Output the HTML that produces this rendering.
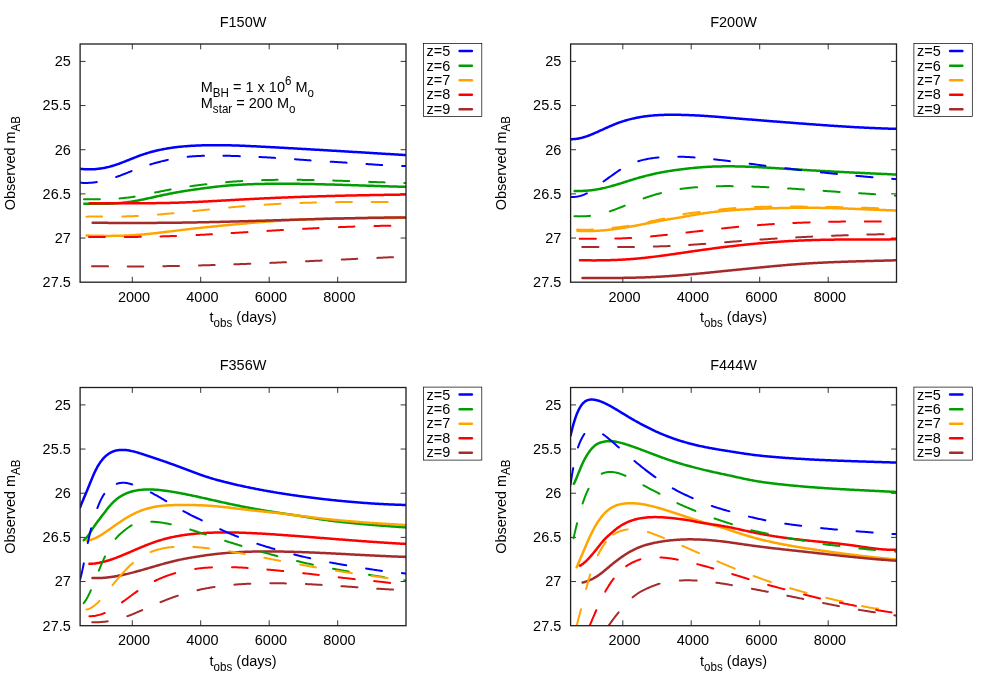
<!DOCTYPE html>
<html><head><meta charset="utf-8"><title>Observed m_AB light curves</title>
<style>
html,body{margin:0;padding:0;background:#fff;}
svg{display:block;will-change:transform;}
text{font-family:"Liberation Sans",sans-serif;font-size:14.5px;fill:#000;}
</style></head>
<body>
<svg width="981" height="687" viewBox="0 0 981 687">
<rect width="981" height="687" fill="#fff"/>
<g transform="translate(0.0,0.0)">
<clipPath id="cp0"><rect x="80.1" y="44.0" width="325.9" height="238.2"/></clipPath>
<text transform="translate(70.8,66.25) scale(1,1.045)" text-anchor="end">25</text>
<text transform="translate(70.8,110.41) scale(1,1.045)" text-anchor="end">25.5</text>
<text transform="translate(70.8,154.57) scale(1,1.045)" text-anchor="end">26</text>
<text transform="translate(70.8,198.73) scale(1,1.045)" text-anchor="end">26.5</text>
<text transform="translate(70.8,242.89) scale(1,1.045)" text-anchor="end">27</text>
<text transform="translate(70.8,287.05) scale(1,1.045)" text-anchor="end">27.5</text>
<text transform="translate(134.0,301.90) scale(1,1.045)" text-anchor="middle">2000</text>
<text transform="translate(202.39999999999998,301.90) scale(1,1.045)" text-anchor="middle">4000</text>
<text transform="translate(270.9,301.90) scale(1,1.045)" text-anchor="middle">6000</text>
<text transform="translate(339.4,301.90) scale(1,1.045)" text-anchor="middle">8000</text>
<path d="M80.1,61.40h5.4 M406.0,61.40h-5.4 M80.1,105.56h5.4 M406.0,105.56h-5.4 M80.1,149.72h5.4 M406.0,149.72h-5.4 M80.1,193.88h5.4 M406.0,193.88h-5.4 M80.1,238.04h5.4 M406.0,238.04h-5.4 M132.3,282.2v-5.4 M132.3,44.0v5.4 M200.7,282.2v-5.4 M200.7,44.0v5.4 M269.2,282.2v-5.4 M269.2,44.0v5.4 M337.7,282.2v-5.4 M337.7,44.0v5.4" stroke="#000" stroke-width="0.8" fill="none"/>
<text transform="translate(243.05,26.5) scale(1,1.045)" text-anchor="middle">F150W</text>
<text transform="translate(243.05,322.2) scale(1,1.045)" text-anchor="middle">t<tspan font-size="11.6" dy="4.6">obs</tspan><tspan dy="-4.6"> (days)</tspan></text>
<text transform="translate(15.1,163.10) rotate(-90) scale(1,1.045)" text-anchor="middle">Observed m<tspan font-size="11.6" dy="4.6">AB</tspan></text>
<g clip-path="url(#cp0)" fill="none" stroke-linecap="round" stroke-linejoin="round">
<path d="M80.00,168.80 L81.00,168.91 L82.00,169.00 L83.00,169.09 L84.00,169.16 L85.00,169.22 L86.00,169.26 L87.00,169.30 L88.00,169.32 L89.00,169.33 L90.00,169.33 L91.00,169.31 L92.00,169.29 L93.00,169.25 L94.00,169.19 L95.00,169.13 L96.00,169.05 L97.00,168.96 L98.00,168.85 L99.00,168.74 L100.00,168.61 L101.00,168.46 L102.00,168.31 L103.00,168.14 L104.00,167.96 L105.00,167.76 L106.00,167.56 L107.00,167.33 L108.00,167.10 L109.00,166.85 L110.00,166.59 L111.00,166.32 L112.00,166.03 L113.00,165.73 L114.00,165.42 L115.00,165.09 L116.00,164.76 L117.00,164.42 L118.00,164.07 L119.00,163.71 L120.00,163.34 L121.00,162.97 L122.00,162.59 L123.00,162.20 L124.00,161.81 L125.00,161.42 L126.00,161.02 L127.00,160.62 L128.00,160.22 L129.00,159.82 L130.00,159.42 L131.00,159.02 L132.00,158.62 L133.00,158.22 L134.00,157.82 L135.00,157.43 L136.00,157.04 L137.00,156.66 L138.00,156.28 L139.00,155.91 L140.00,155.54 L141.00,155.18 L142.00,154.83 L143.00,154.49 L144.00,154.16 L145.00,153.83 L146.00,153.51 L147.00,153.20 L148.00,152.90 L149.00,152.61 L150.00,152.32 L151.00,152.04 L152.00,151.77 L153.00,151.51 L154.00,151.25 L155.00,151.00 L156.00,150.76 L157.00,150.52 L158.00,150.29 L159.00,150.07 L160.00,149.86 L161.00,149.65 L162.00,149.44 L163.00,149.25 L164.00,149.05 L165.00,148.87 L166.00,148.69 L167.00,148.52 L168.00,148.35 L169.00,148.19 L170.00,148.03 L171.00,147.88 L172.00,147.74 L173.00,147.60 L174.00,147.46 L175.00,147.33 L176.00,147.21 L177.00,147.09 L178.00,146.97 L179.00,146.86 L180.00,146.76 L181.00,146.66 L182.00,146.56 L183.00,146.47 L184.00,146.38 L185.00,146.29 L186.00,146.21 L187.00,146.13 L188.00,146.06 L189.00,145.99 L190.00,145.92 L191.00,145.86 L192.00,145.80 L193.00,145.74 L194.00,145.69 L195.00,145.64 L196.00,145.59 L197.00,145.55 L198.00,145.51 L199.00,145.47 L200.00,145.43 L201.00,145.39 L202.00,145.36 L203.00,145.33 L204.00,145.31 L205.00,145.28 L206.00,145.26 L207.00,145.24 L208.00,145.22 L209.00,145.21 L210.00,145.19 L211.00,145.18 L212.00,145.18 L213.00,145.17 L214.00,145.16 L215.00,145.16 L216.00,145.16 L217.00,145.16 L218.00,145.17 L219.00,145.17 L220.00,145.18 L221.00,145.19 L222.00,145.20 L223.00,145.21 L224.00,145.23 L225.00,145.24 L226.00,145.26 L227.00,145.28 L228.00,145.30 L229.00,145.32 L230.00,145.35 L231.00,145.37 L232.00,145.40 L233.00,145.43 L234.00,145.46 L235.00,145.49 L236.00,145.52 L237.00,145.55 L238.00,145.59 L239.00,145.62 L240.00,145.66 L241.00,145.70 L242.00,145.74 L243.00,145.78 L244.00,145.82 L245.00,145.86 L246.00,145.90 L247.00,145.94 L248.00,145.99 L249.00,146.03 L250.00,146.08 L251.00,146.13 L252.00,146.17 L253.00,146.22 L254.00,146.27 L255.00,146.32 L256.00,146.37 L257.00,146.42 L258.00,146.47 L259.00,146.52 L260.00,146.57 L261.00,146.63 L262.00,146.68 L263.00,146.73 L264.00,146.78 L265.00,146.84 L266.00,146.89 L267.00,146.94 L268.00,147.00 L269.00,147.05 L270.00,147.10 L271.00,147.16 L272.00,147.21 L273.00,147.27 L274.00,147.32 L275.00,147.37 L276.00,147.43 L277.00,147.48 L278.00,147.54 L279.00,147.59 L280.00,147.65 L281.00,147.70 L282.00,147.76 L283.00,147.81 L284.00,147.87 L285.00,147.92 L286.00,147.98 L287.00,148.03 L288.00,148.09 L289.00,148.15 L290.00,148.20 L291.00,148.26 L292.00,148.31 L293.00,148.37 L294.00,148.43 L295.00,148.48 L296.00,148.54 L297.00,148.60 L298.00,148.65 L299.00,148.71 L300.00,148.77 L301.00,148.82 L302.00,148.88 L303.00,148.94 L304.00,149.00 L305.00,149.05 L306.00,149.11 L307.00,149.17 L308.00,149.23 L309.00,149.28 L310.00,149.34 L311.00,149.40 L312.00,149.46 L313.00,149.51 L314.00,149.57 L315.00,149.63 L316.00,149.69 L317.00,149.75 L318.00,149.81 L319.00,149.86 L320.00,149.92 L321.00,149.98 L322.00,150.04 L323.00,150.10 L324.00,150.16 L325.00,150.22 L326.00,150.27 L327.00,150.33 L328.00,150.39 L329.00,150.45 L330.00,150.51 L331.00,150.57 L332.00,150.63 L333.00,150.69 L334.00,150.75 L335.00,150.81 L336.00,150.87 L337.00,150.93 L338.00,150.99 L339.00,151.04 L340.00,151.10 L341.00,151.16 L342.00,151.22 L343.00,151.28 L344.00,151.34 L345.00,151.40 L346.00,151.46 L347.00,151.52 L348.00,151.58 L349.00,151.64 L350.00,151.70 L351.00,151.76 L352.00,151.82 L353.00,151.88 L354.00,151.94 L355.00,152.00 L356.00,152.06 L357.00,152.12 L358.00,152.18 L359.00,152.24 L360.00,152.30 L361.00,152.37 L362.00,152.43 L363.00,152.49 L364.00,152.55 L365.00,152.61 L366.00,152.67 L367.00,152.73 L368.00,152.79 L369.00,152.85 L370.00,152.91 L371.00,152.97 L372.00,153.03 L373.00,153.09 L374.00,153.15 L375.00,153.21 L376.00,153.27 L377.00,153.33 L378.00,153.39 L379.00,153.45 L380.00,153.51 L381.00,153.58 L382.00,153.64 L383.00,153.70 L384.00,153.76 L385.00,153.82 L386.00,153.88 L387.00,153.94 L388.00,154.00 L389.00,154.06 L390.00,154.12 L391.00,154.18 L392.00,154.24 L393.00,154.30 L394.00,154.36 L395.00,154.42 L396.00,154.48 L397.00,154.54 L398.00,154.60 L399.00,154.66 L400.00,154.72 L401.00,154.79 L402.00,154.85 L403.00,154.91 L404.00,154.97 L405.00,155.03 L406.00,155.09" stroke="#0000ff" stroke-width="2.5"/>
<path d="M84.25,203.69 L85.25,203.70 L86.25,203.72 L87.25,203.73 L88.25,203.74 L89.25,203.76 L90.25,203.77 L91.25,203.78 L92.25,203.79 L93.25,203.80 L94.25,203.80 L95.25,203.81 L96.25,203.81 L97.25,203.81 L98.25,203.81 L99.25,203.81 L100.25,203.81 L101.25,203.80 L102.25,203.79 L103.25,203.78 L104.25,203.76 L105.25,203.74 L106.25,203.72 L107.25,203.69 L108.25,203.67 L109.25,203.63 L110.25,203.60 L111.25,203.56 L112.25,203.51 L113.25,203.46 L114.25,203.41 L115.25,203.35 L116.25,203.29 L117.25,203.22 L118.25,203.15 L119.25,203.07 L120.25,202.99 L121.25,202.90 L122.25,202.80 L123.25,202.70 L124.25,202.60 L125.25,202.49 L126.25,202.37 L127.25,202.24 L128.25,202.11 L129.25,201.97 L130.25,201.83 L131.25,201.67 L132.25,201.52 L133.25,201.35 L134.25,201.18 L135.25,201.00 L136.25,200.82 L137.25,200.63 L138.25,200.44 L139.25,200.24 L140.25,200.04 L141.25,199.84 L142.25,199.63 L143.25,199.42 L144.25,199.20 L145.25,198.99 L146.25,198.77 L147.25,198.55 L148.25,198.33 L149.25,198.11 L150.25,197.88 L151.25,197.66 L152.25,197.44 L153.25,197.21 L154.25,196.99 L155.25,196.77 L156.25,196.55 L157.25,196.33 L158.25,196.11 L159.25,195.89 L160.25,195.67 L161.25,195.46 L162.25,195.24 L163.25,195.03 L164.25,194.82 L165.25,194.61 L166.25,194.41 L167.25,194.20 L168.25,194.00 L169.25,193.80 L170.25,193.60 L171.25,193.41 L172.25,193.22 L173.25,193.03 L174.25,192.84 L175.25,192.65 L176.25,192.47 L177.25,192.29 L178.25,192.11 L179.25,191.94 L180.25,191.76 L181.25,191.59 L182.25,191.43 L183.25,191.26 L184.25,191.10 L185.25,190.94 L186.25,190.79 L187.25,190.63 L188.25,190.48 L189.25,190.33 L190.25,190.18 L191.25,190.03 L192.25,189.88 L193.25,189.74 L194.25,189.59 L195.25,189.45 L196.25,189.31 L197.25,189.17 L198.25,189.02 L199.25,188.89 L200.25,188.75 L201.25,188.61 L202.25,188.47 L203.25,188.34 L204.25,188.21 L205.25,188.07 L206.25,187.94 L207.25,187.81 L208.25,187.68 L209.25,187.55 L210.25,187.43 L211.25,187.30 L212.25,187.18 L213.25,187.05 L214.25,186.93 L215.25,186.82 L216.25,186.70 L217.25,186.59 L218.25,186.48 L219.25,186.37 L220.25,186.27 L221.25,186.17 L222.25,186.07 L223.25,185.97 L224.25,185.88 L225.25,185.79 L226.25,185.70 L227.25,185.62 L228.25,185.53 L229.25,185.45 L230.25,185.37 L231.25,185.30 L232.25,185.22 L233.25,185.15 L234.25,185.08 L235.25,185.02 L236.25,184.95 L237.25,184.89 L238.25,184.83 L239.25,184.77 L240.25,184.71 L241.25,184.66 L242.25,184.61 L243.25,184.56 L244.25,184.51 L245.25,184.46 L246.25,184.42 L247.25,184.37 L248.25,184.33 L249.25,184.29 L250.25,184.25 L251.25,184.22 L252.25,184.18 L253.25,184.15 L254.25,184.12 L255.25,184.09 L256.25,184.06 L257.25,184.03 L258.25,184.01 L259.25,183.99 L260.25,183.96 L261.25,183.94 L262.25,183.92 L263.25,183.90 L264.25,183.89 L265.25,183.87 L266.25,183.86 L267.25,183.84 L268.25,183.83 L269.25,183.82 L270.25,183.81 L271.25,183.80 L272.25,183.79 L273.25,183.78 L274.25,183.78 L275.25,183.77 L276.25,183.77 L277.25,183.76 L278.25,183.76 L279.25,183.76 L280.25,183.76 L281.25,183.76 L282.25,183.76 L283.25,183.76 L284.25,183.76 L285.25,183.76 L286.25,183.76 L287.25,183.77 L288.25,183.77 L289.25,183.78 L290.25,183.79 L291.25,183.79 L292.25,183.80 L293.25,183.81 L294.25,183.82 L295.25,183.83 L296.25,183.84 L297.25,183.85 L298.25,183.86 L299.25,183.87 L300.25,183.88 L301.25,183.90 L302.25,183.91 L303.25,183.93 L304.25,183.94 L305.25,183.96 L306.25,183.97 L307.25,183.99 L308.25,184.01 L309.25,184.02 L310.25,184.04 L311.25,184.06 L312.25,184.08 L313.25,184.10 L314.25,184.12 L315.25,184.14 L316.25,184.16 L317.25,184.19 L318.25,184.21 L319.25,184.23 L320.25,184.25 L321.25,184.28 L322.25,184.30 L323.25,184.33 L324.25,184.35 L325.25,184.38 L326.25,184.40 L327.25,184.43 L328.25,184.45 L329.25,184.48 L330.25,184.51 L331.25,184.53 L332.25,184.56 L333.25,184.59 L334.25,184.62 L335.25,184.65 L336.25,184.68 L337.25,184.71 L338.25,184.73 L339.25,184.76 L340.25,184.79 L341.25,184.82 L342.25,184.85 L343.25,184.89 L344.25,184.92 L345.25,184.95 L346.25,184.98 L347.25,185.01 L348.25,185.04 L349.25,185.07 L350.25,185.11 L351.25,185.14 L352.25,185.17 L353.25,185.20 L354.25,185.23 L355.25,185.27 L356.25,185.30 L357.25,185.33 L358.25,185.37 L359.25,185.40 L360.25,185.43 L361.25,185.46 L362.25,185.50 L363.25,185.53 L364.25,185.56 L365.25,185.60 L366.25,185.63 L367.25,185.66 L368.25,185.70 L369.25,185.73 L370.25,185.76 L371.25,185.80 L372.25,185.83 L373.25,185.86 L374.25,185.90 L375.25,185.93 L376.25,185.96 L377.25,186.00 L378.25,186.03 L379.25,186.06 L380.25,186.09 L381.25,186.13 L382.25,186.16 L383.25,186.19 L384.25,186.22 L385.25,186.25 L386.25,186.29 L387.25,186.32 L388.25,186.35 L389.25,186.38 L390.25,186.41 L391.25,186.44 L392.25,186.47 L393.25,186.50 L394.25,186.53 L395.25,186.56 L396.25,186.59 L397.25,186.62 L398.25,186.65 L399.25,186.68 L400.25,186.71 L401.25,186.73 L402.25,186.76 L403.25,186.79 L404.25,186.82 L405.25,186.84 L406.00,186.86" stroke="#009e00" stroke-width="2.5"/>
<path d="M86.65,235.56 L87.65,235.58 L88.65,235.61 L89.65,235.63 L90.65,235.65 L91.65,235.68 L92.65,235.70 L93.65,235.72 L94.65,235.74 L95.65,235.76 L96.65,235.78 L97.65,235.79 L98.65,235.81 L99.65,235.82 L100.65,235.84 L101.65,235.85 L102.65,235.86 L103.65,235.87 L104.65,235.88 L105.65,235.88 L106.65,235.89 L107.65,235.89 L108.65,235.89 L109.65,235.89 L110.65,235.89 L111.65,235.88 L112.65,235.87 L113.65,235.86 L114.65,235.85 L115.65,235.84 L116.65,235.82 L117.65,235.81 L118.65,235.79 L119.65,235.76 L120.65,235.74 L121.65,235.71 L122.65,235.68 L123.65,235.65 L124.65,235.61 L125.65,235.57 L126.65,235.53 L127.65,235.48 L128.65,235.44 L129.65,235.39 L130.65,235.33 L131.65,235.28 L132.65,235.22 L133.65,235.15 L134.65,235.09 L135.65,235.02 L136.65,234.95 L137.65,234.87 L138.65,234.80 L139.65,234.72 L140.65,234.64 L141.65,234.55 L142.65,234.47 L143.65,234.38 L144.65,234.29 L145.65,234.19 L146.65,234.10 L147.65,234.00 L148.65,233.90 L149.65,233.80 L150.65,233.70 L151.65,233.59 L152.65,233.49 L153.65,233.38 L154.65,233.27 L155.65,233.16 L156.65,233.05 L157.65,232.93 L158.65,232.82 L159.65,232.70 L160.65,232.58 L161.65,232.47 L162.65,232.35 L163.65,232.23 L164.65,232.11 L165.65,231.98 L166.65,231.86 L167.65,231.74 L168.65,231.62 L169.65,231.49 L170.65,231.37 L171.65,231.24 L172.65,231.12 L173.65,230.99 L174.65,230.87 L175.65,230.74 L176.65,230.62 L177.65,230.49 L178.65,230.37 L179.65,230.24 L180.65,230.12 L181.65,229.99 L182.65,229.87 L183.65,229.75 L184.65,229.63 L185.65,229.51 L186.65,229.38 L187.65,229.26 L188.65,229.15 L189.65,229.03 L190.65,228.91 L191.65,228.80 L192.65,228.68 L193.65,228.57 L194.65,228.45 L195.65,228.34 L196.65,228.23 L197.65,228.12 L198.65,228.02 L199.65,227.91 L200.65,227.80 L201.65,227.70 L202.65,227.59 L203.65,227.49 L204.65,227.38 L205.65,227.28 L206.65,227.18 L207.65,227.07 L208.65,226.97 L209.65,226.87 L210.65,226.77 L211.65,226.67 L212.65,226.57 L213.65,226.47 L214.65,226.37 L215.65,226.27 L216.65,226.17 L217.65,226.07 L218.65,225.97 L219.65,225.87 L220.65,225.77 L221.65,225.68 L222.65,225.58 L223.65,225.48 L224.65,225.38 L225.65,225.28 L226.65,225.19 L227.65,225.09 L228.65,224.99 L229.65,224.89 L230.65,224.80 L231.65,224.70 L232.65,224.61 L233.65,224.51 L234.65,224.42 L235.65,224.32 L236.65,224.23 L237.65,224.13 L238.65,224.04 L239.65,223.95 L240.65,223.85 L241.65,223.76 L242.65,223.67 L243.65,223.58 L244.65,223.49 L245.65,223.40 L246.65,223.31 L247.65,223.22 L248.65,223.13 L249.65,223.04 L250.65,222.95 L251.65,222.87 L252.65,222.78 L253.65,222.70 L254.65,222.61 L255.65,222.53 L256.65,222.44 L257.65,222.36 L258.65,222.28 L259.65,222.20 L260.65,222.11 L261.65,222.03 L262.65,221.95 L263.65,221.88 L264.65,221.80 L265.65,221.72 L266.65,221.64 L267.65,221.57 L268.65,221.49 L269.65,221.42 L270.65,221.35 L271.65,221.27 L272.65,221.20 L273.65,221.13 L274.65,221.06 L275.65,220.99 L276.65,220.93 L277.65,220.86 L278.65,220.79 L279.65,220.73 L280.65,220.66 L281.65,220.60 L282.65,220.54 L283.65,220.48 L284.65,220.42 L285.65,220.36 L286.65,220.30 L287.65,220.24 L288.65,220.19 L289.65,220.13 L290.65,220.08 L291.65,220.02 L292.65,219.97 L293.65,219.92 L294.65,219.87 L295.65,219.82 L296.65,219.78 L297.65,219.73 L298.65,219.68 L299.65,219.64 L300.65,219.59 L301.65,219.55 L302.65,219.51 L303.65,219.47 L304.65,219.42 L305.65,219.38 L306.65,219.35 L307.65,219.31 L308.65,219.27 L309.65,219.23 L310.65,219.20 L311.65,219.16 L312.65,219.13 L313.65,219.09 L314.65,219.06 L315.65,219.03 L316.65,219.00 L317.65,218.97 L318.65,218.94 L319.65,218.91 L320.65,218.88 L321.65,218.85 L322.65,218.83 L323.65,218.80 L324.65,218.77 L325.65,218.75 L326.65,218.72 L327.65,218.70 L328.65,218.68 L329.65,218.65 L330.65,218.63 L331.65,218.61 L332.65,218.59 L333.65,218.57 L334.65,218.55 L335.65,218.53 L336.65,218.51 L337.65,218.49 L338.65,218.47 L339.65,218.46 L340.65,218.44 L341.65,218.42 L342.65,218.41 L343.65,218.39 L344.65,218.38 L345.65,218.36 L346.65,218.35 L347.65,218.33 L348.65,218.32 L349.65,218.30 L350.65,218.29 L351.65,218.28 L352.65,218.27 L353.65,218.25 L354.65,218.24 L355.65,218.23 L356.65,218.22 L357.65,218.21 L358.65,218.20 L359.65,218.19 L360.65,218.18 L361.65,218.17 L362.65,218.16 L363.65,218.15 L364.65,218.14 L365.65,218.13 L366.65,218.12 L367.65,218.11 L368.65,218.10 L369.65,218.10 L370.65,218.09 L371.65,218.08 L372.65,218.07 L373.65,218.06 L374.65,218.05 L375.65,218.05 L376.65,218.04 L377.65,218.03 L378.65,218.02 L379.65,218.01 L380.65,218.01 L381.65,218.00 L382.65,217.99 L383.65,217.98 L384.65,217.98 L385.65,217.97 L386.65,217.96 L387.65,217.95 L388.65,217.94 L389.65,217.94 L390.65,217.93 L391.65,217.92 L392.65,217.91 L393.65,217.90 L394.65,217.89 L395.65,217.88 L396.65,217.87 L397.65,217.86 L398.65,217.86 L399.65,217.85 L400.65,217.84 L401.65,217.83 L402.65,217.82 L403.65,217.80 L404.65,217.79 L405.65,217.78 L406.00,217.78" stroke="#ffa500" stroke-width="2.5"/>
<path d="M89.65,203.17 L90.65,203.17 L91.65,203.16 L92.65,203.16 L93.65,203.16 L94.65,203.16 L95.65,203.16 L96.65,203.16 L97.65,203.16 L98.65,203.16 L99.65,203.16 L100.65,203.17 L101.65,203.17 L102.65,203.17 L103.65,203.17 L104.65,203.17 L105.65,203.18 L106.65,203.18 L107.65,203.18 L108.65,203.19 L109.65,203.19 L110.65,203.19 L111.65,203.20 L112.65,203.20 L113.65,203.20 L114.65,203.21 L115.65,203.21 L116.65,203.21 L117.65,203.22 L118.65,203.22 L119.65,203.22 L120.65,203.23 L121.65,203.23 L122.65,203.23 L123.65,203.24 L124.65,203.24 L125.65,203.24 L126.65,203.24 L127.65,203.25 L128.65,203.25 L129.65,203.25 L130.65,203.25 L131.65,203.25 L132.65,203.25 L133.65,203.25 L134.65,203.25 L135.65,203.25 L136.65,203.25 L137.65,203.25 L138.65,203.25 L139.65,203.24 L140.65,203.24 L141.65,203.24 L142.65,203.24 L143.65,203.23 L144.65,203.23 L145.65,203.22 L146.65,203.21 L147.65,203.21 L148.65,203.20 L149.65,203.19 L150.65,203.18 L151.65,203.17 L152.65,203.16 L153.65,203.15 L154.65,203.14 L155.65,203.13 L156.65,203.12 L157.65,203.10 L158.65,203.09 L159.65,203.07 L160.65,203.06 L161.65,203.04 L162.65,203.02 L163.65,203.01 L164.65,202.99 L165.65,202.97 L166.65,202.95 L167.65,202.93 L168.65,202.90 L169.65,202.88 L170.65,202.86 L171.65,202.83 L172.65,202.81 L173.65,202.78 L174.65,202.75 L175.65,202.73 L176.65,202.70 L177.65,202.67 L178.65,202.64 L179.65,202.60 L180.65,202.57 L181.65,202.54 L182.65,202.50 L183.65,202.47 L184.65,202.43 L185.65,202.39 L186.65,202.35 L187.65,202.31 L188.65,202.27 L189.65,202.23 L190.65,202.19 L191.65,202.15 L192.65,202.11 L193.65,202.06 L194.65,202.02 L195.65,201.97 L196.65,201.93 L197.65,201.88 L198.65,201.83 L199.65,201.78 L200.65,201.74 L201.65,201.69 L202.65,201.64 L203.65,201.59 L204.65,201.54 L205.65,201.49 L206.65,201.43 L207.65,201.38 L208.65,201.33 L209.65,201.28 L210.65,201.22 L211.65,201.17 L212.65,201.12 L213.65,201.06 L214.65,201.01 L215.65,200.95 L216.65,200.90 L217.65,200.84 L218.65,200.79 L219.65,200.73 L220.65,200.68 L221.65,200.62 L222.65,200.56 L223.65,200.51 L224.65,200.45 L225.65,200.40 L226.65,200.34 L227.65,200.28 L228.65,200.23 L229.65,200.17 L230.65,200.11 L231.65,200.06 L232.65,200.00 L233.65,199.95 L234.65,199.89 L235.65,199.83 L236.65,199.78 L237.65,199.72 L238.65,199.67 L239.65,199.61 L240.65,199.56 L241.65,199.50 L242.65,199.45 L243.65,199.40 L244.65,199.34 L245.65,199.29 L246.65,199.24 L247.65,199.18 L248.65,199.13 L249.65,199.08 L250.65,199.03 L251.65,198.98 L252.65,198.93 L253.65,198.88 L254.65,198.83 L255.65,198.78 L256.65,198.73 L257.65,198.68 L258.65,198.63 L259.65,198.59 L260.65,198.54 L261.65,198.49 L262.65,198.44 L263.65,198.40 L264.65,198.35 L265.65,198.31 L266.65,198.26 L267.65,198.21 L268.65,198.17 L269.65,198.13 L270.65,198.08 L271.65,198.04 L272.65,197.99 L273.65,197.95 L274.65,197.91 L275.65,197.87 L276.65,197.82 L277.65,197.78 L278.65,197.74 L279.65,197.70 L280.65,197.66 L281.65,197.62 L282.65,197.58 L283.65,197.54 L284.65,197.50 L285.65,197.46 L286.65,197.42 L287.65,197.38 L288.65,197.34 L289.65,197.31 L290.65,197.27 L291.65,197.23 L292.65,197.19 L293.65,197.16 L294.65,197.12 L295.65,197.09 L296.65,197.05 L297.65,197.01 L298.65,196.98 L299.65,196.94 L300.65,196.91 L301.65,196.87 L302.65,196.84 L303.65,196.81 L304.65,196.77 L305.65,196.74 L306.65,196.71 L307.65,196.67 L308.65,196.64 L309.65,196.61 L310.65,196.58 L311.65,196.55 L312.65,196.52 L313.65,196.48 L314.65,196.45 L315.65,196.42 L316.65,196.39 L317.65,196.36 L318.65,196.33 L319.65,196.30 L320.65,196.27 L321.65,196.25 L322.65,196.22 L323.65,196.19 L324.65,196.16 L325.65,196.13 L326.65,196.10 L327.65,196.08 L328.65,196.05 L329.65,196.02 L330.65,196.00 L331.65,195.97 L332.65,195.94 L333.65,195.92 L334.65,195.89 L335.65,195.87 L336.65,195.84 L337.65,195.82 L338.65,195.79 L339.65,195.77 L340.65,195.74 L341.65,195.72 L342.65,195.69 L343.65,195.67 L344.65,195.65 L345.65,195.62 L346.65,195.60 L347.65,195.58 L348.65,195.55 L349.65,195.53 L350.65,195.51 L351.65,195.49 L352.65,195.47 L353.65,195.44 L354.65,195.42 L355.65,195.40 L356.65,195.38 L357.65,195.36 L358.65,195.34 L359.65,195.32 L360.65,195.30 L361.65,195.28 L362.65,195.26 L363.65,195.24 L364.65,195.22 L365.65,195.20 L366.65,195.18 L367.65,195.16 L368.65,195.14 L369.65,195.12 L370.65,195.10 L371.65,195.09 L372.65,195.07 L373.65,195.05 L374.65,195.03 L375.65,195.01 L376.65,195.00 L377.65,194.98 L378.65,194.96 L379.65,194.95 L380.65,194.93 L381.65,194.91 L382.65,194.90 L383.65,194.88 L384.65,194.86 L385.65,194.85 L386.65,194.83 L387.65,194.82 L388.65,194.80 L389.65,194.78 L390.65,194.77 L391.65,194.75 L392.65,194.74 L393.65,194.72 L394.65,194.71 L395.65,194.69 L396.65,194.68 L397.65,194.66 L398.65,194.65 L399.65,194.64 L400.65,194.62 L401.65,194.61 L402.65,194.59 L403.65,194.58 L404.65,194.57 L405.65,194.55 L406.00,194.55" stroke="#ff0000" stroke-width="2.5"/>
<path d="M92.65,222.74 L93.65,222.75 L94.65,222.76 L95.65,222.77 L96.65,222.78 L97.65,222.79 L98.65,222.80 L99.65,222.81 L100.65,222.82 L101.65,222.83 L102.65,222.84 L103.65,222.84 L104.65,222.85 L105.65,222.86 L106.65,222.87 L107.65,222.87 L108.65,222.88 L109.65,222.89 L110.65,222.89 L111.65,222.90 L112.65,222.91 L113.65,222.91 L114.65,222.92 L115.65,222.92 L116.65,222.93 L117.65,222.93 L118.65,222.93 L119.65,222.94 L120.65,222.94 L121.65,222.94 L122.65,222.95 L123.65,222.95 L124.65,222.95 L125.65,222.95 L126.65,222.96 L127.65,222.96 L128.65,222.96 L129.65,222.96 L130.65,222.96 L131.65,222.96 L132.65,222.96 L133.65,222.96 L134.65,222.96 L135.65,222.96 L136.65,222.96 L137.65,222.96 L138.65,222.96 L139.65,222.95 L140.65,222.95 L141.65,222.95 L142.65,222.95 L143.65,222.94 L144.65,222.94 L145.65,222.94 L146.65,222.93 L147.65,222.93 L148.65,222.93 L149.65,222.92 L150.65,222.92 L151.65,222.91 L152.65,222.91 L153.65,222.90 L154.65,222.89 L155.65,222.89 L156.65,222.88 L157.65,222.87 L158.65,222.87 L159.65,222.86 L160.65,222.85 L161.65,222.84 L162.65,222.84 L163.65,222.83 L164.65,222.82 L165.65,222.81 L166.65,222.80 L167.65,222.79 L168.65,222.78 L169.65,222.77 L170.65,222.76 L171.65,222.75 L172.65,222.74 L173.65,222.73 L174.65,222.71 L175.65,222.70 L176.65,222.69 L177.65,222.68 L178.65,222.67 L179.65,222.65 L180.65,222.64 L181.65,222.63 L182.65,222.61 L183.65,222.60 L184.65,222.58 L185.65,222.57 L186.65,222.55 L187.65,222.54 L188.65,222.52 L189.65,222.51 L190.65,222.49 L191.65,222.47 L192.65,222.46 L193.65,222.44 L194.65,222.42 L195.65,222.40 L196.65,222.39 L197.65,222.37 L198.65,222.35 L199.65,222.33 L200.65,222.31 L201.65,222.29 L202.65,222.27 L203.65,222.25 L204.65,222.23 L205.65,222.21 L206.65,222.19 L207.65,222.17 L208.65,222.15 L209.65,222.12 L210.65,222.10 L211.65,222.08 L212.65,222.06 L213.65,222.03 L214.65,222.01 L215.65,221.99 L216.65,221.96 L217.65,221.94 L218.65,221.92 L219.65,221.89 L220.65,221.87 L221.65,221.84 L222.65,221.82 L223.65,221.79 L224.65,221.77 L225.65,221.74 L226.65,221.72 L227.65,221.69 L228.65,221.66 L229.65,221.64 L230.65,221.61 L231.65,221.58 L232.65,221.56 L233.65,221.53 L234.65,221.50 L235.65,221.48 L236.65,221.45 L237.65,221.42 L238.65,221.39 L239.65,221.36 L240.65,221.34 L241.65,221.31 L242.65,221.28 L243.65,221.25 L244.65,221.22 L245.65,221.19 L246.65,221.16 L247.65,221.14 L248.65,221.11 L249.65,221.08 L250.65,221.05 L251.65,221.02 L252.65,220.99 L253.65,220.96 L254.65,220.93 L255.65,220.90 L256.65,220.87 L257.65,220.84 L258.65,220.81 L259.65,220.78 L260.65,220.75 L261.65,220.72 L262.65,220.69 L263.65,220.66 L264.65,220.63 L265.65,220.60 L266.65,220.57 L267.65,220.54 L268.65,220.51 L269.65,220.48 L270.65,220.45 L271.65,220.42 L272.65,220.38 L273.65,220.35 L274.65,220.32 L275.65,220.29 L276.65,220.26 L277.65,220.23 L278.65,220.20 L279.65,220.17 L280.65,220.14 L281.65,220.11 L282.65,220.08 L283.65,220.05 L284.65,220.02 L285.65,219.99 L286.65,219.96 L287.65,219.93 L288.65,219.90 L289.65,219.87 L290.65,219.84 L291.65,219.81 L292.65,219.78 L293.65,219.75 L294.65,219.72 L295.65,219.69 L296.65,219.66 L297.65,219.63 L298.65,219.60 L299.65,219.57 L300.65,219.54 L301.65,219.51 L302.65,219.48 L303.65,219.45 L304.65,219.42 L305.65,219.39 L306.65,219.36 L307.65,219.33 L308.65,219.30 L309.65,219.28 L310.65,219.25 L311.65,219.22 L312.65,219.19 L313.65,219.16 L314.65,219.13 L315.65,219.11 L316.65,219.08 L317.65,219.05 L318.65,219.02 L319.65,218.99 L320.65,218.97 L321.65,218.94 L322.65,218.91 L323.65,218.89 L324.65,218.86 L325.65,218.83 L326.65,218.81 L327.65,218.78 L328.65,218.75 L329.65,218.73 L330.65,218.70 L331.65,218.67 L332.65,218.65 L333.65,218.62 L334.65,218.60 L335.65,218.57 L336.65,218.55 L337.65,218.52 L338.65,218.50 L339.65,218.48 L340.65,218.45 L341.65,218.43 L342.65,218.40 L343.65,218.38 L344.65,218.36 L345.65,218.33 L346.65,218.31 L347.65,218.29 L348.65,218.27 L349.65,218.24 L350.65,218.22 L351.65,218.20 L352.65,218.18 L353.65,218.16 L354.65,218.14 L355.65,218.11 L356.65,218.09 L357.65,218.07 L358.65,218.05 L359.65,218.03 L360.65,218.01 L361.65,217.99 L362.65,217.98 L363.65,217.96 L364.65,217.94 L365.65,217.92 L366.65,217.90 L367.65,217.88 L368.65,217.86 L369.65,217.85 L370.65,217.83 L371.65,217.81 L372.65,217.80 L373.65,217.78 L374.65,217.76 L375.65,217.75 L376.65,217.73 L377.65,217.72 L378.65,217.70 L379.65,217.69 L380.65,217.67 L381.65,217.66 L382.65,217.64 L383.65,217.63 L384.65,217.61 L385.65,217.60 L386.65,217.59 L387.65,217.57 L388.65,217.56 L389.65,217.55 L390.65,217.54 L391.65,217.53 L392.65,217.51 L393.65,217.50 L394.65,217.49 L395.65,217.48 L396.65,217.47 L397.65,217.46 L398.65,217.45 L399.65,217.44 L400.65,217.43 L401.65,217.42 L402.65,217.41 L403.65,217.41 L404.65,217.40 L405.65,217.39 L406.00,217.39" stroke="#a52a2a" stroke-width="2.5"/>
<path d="M80.00,182.69 L81.00,182.78 L82.00,182.84 L83.00,182.89 L84.00,182.93 L85.00,182.95 L86.00,182.95 L87.00,182.94 L88.00,182.91 L89.00,182.87 L90.00,182.82 L91.00,182.75 L92.00,182.67 L93.00,182.57 L94.00,182.46 L95.00,182.34 L96.00,182.20 L96.81,182.09 M116.25,177.04 L117.25,176.68 L118.25,176.31 L119.25,175.94 L120.25,175.57 L121.25,175.19 L122.25,174.80 L123.25,174.41 L124.25,174.02 L125.25,173.63 L126.25,173.23 L127.25,172.83 L128.25,172.44 L129.25,172.04 L130.25,171.65 L131.25,171.25 L131.57,171.13 M150.25,164.52 L151.25,164.21 L152.25,163.90 L153.25,163.60 L154.25,163.31 L155.25,163.02 L156.25,162.74 L157.25,162.46 L158.25,162.19 L159.25,161.92 L160.25,161.66 L161.25,161.40 L162.25,161.15 L163.25,160.91 L164.25,160.67 L165.25,160.44 L166.25,160.21 L167.25,159.99 L167.82,159.87 M187.69,156.81 L188.69,156.71 L189.69,156.62 L190.69,156.53 L191.69,156.45 L192.69,156.37 L193.69,156.29 L194.69,156.22 L195.69,156.15 L196.69,156.09 L197.69,156.03 L198.69,155.98 L199.69,155.93 L200.69,155.88 L201.69,155.84 L202.69,155.80 L203.69,155.77 L204.00,155.76 M223.40,155.68 L224.40,155.70 L225.40,155.72 L226.40,155.74 L227.40,155.77 L228.40,155.79 L229.40,155.82 L230.40,155.85 L231.40,155.88 L232.40,155.91 L233.40,155.94 L234.40,155.98 L235.40,156.01 L236.40,156.05 L237.40,156.08 L238.40,156.12 L239.40,156.15 L239.90,156.17 M259.40,156.98 L260.40,157.03 L261.40,157.08 L262.40,157.13 L263.40,157.19 L264.40,157.24 L265.40,157.30 L266.40,157.36 L267.40,157.42 L268.40,157.48 L269.40,157.54 L270.40,157.60 L271.40,157.66 L272.40,157.73 L273.40,157.79 L274.40,157.86 L275.10,157.90 M295.00,159.30 L296.00,159.37 L297.00,159.44 L298.00,159.51 L299.00,159.58 L300.00,159.66 L301.00,159.73 L302.00,159.80 L303.00,159.87 L304.00,159.94 L305.00,160.01 L306.00,160.08 L307.00,160.15 L308.00,160.22 L309.00,160.28 L310.00,160.35 L310.60,160.39 M330.70,161.65 L331.70,161.71 L332.70,161.77 L333.70,161.83 L334.70,161.89 L335.70,161.95 L336.70,162.02 L337.70,162.08 L338.70,162.14 L339.70,162.20 L340.70,162.26 L341.70,162.33 L342.70,162.39 L343.70,162.45 L344.70,162.52 L345.70,162.58 L346.60,162.64 M366.50,164.02 L367.50,164.09 L368.50,164.16 L369.50,164.23 L370.50,164.30 L371.50,164.37 L372.50,164.44 L373.50,164.50 L374.50,164.57 L375.50,164.64 L376.50,164.70 L377.50,164.77 L378.50,164.83 L379.50,164.90 L380.50,164.96 L381.50,165.02 L382.10,165.06 M402.10,166.02 L403.10,166.05 L404.10,166.08 L405.10,166.11 L406.00,166.13" stroke="#0000ff" stroke-width="2.0"/>
<path d="M84.00,199.15 L85.00,199.17 L86.00,199.19 L87.00,199.21 L88.00,199.23 L89.00,199.25 L90.00,199.26 L91.00,199.27 L92.00,199.28 L93.00,199.28 L94.00,199.28 L95.00,199.28 L96.00,199.28 L97.00,199.28 L98.00,199.27 L99.00,199.26 L99.90,199.25 M119.50,198.40 L120.50,198.33 L121.50,198.24 L122.50,198.15 L123.50,198.06 L124.50,197.96 L125.50,197.86 L126.50,197.75 L127.50,197.63 L128.50,197.52 L129.50,197.39 L130.50,197.26 L131.50,197.12 L132.50,196.98 L133.50,196.83 L134.50,196.67 L134.71,196.64 M155.08,192.54 L156.08,192.33 L157.08,192.12 L158.08,191.91 L159.08,191.71 L160.08,191.51 L161.08,191.31 L162.08,191.11 L163.08,190.92 L164.08,190.72 L165.08,190.53 L166.08,190.34 L167.08,190.15 L168.08,189.96 L169.08,189.78 L170.08,189.60 L170.72,189.48 M190.39,186.27 L191.39,186.13 L192.39,185.98 L193.39,185.84 L194.39,185.70 L195.39,185.57 L196.39,185.43 L197.39,185.30 L198.39,185.16 L199.39,185.03 L200.39,184.90 L201.39,184.78 L202.39,184.65 L203.39,184.53 L204.39,184.41 L205.39,184.29 L206.39,184.17 L206.41,184.17 M226.10,182.18 L227.10,182.09 L228.10,182.01 L229.10,181.93 L230.10,181.85 L231.10,181.77 L232.10,181.70 L233.10,181.62 L234.10,181.55 L235.10,181.48 L236.10,181.41 L237.10,181.34 L238.10,181.28 L239.10,181.21 L240.10,181.15 L241.10,181.09 L242.10,181.03 L242.30,181.02 M262.10,180.15 L263.10,180.12 L264.10,180.09 L265.10,180.06 L266.10,180.04 L267.10,180.01 L268.10,179.99 L269.10,179.97 L270.10,179.95 L271.10,179.93 L272.10,179.91 L273.10,179.90 L274.10,179.88 L275.10,179.87 L276.10,179.85 L277.10,179.84 L277.60,179.84 M297.50,179.82 L298.50,179.83 L299.50,179.84 L300.50,179.85 L301.50,179.86 L302.50,179.88 L303.50,179.89 L304.50,179.90 L305.50,179.92 L306.50,179.93 L307.50,179.95 L308.50,179.97 L309.50,179.99 L310.50,180.00 L311.50,180.02 L312.50,180.04 L313.50,180.06 L313.60,180.06 M333.20,180.58 L334.20,180.61 L335.20,180.64 L336.20,180.67 L337.20,180.71 L338.20,180.74 L339.20,180.77 L340.20,180.81 L341.20,180.84 L342.20,180.87 L343.20,180.91 L344.20,180.94 L345.20,180.98 L346.20,181.01 L347.20,181.04 L348.20,181.08 L349.10,181.11 M369.20,181.84 L370.20,181.88 L371.20,181.91 L372.20,181.95 L373.20,181.98 L374.20,182.02 L375.20,182.06 L376.20,182.09 L377.20,182.13 L378.20,182.16 L379.20,182.20 L380.20,182.23 L381.20,182.26 L382.20,182.30 L383.20,182.33 L384.20,182.37 L384.60,182.38 M404.30,182.96 L405.30,182.99 L406.00,183.00" stroke="#009e00" stroke-width="2.0"/>
<path d="M86.40,216.65 L87.40,216.64 L88.40,216.62 L89.40,216.61 L90.40,216.60 L91.40,216.59 L92.40,216.58 L93.40,216.57 L94.40,216.56 L95.40,216.55 L96.40,216.55 L97.40,216.55 L98.40,216.54 L99.40,216.54 L100.40,216.54 L101.40,216.54 L102.10,216.53 M122.30,216.44 L123.30,216.42 L124.30,216.40 L125.30,216.38 L126.30,216.36 L127.30,216.34 L128.30,216.31 L129.30,216.29 L130.30,216.26 L131.30,216.23 L132.30,216.19 L133.30,216.16 L134.30,216.12 L135.30,216.08 L136.30,216.04 L137.30,216.00 L137.90,215.97 M158.00,214.60 L159.00,214.51 L160.00,214.42 L161.00,214.33 L162.00,214.24 L163.00,214.15 L164.00,214.06 L165.00,213.97 L166.00,213.87 L167.00,213.78 L168.00,213.68 L169.00,213.59 L170.00,213.49 L171.00,213.39 L172.00,213.29 L173.00,213.19 L173.50,213.14 M193.39,211.09 L194.39,210.99 L195.39,210.88 L196.39,210.78 L197.39,210.68 L198.39,210.57 L199.39,210.47 L200.39,210.36 L201.39,210.26 L202.39,210.15 L203.39,210.05 L204.39,209.95 L205.39,209.84 L206.39,209.74 L207.39,209.63 L208.39,209.53 L209.01,209.47 M229.10,207.48 L230.10,207.39 L231.10,207.30 L232.10,207.20 L233.10,207.11 L234.10,207.02 L235.10,206.93 L236.10,206.84 L237.10,206.76 L238.10,206.67 L239.10,206.58 L240.10,206.50 L241.10,206.41 L242.10,206.33 L243.10,206.24 L244.10,206.16 L244.50,206.13 M264.60,204.69 L265.60,204.63 L266.60,204.56 L267.60,204.50 L268.60,204.44 L269.60,204.39 L270.60,204.33 L271.60,204.27 L272.60,204.21 L273.60,204.16 L274.60,204.10 L275.60,204.05 L276.60,204.00 L277.60,203.95 L278.60,203.90 L279.60,203.84 L280.50,203.80 M300.40,202.97 L301.40,202.94 L302.40,202.90 L303.40,202.87 L304.40,202.84 L305.40,202.81 L306.40,202.78 L307.40,202.75 L308.40,202.72 L309.40,202.69 L310.40,202.66 L311.40,202.63 L312.40,202.60 L313.40,202.58 L314.40,202.55 L315.40,202.53 L316.10,202.51 M336.00,202.14 L337.00,202.13 L338.00,202.12 L339.00,202.10 L340.00,202.09 L341.00,202.08 L342.00,202.07 L343.00,202.06 L344.00,202.05 L345.00,202.04 L346.00,202.03 L347.00,202.03 L348.00,202.02 L349.00,202.01 L350.00,202.00 L351.00,202.00 L351.90,201.99 M371.70,201.95 L372.70,201.96 L373.70,201.96 L374.70,201.96 L375.70,201.96 L376.70,201.97 L377.70,201.97 L378.70,201.97 L379.70,201.98 L380.70,201.98 L381.70,201.99 L382.70,201.99 L383.70,202.00 L384.70,202.00 L385.70,202.01 L386.70,202.01 L387.60,202.02" stroke="#ffa500" stroke-width="2.0"/>
<path d="M89.00,237.10 L90.00,237.10 L91.00,237.10 L92.00,237.11 L93.00,237.11 L94.00,237.11 L95.00,237.11 L96.00,237.11 L97.00,237.11 L98.00,237.11 L99.00,237.11 L100.00,237.11 L101.00,237.11 L102.00,237.11 L103.00,237.11 L104.00,237.11 L104.90,237.11 M124.80,237.02 L125.80,237.01 L126.80,237.00 L127.80,236.99 L128.80,236.98 L129.80,236.97 L130.80,236.96 L131.80,236.95 L132.80,236.94 L133.80,236.93 L134.80,236.92 L135.80,236.90 L136.80,236.89 L137.80,236.88 L138.80,236.86 L139.80,236.85 L140.80,236.83 L140.90,236.83 M160.50,236.42 L161.50,236.39 L162.50,236.36 L163.50,236.34 L164.50,236.31 L165.50,236.28 L166.50,236.25 L167.50,236.22 L168.50,236.19 L169.50,236.15 L170.50,236.12 L171.50,236.09 L172.50,236.05 L173.50,236.02 L174.50,235.98 L175.50,235.95 L176.10,235.93 M196.50,235.04 L197.50,234.99 L198.50,234.94 L199.50,234.89 L200.50,234.84 L201.50,234.79 L202.50,234.73 L203.50,234.68 L204.50,234.63 L205.50,234.57 L206.50,234.52 L207.50,234.47 L208.50,234.41 L209.50,234.36 L210.50,234.30 L211.50,234.25 L212.00,234.22 M231.60,233.07 L232.60,233.01 L233.60,232.95 L234.60,232.89 L235.60,232.82 L236.60,232.76 L237.60,232.70 L238.60,232.64 L239.60,232.58 L240.60,232.52 L241.60,232.46 L242.60,232.39 L243.60,232.33 L244.60,232.27 L245.60,232.21 L246.60,232.15 L247.50,232.09 M267.40,230.88 L268.40,230.82 L269.40,230.76 L270.40,230.70 L271.40,230.64 L272.40,230.58 L273.40,230.53 L274.40,230.47 L275.40,230.41 L276.40,230.35 L277.40,230.29 L278.40,230.23 L279.40,230.17 L280.40,230.12 L281.40,230.06 L282.40,230.00 L283.00,229.97 M303.10,228.85 L304.10,228.80 L305.10,228.75 L306.10,228.69 L307.10,228.64 L308.10,228.59 L309.10,228.54 L310.10,228.49 L311.10,228.44 L312.10,228.39 L313.10,228.34 L314.10,228.29 L315.10,228.24 L316.10,228.19 L317.10,228.14 L318.10,228.09 L318.60,228.06 M338.90,227.16 L339.90,227.12 L340.90,227.08 L341.90,227.04 L342.90,227.00 L343.90,226.96 L344.90,226.92 L345.90,226.88 L346.90,226.84 L347.90,226.81 L348.90,226.77 L349.90,226.73 L350.90,226.70 L351.90,226.66 L352.90,226.63 L353.90,226.59 L354.40,226.58 M374.50,225.99 L375.50,225.97 L376.50,225.95 L377.50,225.93 L378.50,225.90 L379.50,225.88 L380.50,225.86 L381.50,225.84 L382.50,225.82 L383.50,225.80 L384.50,225.79 L385.50,225.77 L386.50,225.75 L387.50,225.74 L388.50,225.72 L389.50,225.71 L390.40,225.69" stroke="#ff0000" stroke-width="2.0"/>
<path d="M92.00,266.15 L93.00,266.17 L94.00,266.19 L95.00,266.20 L96.00,266.22 L97.00,266.23 L98.00,266.25 L99.00,266.26 L100.00,266.28 L101.00,266.29 L102.00,266.30 L103.00,266.31 L104.00,266.32 L105.00,266.34 L106.00,266.35 L107.00,266.36 L108.00,266.37 L108.00,266.37 M127.70,266.45 L128.70,266.45 L129.70,266.45 L130.70,266.45 L131.70,266.45 L132.70,266.45 L133.70,266.45 L134.70,266.44 L135.70,266.44 L136.70,266.44 L137.70,266.43 L138.70,266.43 L139.70,266.42 L140.70,266.42 L141.70,266.41 L142.70,266.41 L143.30,266.40 M163.30,266.19 L164.30,266.17 L165.30,266.16 L166.30,266.14 L167.30,266.12 L168.30,266.11 L169.30,266.09 L170.30,266.07 L171.30,266.06 L172.30,266.04 L173.30,266.02 L174.30,266.00 L175.30,265.98 L176.30,265.96 L177.30,265.94 L178.30,265.92 L179.00,265.91 M199.00,265.44 L200.00,265.41 L201.00,265.39 L202.00,265.36 L203.00,265.33 L204.00,265.30 L205.00,265.27 L206.00,265.24 L207.00,265.22 L208.00,265.19 L209.00,265.16 L210.00,265.13 L211.00,265.10 L212.00,265.07 L213.00,265.04 L214.00,265.01 L214.70,264.98 M234.30,264.32 L235.30,264.29 L236.30,264.25 L237.30,264.22 L238.30,264.18 L239.30,264.14 L240.30,264.10 L241.30,264.07 L242.30,264.03 L243.30,263.99 L244.30,263.95 L245.30,263.92 L246.30,263.88 L247.30,263.84 L248.30,263.80 L249.30,263.76 L250.30,263.72 L250.30,263.72 M270.30,262.90 L271.30,262.86 L272.30,262.81 L273.30,262.77 L274.30,262.73 L275.30,262.68 L276.30,262.64 L277.30,262.60 L278.30,262.55 L279.30,262.51 L280.30,262.46 L281.30,262.42 L282.30,262.37 L283.30,262.33 L284.30,262.29 L285.30,262.24 L286.00,262.21 M306.00,261.29 L307.00,261.24 L308.00,261.20 L309.00,261.15 L310.00,261.10 L311.00,261.05 L312.00,261.01 L313.00,260.96 L314.00,260.91 L315.00,260.87 L316.00,260.82 L317.00,260.77 L318.00,260.72 L319.00,260.68 L320.00,260.63 L321.00,260.58 L321.70,260.55 M341.70,259.58 L342.70,259.54 L343.70,259.49 L344.70,259.44 L345.70,259.39 L346.70,259.34 L347.70,259.29 L348.70,259.25 L349.70,259.20 L350.70,259.15 L351.70,259.10 L352.70,259.05 L353.70,259.01 L354.70,258.96 L355.70,258.91 L356.70,258.86 L357.30,258.83 M377.30,257.88 L378.30,257.83 L379.30,257.79 L380.30,257.74 L381.30,257.69 L382.30,257.65 L383.30,257.60 L384.30,257.55 L385.30,257.51 L386.30,257.46 L387.30,257.41 L388.30,257.37 L389.30,257.32 L390.30,257.28 L391.30,257.23 L392.30,257.18 L393.00,257.15" stroke="#a52a2a" stroke-width="2.0"/>
</g>
<rect x="80.1" y="44.0" width="325.90" height="238.20" fill="none" stroke="#1e1e1e" stroke-width="1.3"/>
<rect x="423.4" y="43.6" width="58.40" height="73.00" fill="#fff" stroke="#000" stroke-width="0.7"/>
<text transform="translate(426.5,56.10) scale(1,1.045)" font-size="14.1">z=5</text>
<path d="M459.65,51.10H471.85" stroke="#0000ff" stroke-width="2.5" stroke-linecap="round"/>
<text transform="translate(426.5,70.50) scale(1,1.045)" font-size="14.1">z=6</text>
<path d="M459.65,65.65H471.85" stroke="#009e00" stroke-width="2.5" stroke-linecap="round"/>
<text transform="translate(426.5,84.90) scale(1,1.045)" font-size="14.1">z=7</text>
<path d="M459.65,80.20H471.85" stroke="#ffa500" stroke-width="2.5" stroke-linecap="round"/>
<text transform="translate(426.5,99.30) scale(1,1.045)" font-size="14.1">z=8</text>
<path d="M459.65,94.75H471.85" stroke="#ff0000" stroke-width="2.5" stroke-linecap="round"/>
<text transform="translate(426.5,113.70) scale(1,1.045)" font-size="14.1">z=9</text>
<path d="M459.65,109.30H471.85" stroke="#a52a2a" stroke-width="2.5" stroke-linecap="round"/>
<text transform="translate(200.8,92.1) scale(1,1.045)">M<tspan font-size="11.6" dy="4.9">BH</tspan><tspan dy="-4.9"> = 1 x 10</tspan><tspan font-size="11.6" dy="-7.1">6</tspan><tspan dy="7.1"> M</tspan><tspan font-size="11.6" dy="4.9">o</tspan></text><text transform="translate(200.8,108.2) scale(1,1.045)">M<tspan font-size="11.6" dy="4.9">star</tspan><tspan dy="-4.9"> = 200 M</tspan><tspan font-size="11.6" dy="4.9">o</tspan></text>
</g>
<g transform="translate(490.5,0.0)">
<clipPath id="cp1"><rect x="80.1" y="44.0" width="325.9" height="238.2"/></clipPath>
<text transform="translate(70.8,66.25) scale(1,1.045)" text-anchor="end">25</text>
<text transform="translate(70.8,110.41) scale(1,1.045)" text-anchor="end">25.5</text>
<text transform="translate(70.8,154.57) scale(1,1.045)" text-anchor="end">26</text>
<text transform="translate(70.8,198.73) scale(1,1.045)" text-anchor="end">26.5</text>
<text transform="translate(70.8,242.89) scale(1,1.045)" text-anchor="end">27</text>
<text transform="translate(70.8,287.05) scale(1,1.045)" text-anchor="end">27.5</text>
<text transform="translate(134.0,301.90) scale(1,1.045)" text-anchor="middle">2000</text>
<text transform="translate(202.39999999999998,301.90) scale(1,1.045)" text-anchor="middle">4000</text>
<text transform="translate(270.9,301.90) scale(1,1.045)" text-anchor="middle">6000</text>
<text transform="translate(339.4,301.90) scale(1,1.045)" text-anchor="middle">8000</text>
<path d="M80.1,61.40h5.4 M406.0,61.40h-5.4 M80.1,105.56h5.4 M406.0,105.56h-5.4 M80.1,149.72h5.4 M406.0,149.72h-5.4 M80.1,193.88h5.4 M406.0,193.88h-5.4 M80.1,238.04h5.4 M406.0,238.04h-5.4 M132.3,282.2v-5.4 M132.3,44.0v5.4 M200.7,282.2v-5.4 M200.7,44.0v5.4 M269.2,282.2v-5.4 M269.2,44.0v5.4 M337.7,282.2v-5.4 M337.7,44.0v5.4" stroke="#000" stroke-width="0.8" fill="none"/>
<text transform="translate(243.05,26.5) scale(1,1.045)" text-anchor="middle">F200W</text>
<text transform="translate(243.05,322.2) scale(1,1.045)" text-anchor="middle">t<tspan font-size="11.6" dy="4.6">obs</tspan><tspan dy="-4.6"> (days)</tspan></text>
<text transform="translate(15.1,163.10) rotate(-90) scale(1,1.045)" text-anchor="middle">Observed m<tspan font-size="11.6" dy="4.6">AB</tspan></text>
<g clip-path="url(#cp1)" fill="none" stroke-linecap="round" stroke-linejoin="round">
<path d="M80.10,139.09 L81.10,139.13 L82.10,139.13 L83.10,139.10 L84.10,139.04 L85.10,138.95 L86.10,138.83 L87.10,138.69 L88.10,138.51 L89.10,138.31 L90.10,138.09 L91.10,137.84 L92.10,137.58 L93.10,137.29 L94.10,136.98 L95.10,136.66 L96.10,136.32 L97.10,135.96 L98.10,135.59 L99.10,135.21 L100.10,134.81 L101.10,134.41 L102.10,134.00 L103.10,133.57 L104.10,133.15 L105.10,132.71 L106.10,132.27 L107.10,131.83 L108.10,131.38 L109.10,130.93 L110.10,130.47 L111.10,130.02 L112.10,129.56 L113.10,129.11 L114.10,128.65 L115.10,128.20 L116.10,127.75 L117.10,127.30 L118.10,126.85 L119.10,126.41 L120.10,125.98 L121.10,125.55 L122.10,125.13 L123.10,124.72 L124.10,124.31 L125.10,123.92 L126.10,123.53 L127.10,123.16 L128.10,122.79 L129.10,122.43 L130.10,122.09 L131.10,121.75 L132.10,121.42 L133.10,121.10 L134.10,120.79 L135.10,120.49 L136.10,120.20 L137.10,119.92 L138.10,119.65 L139.10,119.39 L140.10,119.13 L141.10,118.89 L142.10,118.65 L143.10,118.42 L144.10,118.20 L145.10,117.99 L146.10,117.79 L147.10,117.59 L148.10,117.41 L149.10,117.23 L150.10,117.06 L151.10,116.89 L152.10,116.73 L153.10,116.58 L154.10,116.44 L155.10,116.30 L156.10,116.18 L157.10,116.05 L158.10,115.94 L159.10,115.83 L160.10,115.72 L161.10,115.63 L162.10,115.53 L163.10,115.45 L164.10,115.37 L165.10,115.29 L166.10,115.22 L167.10,115.16 L168.10,115.10 L169.10,115.05 L170.10,115.00 L171.10,114.96 L172.10,114.92 L173.10,114.88 L174.10,114.85 L175.10,114.83 L176.10,114.80 L177.10,114.79 L178.10,114.77 L179.10,114.76 L180.10,114.75 L181.10,114.75 L182.10,114.75 L183.10,114.75 L184.10,114.76 L185.10,114.77 L186.10,114.78 L187.10,114.79 L188.10,114.81 L189.10,114.83 L190.10,114.85 L191.10,114.88 L192.10,114.90 L193.10,114.93 L194.10,114.96 L195.10,114.99 L196.10,115.02 L197.10,115.06 L198.10,115.10 L199.10,115.14 L200.10,115.18 L201.10,115.22 L202.10,115.27 L203.10,115.31 L204.10,115.36 L205.10,115.41 L206.10,115.46 L207.10,115.51 L208.10,115.57 L209.10,115.62 L210.10,115.68 L211.10,115.74 L212.10,115.80 L213.10,115.86 L214.10,115.92 L215.10,115.99 L216.10,116.05 L217.10,116.12 L218.10,116.19 L219.10,116.25 L220.10,116.32 L221.10,116.39 L222.10,116.47 L223.10,116.54 L224.10,116.61 L225.10,116.69 L226.10,116.76 L227.10,116.84 L228.10,116.91 L229.10,116.99 L230.10,117.07 L231.10,117.15 L232.10,117.23 L233.10,117.31 L234.10,117.39 L235.10,117.47 L236.10,117.55 L237.10,117.63 L238.10,117.71 L239.10,117.80 L240.10,117.88 L241.10,117.96 L242.10,118.04 L243.10,118.13 L244.10,118.21 L245.10,118.30 L246.10,118.38 L247.10,118.46 L248.10,118.55 L249.10,118.63 L250.10,118.72 L251.10,118.80 L252.10,118.88 L253.10,118.97 L254.10,119.05 L255.10,119.13 L256.10,119.21 L257.10,119.30 L258.10,119.38 L259.10,119.46 L260.10,119.54 L261.10,119.62 L262.10,119.71 L263.10,119.79 L264.10,119.87 L265.10,119.95 L266.10,120.03 L267.10,120.11 L268.10,120.19 L269.10,120.27 L270.10,120.35 L271.10,120.43 L272.10,120.51 L273.10,120.59 L274.10,120.67 L275.10,120.75 L276.10,120.83 L277.10,120.91 L278.10,120.99 L279.10,121.07 L280.10,121.15 L281.10,121.22 L282.10,121.30 L283.10,121.38 L284.10,121.46 L285.10,121.54 L286.10,121.62 L287.10,121.69 L288.10,121.77 L289.10,121.85 L290.10,121.93 L291.10,122.01 L292.10,122.08 L293.10,122.16 L294.10,122.24 L295.10,122.32 L296.10,122.39 L297.10,122.47 L298.10,122.55 L299.10,122.62 L300.10,122.70 L301.10,122.78 L302.10,122.86 L303.10,122.93 L304.10,123.01 L305.10,123.09 L306.10,123.16 L307.10,123.24 L308.10,123.32 L309.10,123.39 L310.10,123.47 L311.10,123.54 L312.10,123.62 L313.10,123.69 L314.10,123.77 L315.10,123.84 L316.10,123.92 L317.10,123.99 L318.10,124.07 L319.10,124.14 L320.10,124.22 L321.10,124.29 L322.10,124.36 L323.10,124.44 L324.10,124.51 L325.10,124.58 L326.10,124.66 L327.10,124.73 L328.10,124.80 L329.10,124.87 L330.10,124.94 L331.10,125.01 L332.10,125.08 L333.10,125.15 L334.10,125.22 L335.10,125.29 L336.10,125.36 L337.10,125.43 L338.10,125.50 L339.10,125.57 L340.10,125.64 L341.10,125.70 L342.10,125.77 L343.10,125.84 L344.10,125.90 L345.10,125.97 L346.10,126.03 L347.10,126.10 L348.10,126.16 L349.10,126.23 L350.10,126.29 L351.10,126.35 L352.10,126.42 L353.10,126.48 L354.10,126.54 L355.10,126.60 L356.10,126.66 L357.10,126.72 L358.10,126.78 L359.10,126.84 L360.10,126.90 L361.10,126.96 L362.10,127.01 L363.10,127.07 L364.10,127.13 L365.10,127.18 L366.10,127.24 L367.10,127.29 L368.10,127.34 L369.10,127.40 L370.10,127.45 L371.10,127.50 L372.10,127.55 L373.10,127.60 L374.10,127.65 L375.10,127.70 L376.10,127.75 L377.10,127.80 L378.10,127.85 L379.10,127.89 L380.10,127.94 L381.10,127.98 L382.10,128.03 L383.10,128.07 L384.10,128.12 L385.10,128.16 L386.10,128.20 L387.10,128.24 L388.10,128.28 L389.10,128.32 L390.10,128.36 L391.10,128.40 L392.10,128.43 L393.10,128.47 L394.10,128.50 L395.10,128.54 L396.10,128.57 L397.10,128.61 L398.10,128.64 L399.10,128.67 L400.10,128.70 L401.10,128.73 L402.10,128.76 L403.10,128.78 L404.10,128.81 L405.10,128.84 L406.00,128.86" stroke="#0000ff" stroke-width="2.5"/>
<path d="M84.15,190.93 L85.15,190.95 L86.15,190.97 L87.15,190.98 L88.15,190.98 L89.15,190.97 L90.15,190.96 L91.15,190.93 L92.15,190.89 L93.15,190.85 L94.15,190.79 L95.15,190.73 L96.15,190.66 L97.15,190.58 L98.15,190.49 L99.15,190.39 L100.15,190.28 L101.15,190.17 L102.15,190.04 L103.15,189.91 L104.15,189.77 L105.15,189.61 L106.15,189.46 L107.15,189.29 L108.15,189.11 L109.15,188.92 L110.15,188.73 L111.15,188.53 L112.15,188.32 L113.15,188.10 L114.15,187.87 L115.15,187.63 L116.15,187.39 L117.15,187.14 L118.15,186.88 L119.15,186.61 L120.15,186.34 L121.15,186.07 L122.15,185.79 L123.15,185.50 L124.15,185.21 L125.15,184.91 L126.15,184.61 L127.15,184.31 L128.15,184.00 L129.15,183.69 L130.15,183.38 L131.15,183.07 L132.15,182.75 L133.15,182.44 L134.15,182.12 L135.15,181.80 L136.15,181.49 L137.15,181.17 L138.15,180.85 L139.15,180.54 L140.15,180.22 L141.15,179.91 L142.15,179.60 L143.15,179.29 L144.15,178.99 L145.15,178.69 L146.15,178.39 L147.15,178.10 L148.15,177.81 L149.15,177.52 L150.15,177.24 L151.15,176.97 L152.15,176.70 L153.15,176.43 L154.15,176.17 L155.15,175.91 L156.15,175.65 L157.15,175.40 L158.15,175.16 L159.15,174.92 L160.15,174.68 L161.15,174.45 L162.15,174.22 L163.15,173.99 L164.15,173.77 L165.15,173.56 L166.15,173.34 L167.15,173.14 L168.15,172.93 L169.15,172.73 L170.15,172.54 L171.15,172.34 L172.15,172.16 L173.15,171.97 L174.15,171.79 L175.15,171.62 L176.15,171.45 L177.15,171.28 L178.15,171.12 L179.15,170.96 L180.15,170.80 L181.15,170.65 L182.15,170.50 L183.15,170.36 L184.15,170.22 L185.15,170.08 L186.15,169.94 L187.15,169.81 L188.15,169.68 L189.15,169.55 L190.15,169.42 L191.15,169.29 L192.15,169.17 L193.15,169.04 L194.15,168.92 L195.15,168.80 L196.15,168.69 L197.15,168.57 L198.15,168.46 L199.15,168.35 L200.15,168.24 L201.15,168.13 L202.15,168.03 L203.15,167.93 L204.15,167.83 L205.15,167.74 L206.15,167.64 L207.15,167.56 L208.15,167.47 L209.15,167.39 L210.15,167.31 L211.15,167.24 L212.15,167.17 L213.15,167.10 L214.15,167.03 L215.15,166.97 L216.15,166.91 L217.15,166.86 L218.15,166.80 L219.15,166.75 L220.15,166.71 L221.15,166.66 L222.15,166.62 L223.15,166.58 L224.15,166.55 L225.15,166.52 L226.15,166.49 L227.15,166.46 L228.15,166.43 L229.15,166.41 L230.15,166.39 L231.15,166.38 L232.15,166.36 L233.15,166.35 L234.15,166.34 L235.15,166.33 L236.15,166.33 L237.15,166.33 L238.15,166.33 L239.15,166.33 L240.15,166.33 L241.15,166.34 L242.15,166.35 L243.15,166.36 L244.15,166.37 L245.15,166.38 L246.15,166.40 L247.15,166.42 L248.15,166.44 L249.15,166.46 L250.15,166.48 L251.15,166.51 L252.15,166.54 L253.15,166.56 L254.15,166.60 L255.15,166.63 L256.15,166.66 L257.15,166.70 L258.15,166.73 L259.15,166.77 L260.15,166.81 L261.15,166.85 L262.15,166.89 L263.15,166.94 L264.15,166.98 L265.15,167.03 L266.15,167.08 L267.15,167.12 L268.15,167.17 L269.15,167.22 L270.15,167.27 L271.15,167.33 L272.15,167.38 L273.15,167.43 L274.15,167.49 L275.15,167.55 L276.15,167.60 L277.15,167.66 L278.15,167.72 L279.15,167.78 L280.15,167.84 L281.15,167.90 L282.15,167.96 L283.15,168.02 L284.15,168.08 L285.15,168.14 L286.15,168.21 L287.15,168.27 L288.15,168.33 L289.15,168.40 L290.15,168.46 L291.15,168.52 L292.15,168.59 L293.15,168.65 L294.15,168.72 L295.15,168.78 L296.15,168.85 L297.15,168.91 L298.15,168.97 L299.15,169.04 L300.15,169.10 L301.15,169.17 L302.15,169.23 L303.15,169.30 L304.15,169.36 L305.15,169.42 L306.15,169.48 L307.15,169.55 L308.15,169.61 L309.15,169.67 L310.15,169.73 L311.15,169.79 L312.15,169.85 L313.15,169.91 L314.15,169.97 L315.15,170.03 L316.15,170.09 L317.15,170.15 L318.15,170.21 L319.15,170.27 L320.15,170.33 L321.15,170.38 L322.15,170.44 L323.15,170.50 L324.15,170.55 L325.15,170.61 L326.15,170.67 L327.15,170.72 L328.15,170.78 L329.15,170.83 L330.15,170.89 L331.15,170.94 L332.15,171.00 L333.15,171.05 L334.15,171.11 L335.15,171.16 L336.15,171.21 L337.15,171.27 L338.15,171.32 L339.15,171.37 L340.15,171.43 L341.15,171.48 L342.15,171.53 L343.15,171.58 L344.15,171.63 L345.15,171.69 L346.15,171.74 L347.15,171.79 L348.15,171.84 L349.15,171.89 L350.15,171.94 L351.15,171.99 L352.15,172.04 L353.15,172.09 L354.15,172.14 L355.15,172.19 L356.15,172.24 L357.15,172.29 L358.15,172.34 L359.15,172.39 L360.15,172.44 L361.15,172.48 L362.15,172.53 L363.15,172.58 L364.15,172.63 L365.15,172.68 L366.15,172.73 L367.15,172.77 L368.15,172.82 L369.15,172.87 L370.15,172.92 L371.15,172.96 L372.15,173.01 L373.15,173.06 L374.15,173.10 L375.15,173.15 L376.15,173.20 L377.15,173.25 L378.15,173.29 L379.15,173.34 L380.15,173.39 L381.15,173.43 L382.15,173.48 L383.15,173.53 L384.15,173.57 L385.15,173.62 L386.15,173.66 L387.15,173.71 L388.15,173.76 L389.15,173.80 L390.15,173.85 L391.15,173.89 L392.15,173.94 L393.15,173.99 L394.15,174.03 L395.15,174.08 L396.15,174.12 L397.15,174.17 L398.15,174.22 L399.15,174.26 L400.15,174.31 L401.15,174.35 L402.15,174.40 L403.15,174.45 L404.15,174.49 L405.15,174.54 L406.00,174.58" stroke="#009e00" stroke-width="2.5"/>
<path d="M86.95,230.83 L87.95,230.89 L88.95,230.94 L89.95,230.99 L90.95,231.03 L91.95,231.06 L92.95,231.09 L93.95,231.10 L94.95,231.12 L95.95,231.12 L96.95,231.12 L97.95,231.12 L98.95,231.11 L99.95,231.09 L100.95,231.07 L101.95,231.04 L102.95,231.00 L103.95,230.96 L104.95,230.91 L105.95,230.86 L106.95,230.81 L107.95,230.74 L108.95,230.68 L109.95,230.61 L110.95,230.53 L111.95,230.45 L112.95,230.36 L113.95,230.27 L114.95,230.17 L115.95,230.07 L116.95,229.97 L117.95,229.86 L118.95,229.75 L119.95,229.63 L120.95,229.51 L121.95,229.39 L122.95,229.26 L123.95,229.13 L124.95,228.99 L125.95,228.85 L126.95,228.71 L127.95,228.57 L128.95,228.42 L129.95,228.26 L130.95,228.11 L131.95,227.95 L132.95,227.79 L133.95,227.63 L134.95,227.46 L135.95,227.29 L136.95,227.12 L137.95,226.95 L138.95,226.77 L139.95,226.60 L140.95,226.42 L141.95,226.24 L142.95,226.05 L143.95,225.87 L144.95,225.68 L145.95,225.49 L146.95,225.30 L147.95,225.11 L148.95,224.92 L149.95,224.72 L150.95,224.53 L151.95,224.33 L152.95,224.14 L153.95,223.94 L154.95,223.74 L155.95,223.55 L156.95,223.35 L157.95,223.15 L158.95,222.95 L159.95,222.75 L160.95,222.55 L161.95,222.36 L162.95,222.16 L163.95,221.96 L164.95,221.77 L165.95,221.57 L166.95,221.38 L167.95,221.19 L168.95,221.00 L169.95,220.81 L170.95,220.62 L171.95,220.43 L172.95,220.25 L173.95,220.06 L174.95,219.88 L175.95,219.70 L176.95,219.53 L177.95,219.35 L178.95,219.18 L179.95,219.01 L180.95,218.85 L181.95,218.68 L182.95,218.52 L183.95,218.36 L184.95,218.20 L185.95,218.04 L186.95,217.87 L187.95,217.71 L188.95,217.54 L189.95,217.37 L190.95,217.20 L191.95,217.03 L192.95,216.85 L193.95,216.67 L194.95,216.49 L195.95,216.30 L196.95,216.12 L197.95,215.94 L198.95,215.75 L199.95,215.57 L200.95,215.38 L201.95,215.20 L202.95,215.02 L203.95,214.84 L204.95,214.66 L205.95,214.49 L206.95,214.31 L207.95,214.15 L208.95,213.98 L209.95,213.82 L210.95,213.66 L211.95,213.50 L212.95,213.35 L213.95,213.20 L214.95,213.06 L215.95,212.91 L216.95,212.77 L217.95,212.64 L218.95,212.50 L219.95,212.37 L220.95,212.25 L221.95,212.12 L222.95,212.00 L223.95,211.88 L224.95,211.76 L225.95,211.65 L226.95,211.54 L227.95,211.43 L228.95,211.32 L229.95,211.22 L230.95,211.12 L231.95,211.02 L232.95,210.92 L233.95,210.83 L234.95,210.74 L235.95,210.65 L236.95,210.56 L237.95,210.48 L238.95,210.39 L239.95,210.31 L240.95,210.24 L241.95,210.16 L242.95,210.08 L243.95,210.01 L244.95,209.94 L245.95,209.87 L246.95,209.81 L247.95,209.74 L248.95,209.68 L249.95,209.61 L250.95,209.55 L251.95,209.50 L252.95,209.44 L253.95,209.38 L254.95,209.33 L255.95,209.28 L256.95,209.23 L257.95,209.18 L258.95,209.13 L259.95,209.08 L260.95,209.03 L261.95,208.99 L262.95,208.94 L263.95,208.90 L264.95,208.86 L265.95,208.82 L266.95,208.78 L267.95,208.74 L268.95,208.70 L269.95,208.67 L270.95,208.63 L271.95,208.59 L272.95,208.56 L273.95,208.53 L274.95,208.49 L275.95,208.46 L276.95,208.43 L277.95,208.40 L278.95,208.36 L279.95,208.33 L280.95,208.30 L281.95,208.27 L282.95,208.25 L283.95,208.22 L284.95,208.19 L285.95,208.16 L286.95,208.14 L287.95,208.11 L288.95,208.09 L289.95,208.06 L290.95,208.04 L291.95,208.02 L292.95,208.00 L293.95,207.98 L294.95,207.96 L295.95,207.94 L296.95,207.92 L297.95,207.90 L298.95,207.88 L299.95,207.87 L300.95,207.85 L301.95,207.84 L302.95,207.83 L303.95,207.82 L304.95,207.81 L305.95,207.80 L306.95,207.79 L307.95,207.78 L308.95,207.77 L309.95,207.77 L310.95,207.76 L311.95,207.76 L312.95,207.75 L313.95,207.75 L314.95,207.75 L315.95,207.75 L316.95,207.76 L317.95,207.76 L318.95,207.76 L319.95,207.77 L320.95,207.77 L321.95,207.78 L322.95,207.79 L323.95,207.80 L324.95,207.81 L325.95,207.82 L326.95,207.84 L327.95,207.85 L328.95,207.86 L329.95,207.88 L330.95,207.90 L331.95,207.91 L332.95,207.93 L333.95,207.95 L334.95,207.97 L335.95,207.99 L336.95,208.02 L337.95,208.04 L338.95,208.06 L339.95,208.09 L340.95,208.11 L341.95,208.14 L342.95,208.16 L343.95,208.19 L344.95,208.22 L345.95,208.25 L346.95,208.28 L347.95,208.31 L348.95,208.34 L349.95,208.37 L350.95,208.40 L351.95,208.43 L352.95,208.47 L353.95,208.50 L354.95,208.53 L355.95,208.57 L356.95,208.60 L357.95,208.64 L358.95,208.67 L359.95,208.71 L360.95,208.75 L361.95,208.78 L362.95,208.82 L363.95,208.86 L364.95,208.90 L365.95,208.93 L366.95,208.97 L367.95,209.01 L368.95,209.05 L369.95,209.09 L370.95,209.13 L371.95,209.17 L372.95,209.21 L373.95,209.25 L374.95,209.29 L375.95,209.33 L376.95,209.37 L377.95,209.41 L378.95,209.45 L379.95,209.49 L380.95,209.53 L381.95,209.57 L382.95,209.61 L383.95,209.65 L384.95,209.69 L385.95,209.73 L386.95,209.77 L387.95,209.81 L388.95,209.85 L389.95,209.89 L390.95,209.93 L391.95,209.97 L392.95,210.01 L393.95,210.05 L394.95,210.09 L395.95,210.13 L396.95,210.17 L397.95,210.21 L398.95,210.24 L399.95,210.28 L400.95,210.32 L401.95,210.36 L402.95,210.39 L403.95,210.43 L404.95,210.46 L405.95,210.50 L406.00,210.50" stroke="#ffa500" stroke-width="2.5"/>
<path d="M89.45,260.22 L90.45,260.24 L91.45,260.26 L92.45,260.28 L93.45,260.30 L94.45,260.31 L95.45,260.33 L96.45,260.34 L97.45,260.35 L98.45,260.36 L99.45,260.37 L100.45,260.37 L101.45,260.38 L102.45,260.38 L103.45,260.38 L104.45,260.38 L105.45,260.38 L106.45,260.37 L107.45,260.36 L108.45,260.36 L109.45,260.35 L110.45,260.34 L111.45,260.32 L112.45,260.31 L113.45,260.29 L114.45,260.27 L115.45,260.25 L116.45,260.23 L117.45,260.20 L118.45,260.18 L119.45,260.15 L120.45,260.12 L121.45,260.08 L122.45,260.05 L123.45,260.01 L124.45,259.98 L125.45,259.93 L126.45,259.89 L127.45,259.85 L128.45,259.80 L129.45,259.75 L130.45,259.70 L131.45,259.65 L132.45,259.59 L133.45,259.53 L134.45,259.47 L135.45,259.41 L136.45,259.35 L137.45,259.28 L138.45,259.21 L139.45,259.14 L140.45,259.07 L141.45,258.99 L142.45,258.91 L143.45,258.83 L144.45,258.75 L145.45,258.66 L146.45,258.58 L147.45,258.49 L148.45,258.39 L149.45,258.30 L150.45,258.20 L151.45,258.10 L152.45,258.00 L153.45,257.90 L154.45,257.79 L155.45,257.68 L156.45,257.57 L157.45,257.46 L158.45,257.35 L159.45,257.23 L160.45,257.11 L161.45,256.99 L162.45,256.87 L163.45,256.75 L164.45,256.63 L165.45,256.50 L166.45,256.37 L167.45,256.25 L168.45,256.12 L169.45,255.99 L170.45,255.85 L171.45,255.72 L172.45,255.59 L173.45,255.45 L174.45,255.31 L175.45,255.17 L176.45,255.04 L177.45,254.90 L178.45,254.76 L179.45,254.61 L180.45,254.47 L181.45,254.33 L182.45,254.19 L183.45,254.04 L184.45,253.90 L185.45,253.75 L186.45,253.61 L187.45,253.46 L188.45,253.32 L189.45,253.17 L190.45,253.02 L191.45,252.88 L192.45,252.73 L193.45,252.58 L194.45,252.43 L195.45,252.29 L196.45,252.14 L197.45,251.99 L198.45,251.85 L199.45,251.70 L200.45,251.55 L201.45,251.41 L202.45,251.26 L203.45,251.12 L204.45,250.97 L205.45,250.83 L206.45,250.69 L207.45,250.54 L208.45,250.40 L209.45,250.26 L210.45,250.12 L211.45,249.98 L212.45,249.84 L213.45,249.70 L214.45,249.56 L215.45,249.43 L216.45,249.29 L217.45,249.15 L218.45,249.02 L219.45,248.89 L220.45,248.75 L221.45,248.62 L222.45,248.49 L223.45,248.36 L224.45,248.23 L225.45,248.10 L226.45,247.97 L227.45,247.84 L228.45,247.71 L229.45,247.59 L230.45,247.46 L231.45,247.34 L232.45,247.21 L233.45,247.09 L234.45,246.97 L235.45,246.85 L236.45,246.73 L237.45,246.61 L238.45,246.49 L239.45,246.37 L240.45,246.25 L241.45,246.14 L242.45,246.02 L243.45,245.91 L244.45,245.79 L245.45,245.68 L246.45,245.57 L247.45,245.46 L248.45,245.35 L249.45,245.24 L250.45,245.13 L251.45,245.02 L252.45,244.92 L253.45,244.81 L254.45,244.71 L255.45,244.60 L256.45,244.50 L257.45,244.40 L258.45,244.30 L259.45,244.20 L260.45,244.10 L261.45,244.00 L262.45,243.91 L263.45,243.81 L264.45,243.72 L265.45,243.62 L266.45,243.53 L267.45,243.44 L268.45,243.35 L269.45,243.26 L270.45,243.17 L271.45,243.08 L272.45,242.99 L273.45,242.91 L274.45,242.82 L275.45,242.74 L276.45,242.66 L277.45,242.58 L278.45,242.49 L279.45,242.42 L280.45,242.34 L281.45,242.26 L282.45,242.18 L283.45,242.11 L284.45,242.03 L285.45,241.96 L286.45,241.89 L287.45,241.82 L288.45,241.75 L289.45,241.68 L290.45,241.61 L291.45,241.55 L292.45,241.48 L293.45,241.42 L294.45,241.36 L295.45,241.29 L296.45,241.23 L297.45,241.17 L298.45,241.12 L299.45,241.06 L300.45,241.00 L301.45,240.95 L302.45,240.90 L303.45,240.84 L304.45,240.79 L305.45,240.74 L306.45,240.69 L307.45,240.65 L308.45,240.60 L309.45,240.55 L310.45,240.51 L311.45,240.47 L312.45,240.43 L313.45,240.39 L314.45,240.35 L315.45,240.31 L316.45,240.27 L317.45,240.24 L318.45,240.20 L319.45,240.17 L320.45,240.14 L321.45,240.10 L322.45,240.07 L323.45,240.04 L324.45,240.01 L325.45,239.99 L326.45,239.96 L327.45,239.93 L328.45,239.91 L329.45,239.88 L330.45,239.86 L331.45,239.84 L332.45,239.82 L333.45,239.80 L334.45,239.78 L335.45,239.76 L336.45,239.74 L337.45,239.72 L338.45,239.70 L339.45,239.69 L340.45,239.67 L341.45,239.66 L342.45,239.64 L343.45,239.63 L344.45,239.62 L345.45,239.60 L346.45,239.59 L347.45,239.58 L348.45,239.57 L349.45,239.56 L350.45,239.55 L351.45,239.54 L352.45,239.53 L353.45,239.53 L354.45,239.52 L355.45,239.51 L356.45,239.50 L357.45,239.50 L358.45,239.49 L359.45,239.49 L360.45,239.48 L361.45,239.48 L362.45,239.47 L363.45,239.47 L364.45,239.46 L365.45,239.46 L366.45,239.46 L367.45,239.45 L368.45,239.45 L369.45,239.45 L370.45,239.44 L371.45,239.44 L372.45,239.44 L373.45,239.44 L374.45,239.44 L375.45,239.43 L376.45,239.43 L377.45,239.43 L378.45,239.43 L379.45,239.43 L380.45,239.43 L381.45,239.42 L382.45,239.42 L383.45,239.42 L384.45,239.42 L385.45,239.42 L386.45,239.42 L387.45,239.41 L388.45,239.41 L389.45,239.41 L390.45,239.41 L391.45,239.40 L392.45,239.40 L393.45,239.40 L394.45,239.39 L395.45,239.39 L396.45,239.39 L397.45,239.38 L398.45,239.38 L399.45,239.38 L400.45,239.37 L401.45,239.36 L402.45,239.36 L403.45,239.35 L404.45,239.35 L405.45,239.34 L406.00,239.34" stroke="#ff0000" stroke-width="2.5"/>
<path d="M91.95,278.00 L92.95,278.00 L93.95,278.00 L94.95,278.01 L95.95,278.01 L96.95,278.01 L97.95,278.01 L98.95,278.01 L99.95,278.02 L100.95,278.02 L101.95,278.02 L102.95,278.02 L103.95,278.02 L104.95,278.02 L105.95,278.02 L106.95,278.02 L107.95,278.02 L108.95,278.02 L109.95,278.02 L110.95,278.02 L111.95,278.02 L112.95,278.02 L113.95,278.02 L114.95,278.02 L115.95,278.01 L116.95,278.01 L117.95,278.01 L118.95,278.00 L119.95,278.00 L120.95,277.99 L121.95,277.99 L122.95,277.98 L123.95,277.97 L124.95,277.96 L125.95,277.96 L126.95,277.95 L127.95,277.94 L128.95,277.93 L129.95,277.92 L130.95,277.90 L131.95,277.89 L132.95,277.88 L133.95,277.86 L134.95,277.85 L135.95,277.83 L136.95,277.82 L137.95,277.80 L138.95,277.78 L139.95,277.76 L140.95,277.74 L141.95,277.72 L142.95,277.70 L143.95,277.67 L144.95,277.65 L145.95,277.62 L146.95,277.60 L147.95,277.57 L148.95,277.54 L149.95,277.51 L150.95,277.48 L151.95,277.45 L152.95,277.42 L153.95,277.38 L154.95,277.35 L155.95,277.31 L156.95,277.27 L157.95,277.23 L158.95,277.19 L159.95,277.15 L160.95,277.10 L161.95,277.06 L162.95,277.01 L163.95,276.97 L164.95,276.92 L165.95,276.87 L166.95,276.82 L167.95,276.76 L168.95,276.71 L169.95,276.65 L170.95,276.59 L171.95,276.53 L172.95,276.47 L173.95,276.41 L174.95,276.35 L175.95,276.28 L176.95,276.22 L177.95,276.15 L178.95,276.08 L179.95,276.01 L180.95,275.94 L181.95,275.87 L182.95,275.79 L183.95,275.72 L184.95,275.64 L185.95,275.57 L186.95,275.49 L187.95,275.41 L188.95,275.33 L189.95,275.25 L190.95,275.16 L191.95,275.08 L192.95,274.99 L193.95,274.91 L194.95,274.82 L195.95,274.74 L196.95,274.65 L197.95,274.56 L198.95,274.47 L199.95,274.38 L200.95,274.29 L201.95,274.20 L202.95,274.10 L203.95,274.01 L204.95,273.92 L205.95,273.82 L206.95,273.73 L207.95,273.63 L208.95,273.53 L209.95,273.44 L210.95,273.34 L211.95,273.24 L212.95,273.14 L213.95,273.04 L214.95,272.94 L215.95,272.84 L216.95,272.74 L217.95,272.64 L218.95,272.54 L219.95,272.44 L220.95,272.34 L221.95,272.24 L222.95,272.14 L223.95,272.03 L224.95,271.93 L225.95,271.83 L226.95,271.73 L227.95,271.62 L228.95,271.52 L229.95,271.42 L230.95,271.32 L231.95,271.21 L232.95,271.11 L233.95,271.01 L234.95,270.91 L235.95,270.80 L236.95,270.70 L237.95,270.60 L238.95,270.50 L239.95,270.39 L240.95,270.29 L241.95,270.19 L242.95,270.09 L243.95,269.99 L244.95,269.89 L245.95,269.79 L246.95,269.69 L247.95,269.59 L248.95,269.49 L249.95,269.39 L250.95,269.29 L251.95,269.19 L252.95,269.09 L253.95,268.99 L254.95,268.89 L255.95,268.79 L256.95,268.69 L257.95,268.59 L258.95,268.49 L259.95,268.40 L260.95,268.30 L261.95,268.20 L262.95,268.10 L263.95,268.01 L264.95,267.91 L265.95,267.81 L266.95,267.71 L267.95,267.62 L268.95,267.52 L269.95,267.42 L270.95,267.33 L271.95,267.23 L272.95,267.14 L273.95,267.04 L274.95,266.95 L275.95,266.85 L276.95,266.76 L277.95,266.66 L278.95,266.57 L279.95,266.47 L280.95,266.38 L281.95,266.29 L282.95,266.19 L283.95,266.10 L284.95,266.01 L285.95,265.92 L286.95,265.83 L287.95,265.74 L288.95,265.65 L289.95,265.56 L290.95,265.47 L291.95,265.38 L292.95,265.29 L293.95,265.21 L294.95,265.12 L295.95,265.04 L296.95,264.95 L297.95,264.87 L298.95,264.79 L299.95,264.70 L300.95,264.62 L301.95,264.54 L302.95,264.46 L303.95,264.39 L304.95,264.31 L305.95,264.23 L306.95,264.16 L307.95,264.09 L308.95,264.01 L309.95,263.94 L310.95,263.87 L311.95,263.80 L312.95,263.74 L313.95,263.67 L314.95,263.60 L315.95,263.54 L316.95,263.48 L317.95,263.41 L318.95,263.35 L319.95,263.29 L320.95,263.23 L321.95,263.17 L322.95,263.12 L323.95,263.06 L324.95,263.01 L325.95,262.95 L326.95,262.90 L327.95,262.84 L328.95,262.79 L329.95,262.74 L330.95,262.69 L331.95,262.64 L332.95,262.59 L333.95,262.55 L334.95,262.50 L335.95,262.45 L336.95,262.41 L337.95,262.36 L338.95,262.32 L339.95,262.28 L340.95,262.24 L341.95,262.19 L342.95,262.15 L343.95,262.11 L344.95,262.07 L345.95,262.03 L346.95,262.00 L347.95,261.96 L348.95,261.92 L349.95,261.88 L350.95,261.85 L351.95,261.81 L352.95,261.78 L353.95,261.74 L354.95,261.71 L355.95,261.68 L356.95,261.64 L357.95,261.61 L358.95,261.58 L359.95,261.55 L360.95,261.51 L361.95,261.48 L362.95,261.45 L363.95,261.42 L364.95,261.39 L365.95,261.36 L366.95,261.33 L367.95,261.30 L368.95,261.28 L369.95,261.25 L370.95,261.22 L371.95,261.19 L372.95,261.16 L373.95,261.14 L374.95,261.11 L375.95,261.08 L376.95,261.05 L377.95,261.03 L378.95,261.00 L379.95,260.97 L380.95,260.95 L381.95,260.92 L382.95,260.90 L383.95,260.87 L384.95,260.84 L385.95,260.82 L386.95,260.79 L387.95,260.77 L388.95,260.74 L389.95,260.71 L390.95,260.69 L391.95,260.66 L392.95,260.63 L393.95,260.61 L394.95,260.58 L395.95,260.55 L396.95,260.53 L397.95,260.50 L398.95,260.47 L399.95,260.45 L400.95,260.42 L401.95,260.39 L402.95,260.36 L403.95,260.33 L404.95,260.31 L405.95,260.28 L406.00,260.28" stroke="#a52a2a" stroke-width="2.5"/>
<path d="M80.10,196.87 L81.10,196.93 L82.10,196.95 L83.10,196.94 L84.10,196.89 L85.10,196.80 L86.10,196.68 L87.10,196.52 L88.10,196.33 L89.10,196.10 L90.10,195.83 L91.10,195.52 L92.10,195.18 L93.10,194.80 L94.10,194.38 L95.10,193.92 L96.10,193.43 L96.33,193.31 M113.00,181.51 L114.00,180.77 L115.00,180.05 L116.00,179.33 L117.00,178.61 L118.00,177.90 L119.00,177.19 L120.00,176.48 L121.00,175.77 L122.00,175.06 L123.00,174.34 L124.00,173.63 L125.00,172.92 L126.00,172.21 L127.00,171.52 L128.00,170.83 L129.00,170.16 L129.65,169.74 M147.75,161.24 L148.75,160.94 L149.75,160.65 L150.75,160.37 L151.75,160.11 L152.75,159.86 L153.75,159.62 L154.75,159.40 L155.75,159.19 L156.75,158.99 L157.75,158.80 L158.75,158.62 L159.75,158.45 L160.75,158.30 L161.75,158.15 L162.75,158.01 L163.75,157.88 L164.75,157.76 L165.75,157.65 L166.75,157.54 L167.75,157.44 L168.00,157.42 M187.80,156.70 L188.80,156.72 L189.80,156.74 L190.80,156.76 L191.80,156.79 L192.80,156.82 L193.80,156.86 L194.80,156.90 L195.80,156.95 L196.80,157.00 L197.80,157.05 L198.80,157.10 L199.80,157.16 L200.80,157.22 L201.80,157.29 L202.80,157.36 L203.80,157.43 L204.10,157.45 M223.69,159.32 L224.69,159.43 L225.69,159.55 L226.69,159.66 L227.69,159.78 L228.69,159.89 L229.69,160.01 L230.69,160.13 L231.69,160.24 L232.69,160.36 L233.69,160.48 L234.69,160.60 L235.69,160.72 L236.69,160.85 L237.69,160.97 L238.69,161.09 L239.41,161.18 M259.09,163.71 L260.09,163.84 L261.09,163.97 L262.09,164.10 L263.09,164.23 L264.09,164.36 L265.09,164.49 L266.09,164.62 L267.09,164.75 L268.09,164.88 L269.09,165.01 L270.09,165.14 L271.09,165.27 L272.09,165.40 L273.09,165.53 L274.09,165.66 L274.86,165.76 M294.79,168.25 L295.79,168.37 L296.79,168.49 L297.79,168.61 L298.79,168.73 L299.79,168.85 L300.79,168.97 L301.79,169.09 L302.79,169.20 L303.79,169.32 L304.79,169.44 L305.79,169.56 L306.79,169.67 L307.79,169.79 L308.79,169.90 L309.79,170.02 L310.66,170.12 M330.39,172.30 L331.39,172.41 L332.39,172.52 L333.39,172.62 L334.39,172.73 L335.39,172.83 L336.39,172.94 L337.39,173.04 L338.39,173.14 L339.39,173.25 L340.39,173.35 L341.39,173.45 L342.39,173.55 L343.39,173.65 L344.39,173.76 L345.39,173.86 L346.39,173.96 L346.50,173.97 M365.90,175.83 L366.90,175.92 L367.90,176.01 L368.90,176.10 L369.90,176.19 L370.90,176.28 L371.90,176.37 L372.90,176.46 L373.90,176.55 L374.90,176.64 L375.90,176.73 L376.90,176.81 L377.90,176.90 L378.90,176.99 L379.90,177.07 L380.90,177.16 L381.90,177.25 L382.10,177.26 M401.70,178.85 L402.70,178.93 L403.70,179.01 L404.70,179.08 L405.70,179.16 L406.00,179.18" stroke="#0000ff" stroke-width="2.0"/>
<path d="M83.90,216.27 L84.90,216.31 L85.90,216.34 L86.90,216.36 L87.90,216.37 L88.90,216.38 L89.90,216.37 L90.90,216.36 L91.90,216.34 L92.90,216.30 L93.90,216.26 L94.90,216.21 L95.90,216.15 L96.90,216.07 L97.90,215.99 L98.90,215.90 L99.51,215.83 M119.35,211.34 L120.35,211.00 L121.35,210.65 L122.35,210.30 L123.35,209.94 L124.35,209.57 L125.35,209.19 L126.35,208.81 L127.35,208.43 L128.35,208.04 L129.35,207.65 L130.35,207.26 L131.35,206.86 L132.35,206.46 L133.35,206.06 L134.27,205.69 M153.14,198.42 L154.14,198.06 L155.14,197.72 L156.14,197.38 L157.14,197.04 L158.14,196.71 L159.14,196.38 L160.14,196.06 L161.14,195.75 L162.14,195.44 L163.14,195.13 L164.14,194.83 L165.14,194.54 L166.14,194.25 L167.14,193.96 L168.14,193.68 L169.14,193.41 L170.14,193.14 L170.53,193.04 M189.99,188.98 L190.99,188.84 L191.99,188.69 L192.99,188.55 L193.99,188.42 L194.99,188.29 L195.99,188.17 L196.99,188.05 L197.99,187.94 L198.99,187.83 L199.99,187.73 L200.99,187.63 L201.99,187.54 L202.99,187.45 L203.99,187.36 L204.99,187.28 L205.99,187.20 L206.60,187.15 M226.30,186.22 L227.30,186.20 L228.30,186.18 L229.30,186.16 L230.30,186.15 L231.30,186.14 L232.30,186.13 L233.30,186.12 L234.30,186.12 L235.30,186.11 L236.30,186.11 L237.30,186.11 L238.30,186.11 L239.30,186.11 L240.30,186.12 L241.30,186.13 L242.30,186.13 L242.30,186.13 M261.80,186.57 L262.80,186.61 L263.80,186.64 L264.80,186.68 L265.80,186.72 L266.80,186.76 L267.80,186.80 L268.80,186.84 L269.80,186.89 L270.80,186.93 L271.80,186.97 L272.80,187.02 L273.80,187.07 L274.80,187.11 L275.80,187.16 L276.80,187.21 L277.80,187.26 L277.90,187.27 M297.60,188.41 L298.60,188.47 L299.60,188.54 L300.60,188.60 L301.60,188.67 L302.60,188.74 L303.60,188.80 L304.60,188.87 L305.60,188.94 L306.60,189.00 L307.60,189.07 L308.60,189.14 L309.60,189.21 L310.60,189.28 L311.60,189.34 L312.60,189.41 L313.50,189.48 M333.10,190.85 L334.10,190.92 L335.10,190.99 L336.10,191.06 L337.10,191.13 L338.10,191.20 L339.10,191.26 L340.10,191.33 L341.10,191.40 L342.10,191.47 L343.10,191.54 L344.10,191.61 L345.10,191.67 L346.10,191.74 L347.10,191.81 L348.10,191.88 L349.10,191.94 L349.20,191.95 M368.60,193.22 L369.60,193.28 L370.60,193.35 L371.60,193.41 L372.60,193.47 L373.60,193.54 L374.60,193.60 L375.60,193.66 L376.60,193.72 L377.60,193.78 L378.60,193.85 L379.60,193.91 L380.60,193.97 L381.60,194.03 L382.60,194.09 L383.60,194.15 L384.60,194.21 L384.70,194.22 M404.40,195.61 L405.40,195.71 L406.00,195.77" stroke="#009e00" stroke-width="2.0"/>
<path d="M86.70,229.57 L87.70,229.62 L88.70,229.66 L89.70,229.70 L90.70,229.73 L91.70,229.75 L92.70,229.76 L93.70,229.77 L94.70,229.77 L95.70,229.76 L96.70,229.74 L97.70,229.72 L98.70,229.69 L99.70,229.66 L100.70,229.62 L101.70,229.57 L102.40,229.53 M121.99,227.85 L122.99,227.74 L123.99,227.63 L124.99,227.53 L125.99,227.42 L126.99,227.30 L127.99,227.19 L128.99,227.07 L129.99,226.95 L130.99,226.83 L131.99,226.70 L132.99,226.57 L133.99,226.43 L134.99,226.29 L135.99,226.15 L136.99,225.99 L137.71,225.88 M157.88,221.89 L158.88,221.68 L159.88,221.47 L160.88,221.26 L161.88,221.05 L162.88,220.85 L163.88,220.63 L164.88,220.42 L165.88,220.21 L166.88,220.00 L167.88,219.78 L168.88,219.57 L169.88,219.35 L170.88,219.13 L171.88,218.90 L172.88,218.67 L173.63,218.50 M192.88,214.15 L193.88,213.98 L194.88,213.81 L195.88,213.66 L196.88,213.51 L197.88,213.37 L198.88,213.23 L199.88,213.10 L200.88,212.97 L201.88,212.85 L202.88,212.73 L203.88,212.61 L204.88,212.49 L205.88,212.38 L206.88,212.26 L207.88,212.15 L208.88,212.04 L209.21,212.00 M228.69,209.63 L229.69,209.52 L230.69,209.41 L231.69,209.30 L232.69,209.20 L233.69,209.10 L234.69,209.00 L235.69,208.90 L236.69,208.80 L237.69,208.71 L238.69,208.62 L239.69,208.53 L240.69,208.44 L241.69,208.36 L242.69,208.28 L243.69,208.20 L244.69,208.12 L244.90,208.10 M264.50,207.01 L265.50,206.98 L266.50,206.94 L267.50,206.91 L268.50,206.88 L269.50,206.85 L270.50,206.82 L271.50,206.79 L272.50,206.76 L273.50,206.74 L274.50,206.72 L275.50,206.70 L276.50,206.68 L277.50,206.66 L278.50,206.64 L279.50,206.62 L280.50,206.61 L280.80,206.61 M300.40,206.53 L301.40,206.54 L302.40,206.54 L303.40,206.55 L304.40,206.55 L305.40,206.56 L306.40,206.57 L307.40,206.58 L308.40,206.59 L309.40,206.59 L310.40,206.60 L311.40,206.61 L312.40,206.62 L313.40,206.63 L314.40,206.64 L315.40,206.65 L316.40,206.66 L316.40,206.66 M335.70,206.91 L336.70,206.92 L337.70,206.94 L338.70,206.95 L339.70,206.97 L340.70,206.99 L341.70,207.00 L342.70,207.02 L343.70,207.04 L344.70,207.06 L345.70,207.07 L346.70,207.09 L347.70,207.11 L348.70,207.13 L349.70,207.15 L350.70,207.17 L351.70,207.19 L352.00,207.19 M371.40,207.68 L372.40,207.71 L373.40,207.74 L374.40,207.77 L375.40,207.80 L376.40,207.83 L377.40,207.87 L378.40,207.90 L379.40,207.94 L380.40,207.97 L381.40,208.01 L382.40,208.04 L383.40,208.08 L384.40,208.12 L385.40,208.15 L386.40,208.19 L387.40,208.23 L387.60,208.24" stroke="#ffa500" stroke-width="2.0"/>
<path d="M89.20,238.66 L90.20,238.67 L91.20,238.69 L92.20,238.70 L93.20,238.71 L94.20,238.72 L95.20,238.73 L96.20,238.74 L97.20,238.75 L98.20,238.76 L99.20,238.77 L100.20,238.78 L101.20,238.78 L102.20,238.79 L103.20,238.79 L104.20,238.80 L105.20,238.80 L105.40,238.80 M124.80,238.58 L125.80,238.55 L126.80,238.52 L127.80,238.49 L128.80,238.46 L129.80,238.42 L130.80,238.39 L131.80,238.35 L132.80,238.30 L133.80,238.26 L134.80,238.22 L135.80,238.17 L136.80,238.12 L137.80,238.07 L138.80,238.01 L139.80,237.96 L140.70,237.91 M160.50,236.39 L161.50,236.29 L162.50,236.20 L163.50,236.10 L164.50,236.01 L165.50,235.91 L166.50,235.81 L167.50,235.71 L168.50,235.61 L169.50,235.51 L170.50,235.40 L171.50,235.30 L172.50,235.19 L173.50,235.09 L174.50,234.98 L175.50,234.88 L176.41,234.78 M195.99,232.56 L196.99,232.44 L197.99,232.33 L198.99,232.21 L199.99,232.09 L200.99,231.98 L201.99,231.86 L202.99,231.74 L203.99,231.62 L204.99,231.51 L205.99,231.39 L206.99,231.27 L207.99,231.15 L208.99,231.04 L209.99,230.92 L210.99,230.80 L211.99,230.69 L212.01,230.69 M231.49,228.48 L232.49,228.37 L233.49,228.26 L234.49,228.15 L235.49,228.05 L236.49,227.94 L237.49,227.84 L238.49,227.73 L239.49,227.63 L240.49,227.53 L241.49,227.43 L242.49,227.33 L243.49,227.23 L244.49,227.13 L245.49,227.03 L246.49,226.93 L247.49,226.84 L247.70,226.82 M267.40,225.14 L268.40,225.06 L269.40,224.99 L270.40,224.92 L271.40,224.84 L272.40,224.77 L273.40,224.70 L274.40,224.63 L275.40,224.56 L276.40,224.50 L277.40,224.43 L278.40,224.36 L279.40,224.30 L280.40,224.23 L281.40,224.17 L282.40,224.11 L283.40,224.05 L283.40,224.05 M302.80,223.01 L303.80,222.97 L304.80,222.93 L305.80,222.88 L306.80,222.84 L307.80,222.80 L308.80,222.76 L309.80,222.71 L310.80,222.67 L311.80,222.64 L312.80,222.60 L313.80,222.56 L314.80,222.52 L315.80,222.49 L316.80,222.45 L317.80,222.42 L318.80,222.38 L319.10,222.37 M338.60,221.84 L339.60,221.82 L340.60,221.80 L341.60,221.77 L342.60,221.76 L343.60,221.74 L344.60,221.72 L345.60,221.70 L346.60,221.68 L347.60,221.67 L348.60,221.65 L349.60,221.63 L350.60,221.62 L351.60,221.60 L352.60,221.59 L353.60,221.58 L354.60,221.56 L354.60,221.56 M374.30,221.40 L375.30,221.40 L376.30,221.39 L377.30,221.39 L378.30,221.39 L379.30,221.38 L380.30,221.38 L381.30,221.38 L382.30,221.38 L383.30,221.38 L384.30,221.38 L385.30,221.38 L386.30,221.38 L387.30,221.38 L388.30,221.38 L389.30,221.38 L390.30,221.38 L390.40,221.38" stroke="#ff0000" stroke-width="2.0"/>
<path d="M91.70,247.00 L92.70,247.00 L93.70,246.99 L94.70,246.99 L95.70,246.99 L96.70,246.98 L97.70,246.98 L98.70,246.98 L99.70,246.98 L100.70,246.98 L101.70,246.98 L102.70,246.98 L103.70,246.98 L104.70,246.98 L105.70,246.98 L106.70,246.97 L107.70,246.97 L108.00,246.97 M127.60,246.96 L128.60,246.96 L129.60,246.96 L130.60,246.95 L131.60,246.95 L132.60,246.95 L133.60,246.94 L134.60,246.94 L135.60,246.93 L136.60,246.93 L137.60,246.92 L138.60,246.92 L139.60,246.91 L140.60,246.90 L141.60,246.89 L142.60,246.88 L143.50,246.88 M163.30,246.54 L164.30,246.52 L165.30,246.49 L166.30,246.46 L167.30,246.44 L168.30,246.41 L169.30,246.37 L170.30,246.34 L171.30,246.31 L172.30,246.27 L173.30,246.24 L174.30,246.20 L175.30,246.16 L176.30,246.13 L177.30,246.09 L178.30,246.04 L179.20,246.01 M198.60,244.95 L199.60,244.88 L200.60,244.81 L201.60,244.75 L202.60,244.68 L203.60,244.61 L204.60,244.54 L205.60,244.47 L206.60,244.40 L207.60,244.33 L208.60,244.26 L209.60,244.19 L210.60,244.12 L211.60,244.04 L212.60,243.97 L213.60,243.89 L214.60,243.82 L214.70,243.81 M234.60,242.25 L235.60,242.17 L236.60,242.09 L237.60,242.01 L238.60,241.93 L239.60,241.86 L240.60,241.78 L241.60,241.70 L242.60,241.62 L243.60,241.54 L244.60,241.46 L245.60,241.38 L246.60,241.30 L247.60,241.23 L248.60,241.15 L249.60,241.07 L250.50,241.00 M269.90,239.60 L270.90,239.53 L271.90,239.46 L272.90,239.39 L273.90,239.33 L274.90,239.26 L275.90,239.20 L276.90,239.13 L277.90,239.06 L278.90,239.00 L279.90,238.94 L280.90,238.87 L281.90,238.81 L282.90,238.74 L283.90,238.68 L284.90,238.62 L285.90,238.56 L286.20,238.54 M305.60,237.42 L306.60,237.37 L307.60,237.31 L308.60,237.26 L309.60,237.21 L310.60,237.16 L311.60,237.11 L312.60,237.06 L313.60,237.00 L314.60,236.95 L315.60,236.90 L316.60,236.85 L317.60,236.81 L318.60,236.76 L319.60,236.71 L320.60,236.66 L321.60,236.61 L321.70,236.61 M341.50,235.75 L342.50,235.71 L343.50,235.67 L344.50,235.64 L345.50,235.60 L346.50,235.56 L347.50,235.52 L348.50,235.49 L349.50,235.45 L350.50,235.41 L351.50,235.38 L352.50,235.34 L353.50,235.31 L354.50,235.27 L355.50,235.24 L356.50,235.20 L357.30,235.18 M376.80,234.60 L377.80,234.58 L378.80,234.55 L379.80,234.53 L380.80,234.50 L381.80,234.48 L382.80,234.45 L383.80,234.43 L384.80,234.41 L385.80,234.39 L386.80,234.36 L387.80,234.34 L388.80,234.32 L389.80,234.30 L390.80,234.28 L391.80,234.26 L392.80,234.24 L393.10,234.23" stroke="#a52a2a" stroke-width="2.0"/>
</g>
<rect x="80.1" y="44.0" width="325.90" height="238.20" fill="none" stroke="#1e1e1e" stroke-width="1.3"/>
<rect x="423.4" y="43.6" width="58.40" height="73.00" fill="#fff" stroke="#000" stroke-width="0.7"/>
<text transform="translate(426.5,56.10) scale(1,1.045)" font-size="14.1">z=5</text>
<path d="M459.65,51.10H471.85" stroke="#0000ff" stroke-width="2.5" stroke-linecap="round"/>
<text transform="translate(426.5,70.50) scale(1,1.045)" font-size="14.1">z=6</text>
<path d="M459.65,65.65H471.85" stroke="#009e00" stroke-width="2.5" stroke-linecap="round"/>
<text transform="translate(426.5,84.90) scale(1,1.045)" font-size="14.1">z=7</text>
<path d="M459.65,80.20H471.85" stroke="#ffa500" stroke-width="2.5" stroke-linecap="round"/>
<text transform="translate(426.5,99.30) scale(1,1.045)" font-size="14.1">z=8</text>
<path d="M459.65,94.75H471.85" stroke="#ff0000" stroke-width="2.5" stroke-linecap="round"/>
<text transform="translate(426.5,113.70) scale(1,1.045)" font-size="14.1">z=9</text>
<path d="M459.65,109.30H471.85" stroke="#a52a2a" stroke-width="2.5" stroke-linecap="round"/>

</g>
<g transform="translate(0.0,343.5)">
<clipPath id="cp2"><rect x="80.1" y="44.0" width="325.9" height="238.2"/></clipPath>
<text transform="translate(70.8,66.25) scale(1,1.045)" text-anchor="end">25</text>
<text transform="translate(70.8,110.41) scale(1,1.045)" text-anchor="end">25.5</text>
<text transform="translate(70.8,154.57) scale(1,1.045)" text-anchor="end">26</text>
<text transform="translate(70.8,198.73) scale(1,1.045)" text-anchor="end">26.5</text>
<text transform="translate(70.8,242.89) scale(1,1.045)" text-anchor="end">27</text>
<text transform="translate(70.8,287.05) scale(1,1.045)" text-anchor="end">27.5</text>
<text transform="translate(134.0,301.90) scale(1,1.045)" text-anchor="middle">2000</text>
<text transform="translate(202.39999999999998,301.90) scale(1,1.045)" text-anchor="middle">4000</text>
<text transform="translate(270.9,301.90) scale(1,1.045)" text-anchor="middle">6000</text>
<text transform="translate(339.4,301.90) scale(1,1.045)" text-anchor="middle">8000</text>
<path d="M80.1,61.40h5.4 M406.0,61.40h-5.4 M80.1,105.56h5.4 M406.0,105.56h-5.4 M80.1,149.72h5.4 M406.0,149.72h-5.4 M80.1,193.88h5.4 M406.0,193.88h-5.4 M80.1,238.04h5.4 M406.0,238.04h-5.4 M132.3,282.2v-5.4 M132.3,44.0v5.4 M200.7,282.2v-5.4 M200.7,44.0v5.4 M269.2,282.2v-5.4 M269.2,44.0v5.4 M337.7,282.2v-5.4 M337.7,44.0v5.4" stroke="#000" stroke-width="0.8" fill="none"/>
<text transform="translate(243.05,26.5) scale(1,1.045)" text-anchor="middle">F356W</text>
<text transform="translate(243.05,322.2) scale(1,1.045)" text-anchor="middle">t<tspan font-size="11.6" dy="4.6">obs</tspan><tspan dy="-4.6"> (days)</tspan></text>
<text transform="translate(15.1,163.10) rotate(-90) scale(1,1.045)" text-anchor="middle">Observed m<tspan font-size="11.6" dy="4.6">AB</tspan></text>
<g clip-path="url(#cp2)" fill="none" stroke-linecap="round" stroke-linejoin="round">
<path d="M80.10,163.93 L81.10,161.39 L82.10,158.90 L83.10,156.46 L84.10,154.06 L85.10,151.69 L86.10,149.32 L87.10,146.94 L88.10,144.53 L89.10,142.07 L90.10,139.59 L91.10,137.11 L92.10,134.66 L93.10,132.28 L94.10,130.01 L95.10,127.86 L96.10,125.86 L97.10,123.98 L98.10,122.23 L99.10,120.60 L100.10,119.09 L101.10,117.69 L102.10,116.40 L103.10,115.21 L104.10,114.12 L105.10,113.12 L106.10,112.21 L107.10,111.38 L108.10,110.63 L109.10,109.96 L110.10,109.36 L111.10,108.83 L112.10,108.36 L113.10,107.95 L114.10,107.60 L115.10,107.30 L116.10,107.06 L117.10,106.85 L118.10,106.69 L119.10,106.57 L120.10,106.48 L121.10,106.43 L122.10,106.41 L123.10,106.41 L124.10,106.45 L125.10,106.52 L126.10,106.61 L127.10,106.72 L128.10,106.86 L129.10,107.02 L130.10,107.20 L131.10,107.40 L132.10,107.61 L133.10,107.85 L134.10,108.09 L135.10,108.35 L136.10,108.63 L137.10,108.91 L138.10,109.20 L139.10,109.51 L140.10,109.82 L141.10,110.14 L142.10,110.46 L143.10,110.79 L144.10,111.12 L145.10,111.45 L146.10,111.79 L147.10,112.12 L148.10,112.46 L149.10,112.79 L150.10,113.12 L151.10,113.46 L152.10,113.79 L153.10,114.12 L154.10,114.46 L155.10,114.79 L156.10,115.13 L157.10,115.46 L158.10,115.80 L159.10,116.14 L160.10,116.47 L161.10,116.81 L162.10,117.16 L163.10,117.50 L164.10,117.84 L165.10,118.19 L166.10,118.54 L167.10,118.89 L168.10,119.24 L169.10,119.60 L170.10,119.95 L171.10,120.31 L172.10,120.68 L173.10,121.04 L174.10,121.41 L175.10,121.77 L176.10,122.14 L177.10,122.52 L178.10,122.89 L179.10,123.26 L180.10,123.64 L181.10,124.01 L182.10,124.39 L183.10,124.77 L184.10,125.15 L185.10,125.52 L186.10,125.90 L187.10,126.28 L188.10,126.66 L189.10,127.03 L190.10,127.41 L191.10,127.79 L192.10,128.16 L193.10,128.53 L194.10,128.91 L195.10,129.28 L196.10,129.65 L197.10,130.01 L198.10,130.37 L199.10,130.74 L200.10,131.09 L201.10,131.45 L202.10,131.80 L203.10,132.14 L204.10,132.48 L205.10,132.82 L206.10,133.15 L207.10,133.48 L208.10,133.80 L209.10,134.12 L210.10,134.43 L211.10,134.74 L212.10,135.04 L213.10,135.34 L214.10,135.63 L215.10,135.92 L216.10,136.20 L217.10,136.48 L218.10,136.76 L219.10,137.03 L220.10,137.30 L221.10,137.56 L222.10,137.82 L223.10,138.08 L224.10,138.33 L225.10,138.59 L226.10,138.83 L227.10,139.08 L228.10,139.32 L229.10,139.57 L230.10,139.81 L231.10,140.04 L232.10,140.28 L233.10,140.51 L234.10,140.75 L235.10,140.98 L236.10,141.21 L237.10,141.43 L238.10,141.66 L239.10,141.88 L240.10,142.10 L241.10,142.32 L242.10,142.54 L243.10,142.76 L244.10,142.98 L245.10,143.19 L246.10,143.40 L247.10,143.61 L248.10,143.82 L249.10,144.03 L250.10,144.23 L251.10,144.43 L252.10,144.64 L253.10,144.84 L254.10,145.04 L255.10,145.23 L256.10,145.43 L257.10,145.62 L258.10,145.81 L259.10,146.01 L260.10,146.20 L261.10,146.38 L262.10,146.57 L263.10,146.75 L264.10,146.94 L265.10,147.12 L266.10,147.30 L267.10,147.48 L268.10,147.66 L269.10,147.83 L270.10,148.01 L271.10,148.18 L272.10,148.35 L273.10,148.53 L274.10,148.69 L275.10,148.86 L276.10,149.03 L277.10,149.19 L278.10,149.36 L279.10,149.52 L280.10,149.68 L281.10,149.84 L282.10,150.00 L283.10,150.16 L284.10,150.31 L285.10,150.47 L286.10,150.62 L287.10,150.78 L288.10,150.93 L289.10,151.08 L290.10,151.23 L291.10,151.37 L292.10,151.52 L293.10,151.66 L294.10,151.81 L295.10,151.95 L296.10,152.09 L297.10,152.23 L298.10,152.37 L299.10,152.51 L300.10,152.65 L301.10,152.78 L302.10,152.92 L303.10,153.05 L304.10,153.19 L305.10,153.32 L306.10,153.45 L307.10,153.58 L308.10,153.71 L309.10,153.84 L310.10,153.96 L311.10,154.09 L312.10,154.21 L313.10,154.34 L314.10,154.46 L315.10,154.58 L316.10,154.70 L317.10,154.82 L318.10,154.94 L319.10,155.06 L320.10,155.18 L321.10,155.30 L322.10,155.41 L323.10,155.53 L324.10,155.64 L325.10,155.75 L326.10,155.87 L327.10,155.98 L328.10,156.09 L329.10,156.20 L330.10,156.30 L331.10,156.41 L332.10,156.52 L333.10,156.62 L334.10,156.73 L335.10,156.83 L336.10,156.93 L337.10,157.03 L338.10,157.14 L339.10,157.24 L340.10,157.33 L341.10,157.43 L342.10,157.53 L343.10,157.62 L344.10,157.72 L345.10,157.81 L346.10,157.90 L347.10,158.00 L348.10,158.09 L349.10,158.18 L350.10,158.27 L351.10,158.35 L352.10,158.44 L353.10,158.53 L354.10,158.61 L355.10,158.69 L356.10,158.78 L357.10,158.86 L358.10,158.94 L359.10,159.02 L360.10,159.09 L361.10,159.17 L362.10,159.25 L363.10,159.32 L364.10,159.40 L365.10,159.47 L366.10,159.54 L367.10,159.61 L368.10,159.68 L369.10,159.75 L370.10,159.82 L371.10,159.88 L372.10,159.95 L373.10,160.01 L374.10,160.08 L375.10,160.14 L376.10,160.20 L377.10,160.26 L378.10,160.32 L379.10,160.38 L380.10,160.43 L381.10,160.49 L382.10,160.54 L383.10,160.59 L384.10,160.65 L385.10,160.70 L386.10,160.75 L387.10,160.79 L388.10,160.84 L389.10,160.89 L390.10,160.93 L391.10,160.98 L392.10,161.02 L393.10,161.06 L394.10,161.10 L395.10,161.14 L396.10,161.18 L397.10,161.21 L398.10,161.25 L399.10,161.28 L400.10,161.31 L401.10,161.35 L402.10,161.38 L403.10,161.41 L404.10,161.43 L405.10,161.46 L406.00,161.48" stroke="#0000ff" stroke-width="2.5"/>
<path d="M83.81,196.61 L84.81,195.83 L85.81,194.88 L86.81,193.78 L87.81,192.51 L88.81,191.10 L89.81,189.57 L90.81,187.99 L91.81,186.42 L92.81,184.89 L93.81,183.39 L94.81,181.94 L95.81,180.52 L96.81,179.14 L97.81,177.79 L98.81,176.46 L99.81,175.17 L100.81,173.88 L101.81,172.60 L102.81,171.31 L103.81,170.02 L104.81,168.71 L105.81,167.40 L106.81,166.10 L107.81,164.83 L108.81,163.59 L109.81,162.40 L110.81,161.26 L111.81,160.18 L112.81,159.16 L113.81,158.19 L114.81,157.27 L115.81,156.40 L116.81,155.58 L117.81,154.81 L118.81,154.08 L119.81,153.39 L120.81,152.75 L121.81,152.15 L122.81,151.59 L123.81,151.06 L124.81,150.57 L125.81,150.12 L126.81,149.69 L127.81,149.30 L128.81,148.94 L129.81,148.61 L130.81,148.30 L131.81,148.02 L132.81,147.76 L133.81,147.52 L134.81,147.30 L135.81,147.11 L136.81,146.93 L137.81,146.76 L138.81,146.61 L139.81,146.48 L140.81,146.37 L141.81,146.26 L142.81,146.18 L143.81,146.11 L144.81,146.05 L145.81,146.00 L146.81,145.97 L147.81,145.95 L148.81,145.94 L149.81,145.95 L150.81,145.96 L151.81,145.99 L152.81,146.03 L153.81,146.08 L154.81,146.13 L155.81,146.20 L156.81,146.28 L157.81,146.36 L158.81,146.45 L159.81,146.55 L160.81,146.66 L161.81,146.77 L162.81,146.89 L163.81,147.02 L164.81,147.15 L165.81,147.29 L166.81,147.43 L167.81,147.58 L168.81,147.73 L169.81,147.88 L170.81,148.04 L171.81,148.20 L172.81,148.36 L173.81,148.53 L174.81,148.70 L175.81,148.87 L176.81,149.05 L177.81,149.23 L178.81,149.41 L179.81,149.59 L180.81,149.78 L181.81,149.97 L182.81,150.16 L183.81,150.35 L184.81,150.55 L185.81,150.75 L186.81,150.95 L187.81,151.15 L188.81,151.36 L189.81,151.56 L190.81,151.77 L191.81,151.98 L192.81,152.19 L193.81,152.40 L194.81,152.62 L195.81,152.83 L196.81,153.05 L197.81,153.27 L198.81,153.49 L199.81,153.71 L200.81,153.93 L201.81,154.15 L202.81,154.37 L203.81,154.60 L204.81,154.82 L205.81,155.05 L206.81,155.27 L207.81,155.50 L208.81,155.73 L209.81,155.95 L210.81,156.18 L211.81,156.41 L212.81,156.63 L213.81,156.86 L214.81,157.09 L215.81,157.31 L216.81,157.54 L217.81,157.77 L218.81,157.99 L219.81,158.22 L220.81,158.44 L221.81,158.67 L222.81,158.89 L223.81,159.11 L224.81,159.33 L225.81,159.55 L226.81,159.77 L227.81,159.99 L228.81,160.21 L229.81,160.43 L230.81,160.64 L231.81,160.85 L232.81,161.07 L233.81,161.28 L234.81,161.49 L235.81,161.69 L236.81,161.90 L237.81,162.10 L238.81,162.31 L239.81,162.51 L240.81,162.71 L241.81,162.91 L242.81,163.11 L243.81,163.30 L244.81,163.50 L245.81,163.69 L246.81,163.88 L247.81,164.08 L248.81,164.26 L249.81,164.45 L250.81,164.64 L251.81,164.83 L252.81,165.01 L253.81,165.19 L254.81,165.37 L255.81,165.55 L256.81,165.73 L257.81,165.91 L258.81,166.09 L259.81,166.26 L260.81,166.43 L261.81,166.61 L262.81,166.78 L263.81,166.95 L264.81,167.11 L265.81,167.28 L266.81,167.45 L267.81,167.61 L268.81,167.77 L269.81,167.94 L270.81,168.10 L271.81,168.26 L272.81,168.41 L273.81,168.57 L274.81,168.72 L275.81,168.88 L276.81,169.03 L277.81,169.18 L278.81,169.33 L279.81,169.48 L280.81,169.63 L281.81,169.78 L282.81,169.93 L283.81,170.07 L284.81,170.22 L285.81,170.37 L286.81,170.51 L287.81,170.66 L288.81,170.81 L289.81,170.96 L290.81,171.10 L291.81,171.25 L292.81,171.40 L293.81,171.55 L294.81,171.70 L295.81,171.86 L296.81,172.01 L297.81,172.17 L298.81,172.32 L299.81,172.48 L300.81,172.64 L301.81,172.80 L302.81,172.96 L303.81,173.12 L304.81,173.28 L305.81,173.44 L306.81,173.60 L307.81,173.76 L308.81,173.93 L309.81,174.09 L310.81,174.25 L311.81,174.41 L312.81,174.57 L313.81,174.72 L314.81,174.88 L315.81,175.03 L316.81,175.19 L317.81,175.34 L318.81,175.49 L319.81,175.64 L320.81,175.78 L321.81,175.93 L322.81,176.07 L323.81,176.21 L324.81,176.35 L325.81,176.49 L326.81,176.63 L327.81,176.76 L328.81,176.89 L329.81,177.02 L330.81,177.15 L331.81,177.28 L332.81,177.41 L333.81,177.53 L334.81,177.65 L335.81,177.77 L336.81,177.89 L337.81,178.01 L338.81,178.13 L339.81,178.25 L340.81,178.36 L341.81,178.47 L342.81,178.58 L343.81,178.69 L344.81,178.80 L345.81,178.91 L346.81,179.02 L347.81,179.12 L348.81,179.23 L349.81,179.33 L350.81,179.43 L351.81,179.53 L352.81,179.63 L353.81,179.73 L354.81,179.83 L355.81,179.92 L356.81,180.02 L357.81,180.11 L358.81,180.20 L359.81,180.30 L360.81,180.39 L361.81,180.48 L362.81,180.57 L363.81,180.66 L364.81,180.74 L365.81,180.83 L366.81,180.92 L367.81,181.00 L368.81,181.09 L369.81,181.17 L370.81,181.26 L371.81,181.34 L372.81,181.42 L373.81,181.50 L374.81,181.58 L375.81,181.66 L376.81,181.74 L377.81,181.82 L378.81,181.90 L379.81,181.98 L380.81,182.06 L381.81,182.13 L382.81,182.21 L383.81,182.29 L384.81,182.36 L385.81,182.44 L386.81,182.51 L387.81,182.59 L388.81,182.66 L389.81,182.74 L390.81,182.81 L391.81,182.89 L392.81,182.96 L393.81,183.04 L394.81,183.11 L395.81,183.18 L396.81,183.26 L397.81,183.33 L398.81,183.40 L399.81,183.48 L400.81,183.55 L401.81,183.62 L402.81,183.70 L403.81,183.77 L404.81,183.85 L405.81,183.92 L406.00,183.93" stroke="#009e00" stroke-width="2.5"/>
<path d="M86.75,197.07 L87.75,196.95 L88.75,196.79 L89.75,196.57 L90.75,196.31 L91.75,196.00 L92.75,195.65 L93.75,195.27 L94.75,194.85 L95.75,194.39 L96.75,193.90 L97.75,193.39 L98.75,192.84 L99.75,192.28 L100.75,191.68 L101.75,191.07 L102.75,190.44 L103.75,189.79 L104.75,189.13 L105.75,188.45 L106.75,187.77 L107.75,187.07 L108.75,186.37 L109.75,185.66 L110.75,184.95 L111.75,184.24 L112.75,183.53 L113.75,182.82 L114.75,182.11 L115.75,181.41 L116.75,180.71 L117.75,180.02 L118.75,179.34 L119.75,178.66 L120.75,178.00 L121.75,177.34 L122.75,176.69 L123.75,176.05 L124.75,175.43 L125.75,174.81 L126.75,174.20 L127.75,173.61 L128.75,173.03 L129.75,172.47 L130.75,171.91 L131.75,171.38 L132.75,170.85 L133.75,170.35 L134.75,169.86 L135.75,169.38 L136.75,168.92 L137.75,168.48 L138.75,168.06 L139.75,167.65 L140.75,167.26 L141.75,166.88 L142.75,166.52 L143.75,166.18 L144.75,165.85 L145.75,165.53 L146.75,165.23 L147.75,164.95 L148.75,164.68 L149.75,164.42 L150.75,164.17 L151.75,163.94 L152.75,163.73 L153.75,163.52 L154.75,163.33 L155.75,163.15 L156.75,162.98 L157.75,162.83 L158.75,162.68 L159.75,162.55 L160.75,162.43 L161.75,162.32 L162.75,162.22 L163.75,162.12 L164.75,162.04 L165.75,161.96 L166.75,161.90 L167.75,161.84 L168.75,161.78 L169.75,161.74 L170.75,161.70 L171.75,161.66 L172.75,161.63 L173.75,161.61 L174.75,161.58 L175.75,161.56 L176.75,161.55 L177.75,161.54 L178.75,161.53 L179.75,161.52 L180.75,161.51 L181.75,161.50 L182.75,161.49 L183.75,161.49 L184.75,161.48 L185.75,161.48 L186.75,161.48 L187.75,161.48 L188.75,161.49 L189.75,161.49 L190.75,161.50 L191.75,161.52 L192.75,161.53 L193.75,161.55 L194.75,161.57 L195.75,161.60 L196.75,161.63 L197.75,161.66 L198.75,161.69 L199.75,161.73 L200.75,161.77 L201.75,161.82 L202.75,161.86 L203.75,161.92 L204.75,161.97 L205.75,162.03 L206.75,162.09 L207.75,162.15 L208.75,162.22 L209.75,162.29 L210.75,162.36 L211.75,162.44 L212.75,162.52 L213.75,162.60 L214.75,162.68 L215.75,162.77 L216.75,162.86 L217.75,162.95 L218.75,163.05 L219.75,163.15 L220.75,163.24 L221.75,163.35 L222.75,163.45 L223.75,163.55 L224.75,163.66 L225.75,163.77 L226.75,163.88 L227.75,163.99 L228.75,164.10 L229.75,164.21 L230.75,164.33 L231.75,164.44 L232.75,164.56 L233.75,164.67 L234.75,164.79 L235.75,164.91 L236.75,165.03 L237.75,165.15 L238.75,165.26 L239.75,165.38 L240.75,165.50 L241.75,165.62 L242.75,165.74 L243.75,165.86 L244.75,165.98 L245.75,166.10 L246.75,166.21 L247.75,166.33 L248.75,166.45 L249.75,166.56 L250.75,166.68 L251.75,166.79 L252.75,166.90 L253.75,167.01 L254.75,167.12 L255.75,167.23 L256.75,167.34 L257.75,167.44 L258.75,167.55 L259.75,167.65 L260.75,167.76 L261.75,167.86 L262.75,167.96 L263.75,168.07 L264.75,168.17 L265.75,168.27 L266.75,168.38 L267.75,168.48 L268.75,168.58 L269.75,168.69 L270.75,168.79 L271.75,168.90 L272.75,169.01 L273.75,169.12 L274.75,169.22 L275.75,169.34 L276.75,169.45 L277.75,169.56 L278.75,169.67 L279.75,169.79 L280.75,169.91 L281.75,170.03 L282.75,170.15 L283.75,170.27 L284.75,170.39 L285.75,170.51 L286.75,170.63 L287.75,170.76 L288.75,170.88 L289.75,171.01 L290.75,171.13 L291.75,171.26 L292.75,171.39 L293.75,171.52 L294.75,171.64 L295.75,171.77 L296.75,171.90 L297.75,172.03 L298.75,172.16 L299.75,172.29 L300.75,172.42 L301.75,172.54 L302.75,172.67 L303.75,172.80 L304.75,172.93 L305.75,173.06 L306.75,173.19 L307.75,173.31 L308.75,173.44 L309.75,173.57 L310.75,173.69 L311.75,173.82 L312.75,173.94 L313.75,174.06 L314.75,174.18 L315.75,174.31 L316.75,174.43 L317.75,174.54 L318.75,174.66 L319.75,174.78 L320.75,174.90 L321.75,175.01 L322.75,175.12 L323.75,175.24 L324.75,175.35 L325.75,175.46 L326.75,175.57 L327.75,175.67 L328.75,175.78 L329.75,175.88 L330.75,175.99 L331.75,176.09 L332.75,176.19 L333.75,176.30 L334.75,176.40 L335.75,176.49 L336.75,176.59 L337.75,176.69 L338.75,176.79 L339.75,176.88 L340.75,176.97 L341.75,177.07 L342.75,177.16 L343.75,177.25 L344.75,177.34 L345.75,177.43 L346.75,177.52 L347.75,177.60 L348.75,177.69 L349.75,177.77 L350.75,177.86 L351.75,177.94 L352.75,178.02 L353.75,178.11 L354.75,178.19 L355.75,178.27 L356.75,178.35 L357.75,178.42 L358.75,178.50 L359.75,178.58 L360.75,178.66 L361.75,178.73 L362.75,178.81 L363.75,178.88 L364.75,178.95 L365.75,179.03 L366.75,179.10 L367.75,179.17 L368.75,179.24 L369.75,179.31 L370.75,179.38 L371.75,179.45 L372.75,179.52 L373.75,179.59 L374.75,179.65 L375.75,179.72 L376.75,179.79 L377.75,179.85 L378.75,179.92 L379.75,179.98 L380.75,180.05 L381.75,180.11 L382.75,180.18 L383.75,180.24 L384.75,180.31 L385.75,180.37 L386.75,180.43 L387.75,180.49 L388.75,180.56 L389.75,180.62 L390.75,180.68 L391.75,180.74 L392.75,180.80 L393.75,180.86 L394.75,180.92 L395.75,180.98 L396.75,181.04 L397.75,181.10 L398.75,181.16 L399.75,181.22 L400.75,181.28 L401.75,181.34 L402.75,181.40 L403.75,181.46 L404.75,181.52 L405.75,181.58 L406.00,181.59" stroke="#ffa500" stroke-width="2.5"/>
<path d="M89.45,220.37 L90.45,220.34 L91.45,220.29 L92.45,220.22 L93.45,220.13 L94.45,220.03 L95.45,219.90 L96.45,219.76 L97.45,219.61 L98.45,219.44 L99.45,219.25 L100.45,219.05 L101.45,218.83 L102.45,218.60 L103.45,218.36 L104.45,218.10 L105.45,217.83 L106.45,217.55 L107.45,217.26 L108.45,216.95 L109.45,216.64 L110.45,216.31 L111.45,215.98 L112.45,215.63 L113.45,215.28 L114.45,214.92 L115.45,214.55 L116.45,214.17 L117.45,213.79 L118.45,213.40 L119.45,213.00 L120.45,212.60 L121.45,212.19 L122.45,211.78 L123.45,211.36 L124.45,210.94 L125.45,210.51 L126.45,210.09 L127.45,209.66 L128.45,209.23 L129.45,208.79 L130.45,208.36 L131.45,207.93 L132.45,207.49 L133.45,207.06 L134.45,206.62 L135.45,206.19 L136.45,205.76 L137.45,205.33 L138.45,204.91 L139.45,204.48 L140.45,204.06 L141.45,203.64 L142.45,203.23 L143.45,202.82 L144.45,202.41 L145.45,202.01 L146.45,201.61 L147.45,201.22 L148.45,200.83 L149.45,200.45 L150.45,200.07 L151.45,199.70 L152.45,199.33 L153.45,198.98 L154.45,198.62 L155.45,198.28 L156.45,197.94 L157.45,197.62 L158.45,197.29 L159.45,196.98 L160.45,196.68 L161.45,196.38 L162.45,196.09 L163.45,195.81 L164.45,195.54 L165.45,195.27 L166.45,195.01 L167.45,194.76 L168.45,194.52 L169.45,194.28 L170.45,194.05 L171.45,193.82 L172.45,193.61 L173.45,193.40 L174.45,193.19 L175.45,192.99 L176.45,192.80 L177.45,192.62 L178.45,192.44 L179.45,192.27 L180.45,192.10 L181.45,191.94 L182.45,191.78 L183.45,191.63 L184.45,191.49 L185.45,191.35 L186.45,191.21 L187.45,191.08 L188.45,190.96 L189.45,190.84 L190.45,190.72 L191.45,190.61 L192.45,190.50 L193.45,190.40 L194.45,190.30 L195.45,190.21 L196.45,190.12 L197.45,190.03 L198.45,189.95 L199.45,189.87 L200.45,189.79 L201.45,189.72 L202.45,189.65 L203.45,189.58 L204.45,189.52 L205.45,189.46 L206.45,189.40 L207.45,189.35 L208.45,189.30 L209.45,189.25 L210.45,189.21 L211.45,189.17 L212.45,189.13 L213.45,189.10 L214.45,189.07 L215.45,189.04 L216.45,189.02 L217.45,188.99 L218.45,188.98 L219.45,188.96 L220.45,188.94 L221.45,188.93 L222.45,188.93 L223.45,188.92 L224.45,188.92 L225.45,188.91 L226.45,188.92 L227.45,188.92 L228.45,188.93 L229.45,188.93 L230.45,188.95 L231.45,188.96 L232.45,188.97 L233.45,188.99 L234.45,189.01 L235.45,189.03 L236.45,189.05 L237.45,189.08 L238.45,189.11 L239.45,189.13 L240.45,189.16 L241.45,189.20 L242.45,189.23 L243.45,189.27 L244.45,189.30 L245.45,189.34 L246.45,189.38 L247.45,189.42 L248.45,189.46 L249.45,189.51 L250.45,189.55 L251.45,189.60 L252.45,189.65 L253.45,189.70 L254.45,189.75 L255.45,189.80 L256.45,189.85 L257.45,189.90 L258.45,189.96 L259.45,190.01 L260.45,190.07 L261.45,190.12 L262.45,190.18 L263.45,190.24 L264.45,190.30 L265.45,190.36 L266.45,190.42 L267.45,190.48 L268.45,190.55 L269.45,190.61 L270.45,190.67 L271.45,190.74 L272.45,190.80 L273.45,190.87 L274.45,190.94 L275.45,191.01 L276.45,191.07 L277.45,191.14 L278.45,191.21 L279.45,191.28 L280.45,191.35 L281.45,191.42 L282.45,191.49 L283.45,191.56 L284.45,191.64 L285.45,191.71 L286.45,191.78 L287.45,191.85 L288.45,191.93 L289.45,192.00 L290.45,192.07 L291.45,192.15 L292.45,192.22 L293.45,192.30 L294.45,192.37 L295.45,192.45 L296.45,192.52 L297.45,192.60 L298.45,192.67 L299.45,192.75 L300.45,192.83 L301.45,192.90 L302.45,192.98 L303.45,193.06 L304.45,193.13 L305.45,193.21 L306.45,193.29 L307.45,193.36 L308.45,193.44 L309.45,193.52 L310.45,193.60 L311.45,193.68 L312.45,193.75 L313.45,193.83 L314.45,193.91 L315.45,193.99 L316.45,194.07 L317.45,194.15 L318.45,194.22 L319.45,194.30 L320.45,194.38 L321.45,194.46 L322.45,194.54 L323.45,194.62 L324.45,194.70 L325.45,194.78 L326.45,194.85 L327.45,194.93 L328.45,195.01 L329.45,195.09 L330.45,195.17 L331.45,195.25 L332.45,195.33 L333.45,195.41 L334.45,195.48 L335.45,195.56 L336.45,195.64 L337.45,195.72 L338.45,195.80 L339.45,195.88 L340.45,195.95 L341.45,196.03 L342.45,196.11 L343.45,196.19 L344.45,196.27 L345.45,196.34 L346.45,196.42 L347.45,196.50 L348.45,196.57 L349.45,196.65 L350.45,196.73 L351.45,196.80 L352.45,196.88 L353.45,196.96 L354.45,197.03 L355.45,197.11 L356.45,197.18 L357.45,197.26 L358.45,197.33 L359.45,197.41 L360.45,197.48 L361.45,197.55 L362.45,197.63 L363.45,197.70 L364.45,197.77 L365.45,197.85 L366.45,197.92 L367.45,197.99 L368.45,198.06 L369.45,198.13 L370.45,198.21 L371.45,198.28 L372.45,198.35 L373.45,198.42 L374.45,198.49 L375.45,198.56 L376.45,198.62 L377.45,198.69 L378.45,198.76 L379.45,198.83 L380.45,198.90 L381.45,198.96 L382.45,199.03 L383.45,199.09 L384.45,199.16 L385.45,199.22 L386.45,199.29 L387.45,199.35 L388.45,199.42 L389.45,199.48 L390.45,199.54 L391.45,199.60 L392.45,199.67 L393.45,199.73 L394.45,199.79 L395.45,199.85 L396.45,199.91 L397.45,199.96 L398.45,200.02 L399.45,200.08 L400.45,200.14 L401.45,200.19 L402.45,200.25 L403.45,200.31 L404.45,200.36 L405.45,200.41 L406.00,200.44" stroke="#ff0000" stroke-width="2.5"/>
<path d="M92.45,234.52 L93.45,234.55 L94.45,234.57 L95.45,234.59 L96.45,234.59 L97.45,234.58 L98.45,234.56 L99.45,234.53 L100.45,234.49 L101.45,234.44 L102.45,234.38 L103.45,234.31 L104.45,234.24 L105.45,234.15 L106.45,234.06 L107.45,233.95 L108.45,233.84 L109.45,233.72 L110.45,233.59 L111.45,233.45 L112.45,233.31 L113.45,233.16 L114.45,233.00 L115.45,232.83 L116.45,232.66 L117.45,232.48 L118.45,232.29 L119.45,232.10 L120.45,231.90 L121.45,231.70 L122.45,231.49 L123.45,231.27 L124.45,231.05 L125.45,230.83 L126.45,230.60 L127.45,230.36 L128.45,230.12 L129.45,229.88 L130.45,229.63 L131.45,229.37 L132.45,229.12 L133.45,228.86 L134.45,228.59 L135.45,228.33 L136.45,228.06 L137.45,227.79 L138.45,227.51 L139.45,227.23 L140.45,226.95 L141.45,226.67 L142.45,226.39 L143.45,226.10 L144.45,225.81 L145.45,225.53 L146.45,225.24 L147.45,224.95 L148.45,224.65 L149.45,224.36 L150.45,224.07 L151.45,223.78 L152.45,223.49 L153.45,223.20 L154.45,222.90 L155.45,222.61 L156.45,222.32 L157.45,222.03 L158.45,221.75 L159.45,221.46 L160.45,221.17 L161.45,220.89 L162.45,220.61 L163.45,220.33 L164.45,220.05 L165.45,219.78 L166.45,219.51 L167.45,219.24 L168.45,218.97 L169.45,218.71 L170.45,218.45 L171.45,218.20 L172.45,217.95 L173.45,217.70 L174.45,217.46 L175.45,217.22 L176.45,216.98 L177.45,216.76 L178.45,216.53 L179.45,216.31 L180.45,216.10 L181.45,215.89 L182.45,215.69 L183.45,215.49 L184.45,215.30 L185.45,215.11 L186.45,214.92 L187.45,214.74 L188.45,214.57 L189.45,214.39 L190.45,214.22 L191.45,214.05 L192.45,213.89 L193.45,213.72 L194.45,213.56 L195.45,213.40 L196.45,213.24 L197.45,213.08 L198.45,212.92 L199.45,212.76 L200.45,212.61 L201.45,212.45 L202.45,212.30 L203.45,212.15 L204.45,212.00 L205.45,211.85 L206.45,211.71 L207.45,211.57 L208.45,211.43 L209.45,211.30 L210.45,211.17 L211.45,211.04 L212.45,210.91 L213.45,210.79 L214.45,210.67 L215.45,210.55 L216.45,210.44 L217.45,210.33 L218.45,210.22 L219.45,210.12 L220.45,210.02 L221.45,209.92 L222.45,209.82 L223.45,209.73 L224.45,209.64 L225.45,209.55 L226.45,209.47 L227.45,209.38 L228.45,209.30 L229.45,209.23 L230.45,209.15 L231.45,209.08 L232.45,209.01 L233.45,208.94 L234.45,208.88 L235.45,208.82 L236.45,208.76 L237.45,208.70 L238.45,208.64 L239.45,208.59 L240.45,208.54 L241.45,208.49 L242.45,208.45 L243.45,208.40 L244.45,208.36 L245.45,208.32 L246.45,208.28 L247.45,208.25 L248.45,208.22 L249.45,208.18 L250.45,208.15 L251.45,208.13 L252.45,208.10 L253.45,208.08 L254.45,208.06 L255.45,208.04 L256.45,208.02 L257.45,208.00 L258.45,207.99 L259.45,207.97 L260.45,207.96 L261.45,207.95 L262.45,207.95 L263.45,207.94 L264.45,207.93 L265.45,207.93 L266.45,207.93 L267.45,207.93 L268.45,207.93 L269.45,207.93 L270.45,207.94 L271.45,207.94 L272.45,207.95 L273.45,207.96 L274.45,207.97 L275.45,207.98 L276.45,207.99 L277.45,208.00 L278.45,208.02 L279.45,208.03 L280.45,208.05 L281.45,208.07 L282.45,208.09 L283.45,208.11 L284.45,208.13 L285.45,208.15 L286.45,208.17 L287.45,208.20 L288.45,208.22 L289.45,208.25 L290.45,208.27 L291.45,208.30 L292.45,208.33 L293.45,208.35 L294.45,208.38 L295.45,208.41 L296.45,208.45 L297.45,208.48 L298.45,208.51 L299.45,208.54 L300.45,208.58 L301.45,208.61 L302.45,208.65 L303.45,208.68 L304.45,208.72 L305.45,208.76 L306.45,208.79 L307.45,208.83 L308.45,208.87 L309.45,208.91 L310.45,208.95 L311.45,208.99 L312.45,209.03 L313.45,209.07 L314.45,209.12 L315.45,209.16 L316.45,209.20 L317.45,209.25 L318.45,209.29 L319.45,209.34 L320.45,209.38 L321.45,209.43 L322.45,209.47 L323.45,209.52 L324.45,209.57 L325.45,209.61 L326.45,209.66 L327.45,209.71 L328.45,209.76 L329.45,209.81 L330.45,209.86 L331.45,209.90 L332.45,209.95 L333.45,210.00 L334.45,210.05 L335.45,210.10 L336.45,210.15 L337.45,210.21 L338.45,210.26 L339.45,210.31 L340.45,210.36 L341.45,210.41 L342.45,210.46 L343.45,210.51 L344.45,210.56 L345.45,210.62 L346.45,210.67 L347.45,210.72 L348.45,210.77 L349.45,210.82 L350.45,210.88 L351.45,210.93 L352.45,210.98 L353.45,211.03 L354.45,211.09 L355.45,211.14 L356.45,211.19 L357.45,211.24 L358.45,211.29 L359.45,211.35 L360.45,211.40 L361.45,211.45 L362.45,211.50 L363.45,211.55 L364.45,211.60 L365.45,211.66 L366.45,211.71 L367.45,211.76 L368.45,211.81 L369.45,211.86 L370.45,211.91 L371.45,211.96 L372.45,212.01 L373.45,212.06 L374.45,212.11 L375.45,212.15 L376.45,212.20 L377.45,212.25 L378.45,212.30 L379.45,212.35 L380.45,212.39 L381.45,212.44 L382.45,212.49 L383.45,212.53 L384.45,212.58 L385.45,212.62 L386.45,212.67 L387.45,212.71 L388.45,212.75 L389.45,212.80 L390.45,212.84 L391.45,212.88 L392.45,212.92 L393.45,212.96 L394.45,213.00 L395.45,213.04 L396.45,213.08 L397.45,213.12 L398.45,213.16 L399.45,213.20 L400.45,213.23 L401.45,213.27 L402.45,213.31 L403.45,213.34 L404.45,213.37 L405.45,213.41 L406.00,213.43" stroke="#a52a2a" stroke-width="2.5"/>
<path d="M80.10,236.04 L81.10,232.31 L82.10,228.03 L83.10,223.35 L83.81,219.87 M87.80,199.55 L88.80,194.87 L89.80,190.44 L90.80,186.27 L91.15,184.86 M97.35,164.56 L98.35,162.01 L99.35,159.63 L100.35,157.43 L101.35,155.40 L102.35,153.53 L103.35,151.81 L104.23,150.42 M116.74,140.34 L117.74,140.04 L118.74,139.80 L119.74,139.60 L120.74,139.45 L121.74,139.34 L122.74,139.29 L123.74,139.29 L124.74,139.34 L125.74,139.44 L126.74,139.58 L127.74,139.77 L128.74,139.98 L129.74,140.23 L130.74,140.51 L131.74,140.81 L132.15,140.94 M150.79,148.94 L151.79,149.46 L152.79,149.99 L153.79,150.53 L154.79,151.07 L155.79,151.62 L156.79,152.18 L157.79,152.74 L158.79,153.30 L159.79,153.87 L160.79,154.44 L161.79,155.02 L162.79,155.60 L163.79,156.19 L164.79,156.77 L165.79,157.36 L166.24,157.63 M183.38,167.61 L184.38,168.15 L185.38,168.68 L186.38,169.21 L187.38,169.73 L188.38,170.25 L189.38,170.76 L190.38,171.27 L191.38,171.78 L192.38,172.28 L193.38,172.77 L194.38,173.27 L195.38,173.76 L196.38,174.25 L197.38,174.74 L198.38,175.22 L199.38,175.71 L200.38,176.20 L201.38,176.68 L201.80,176.89 M220.21,185.76 L221.21,186.21 L222.21,186.67 L223.21,187.11 L224.21,187.56 L225.21,188.00 L226.21,188.44 L227.21,188.87 L228.21,189.30 L229.21,189.73 L230.21,190.15 L231.21,190.57 L232.21,190.98 L233.21,191.40 L234.21,191.80 L235.21,192.21 L236.21,192.61 L237.21,193.01 L237.97,193.30 M257.35,200.30 L258.35,200.63 L259.35,200.96 L260.35,201.28 L261.35,201.60 L262.35,201.92 L263.35,202.24 L264.35,202.55 L265.35,202.86 L266.35,203.17 L267.35,203.48 L268.35,203.78 L269.35,204.08 L270.35,204.38 L271.35,204.68 L272.35,204.97 L273.35,205.26 L274.35,205.55 L274.44,205.58 M294.17,210.92 L295.17,211.18 L296.17,211.43 L297.17,211.68 L298.17,211.93 L299.17,212.18 L300.17,212.43 L301.17,212.67 L302.17,212.92 L303.17,213.16 L304.17,213.40 L305.17,213.64 L306.17,213.88 L307.17,214.11 L308.17,214.34 L309.17,214.57 L310.17,214.80 L310.22,214.81 M330.08,218.92 L331.08,219.11 L332.08,219.30 L333.08,219.48 L334.08,219.67 L335.08,219.85 L336.08,220.03 L337.08,220.21 L338.08,220.39 L339.08,220.57 L340.08,220.74 L341.08,220.92 L342.08,221.09 L343.08,221.27 L344.08,221.44 L345.08,221.61 L346.08,221.78 L346.21,221.80 M366.09,225.04 L367.09,225.20 L368.09,225.35 L369.09,225.51 L370.09,225.67 L371.09,225.82 L372.09,225.98 L373.09,226.13 L374.09,226.28 L375.09,226.44 L376.09,226.59 L377.09,226.73 L378.09,226.88 L379.09,227.03 L380.09,227.17 L381.09,227.31 L381.91,227.43 M402.00,229.60 L403.00,229.70 L404.00,229.83 L405.00,230.02 L406.00,230.28 L406.00,230.28" stroke="#0000ff" stroke-width="2.0"/>
<path d="M83.69,259.71 L84.69,258.41 L85.69,256.91 L86.69,255.24 L87.69,253.42 L88.69,251.46 L89.69,249.37 L90.69,247.17 L90.90,246.68 M98.87,227.09 L99.87,224.64 L100.87,222.24 L101.87,219.89 L102.87,217.59 L103.87,215.36 L104.87,213.21 L104.97,213.01 M115.62,195.33 L116.62,194.16 L117.62,193.06 L118.62,192.03 L119.62,191.06 L120.62,190.13 L121.62,189.25 L122.62,188.39 L123.62,187.56 L124.62,186.75 L125.62,185.96 L126.62,185.19 L127.62,184.45 L128.62,183.74 L129.62,183.07 L130.62,182.44 L131.61,181.86 M151.30,178.14 L152.30,178.18 L153.30,178.24 L154.30,178.32 L155.30,178.40 L156.30,178.49 L157.30,178.59 L158.30,178.70 L159.30,178.82 L160.30,178.94 L161.30,179.08 L162.30,179.23 L163.30,179.38 L164.30,179.55 L165.30,179.72 L166.30,179.90 L167.30,180.08 L168.30,180.28 L169.30,180.48 L170.30,180.69 L170.82,180.80 M190.26,186.04 L191.26,186.35 L192.26,186.66 L193.26,186.98 L194.26,187.30 L195.26,187.62 L196.26,187.94 L197.26,188.26 L198.26,188.59 L199.26,188.92 L200.26,189.24 L201.26,189.57 L202.26,189.90 L203.26,190.23 L204.26,190.56 L205.26,190.89 L205.75,191.05 M225.15,197.32 L226.15,197.63 L227.15,197.95 L228.15,198.26 L229.15,198.58 L230.15,198.89 L231.15,199.20 L232.15,199.51 L233.15,199.82 L234.15,200.13 L235.15,200.44 L236.15,200.75 L237.15,201.06 L238.15,201.37 L239.15,201.67 L240.15,201.98 L241.15,202.28 L241.44,202.37 M261.06,208.14 L262.06,208.42 L263.06,208.70 L264.06,208.98 L265.06,209.26 L266.06,209.54 L267.06,209.82 L268.06,210.10 L269.06,210.37 L270.06,210.65 L271.06,210.92 L272.06,211.19 L273.06,211.46 L274.06,211.73 L275.06,212.00 L276.06,212.27 L277.06,212.54 L277.43,212.63 M297.07,217.59 L298.07,217.83 L299.07,218.07 L300.07,218.30 L301.07,218.54 L302.07,218.77 L303.07,219.00 L304.07,219.23 L305.07,219.46 L306.07,219.68 L307.07,219.91 L308.07,220.13 L309.07,220.35 L310.07,220.58 L311.07,220.79 L312.07,221.01 L312.92,221.19 M332.98,225.22 L333.98,225.41 L334.98,225.59 L335.98,225.77 L336.98,225.96 L337.98,226.14 L338.98,226.32 L339.98,226.50 L340.98,226.68 L341.98,226.86 L342.98,227.03 L343.98,227.21 L344.98,227.39 L345.98,227.56 L346.98,227.73 L347.98,227.90 L348.71,228.03 M368.99,231.35 L369.99,231.50 L370.99,231.66 L371.99,231.82 L372.99,231.97 L373.99,232.13 L374.99,232.28 L375.99,232.44 L376.99,232.59 L377.99,232.75 L378.99,232.90 L379.99,233.06 L380.99,233.21 L381.99,233.36 L382.99,233.52 L383.99,233.67 L384.21,233.71 M404.29,236.78 L405.29,236.93 L406.00,237.04" stroke="#009e00" stroke-width="2.0"/>
<path d="M86.50,266.05 L87.50,265.82 L88.50,265.51 L89.50,265.11 L90.50,264.64 L91.50,264.09 L92.50,263.47 L93.50,262.79 L94.50,262.04 L95.50,261.23 L96.50,260.36 L97.50,259.43 L98.50,258.46 L99.50,257.43 L99.52,257.41 M112.52,241.65 L113.52,240.41 L114.52,239.19 L115.52,237.97 L116.52,236.77 L117.52,235.59 L118.52,234.41 L119.52,233.26 L120.52,232.11 L121.52,230.98 L122.52,229.86 L123.52,228.76 L124.52,227.67 L125.52,226.60 L126.52,225.55 L127.52,224.52 L128.52,223.52 L129.52,222.54 L130.52,221.58 L131.52,220.65 L132.52,219.76 L132.94,219.40 M150.62,208.56 L151.62,208.17 L152.62,207.79 L153.62,207.43 L154.62,207.10 L155.62,206.77 L156.62,206.47 L157.62,206.18 L158.62,205.91 L159.62,205.65 L160.62,205.41 L161.62,205.18 L162.62,204.97 L163.62,204.77 L164.62,204.59 L165.62,204.42 L166.62,204.26 L167.62,204.11 L168.62,203.98 L169.62,203.86 L170.62,203.75 L171.62,203.65 L172.62,203.56 L173.50,203.49 M193.40,203.50 L194.40,203.56 L195.40,203.62 L196.40,203.69 L197.40,203.76 L198.40,203.84 L199.40,203.92 L200.40,204.01 L201.40,204.10 L202.40,204.20 L203.40,204.29 L204.40,204.39 L205.40,204.50 L206.40,204.61 L207.40,204.72 L208.40,204.83 L209.11,204.92 M229.19,207.80 L230.19,207.96 L231.19,208.13 L232.19,208.30 L233.19,208.47 L234.19,208.64 L235.19,208.82 L236.19,208.99 L237.19,209.17 L238.19,209.35 L239.19,209.53 L240.19,209.71 L241.19,209.89 L242.19,210.07 L243.19,210.26 L244.19,210.44 L244.72,210.54 M264.38,214.31 L265.38,214.51 L266.38,214.70 L267.38,214.90 L268.38,215.09 L269.38,215.28 L270.38,215.48 L271.38,215.67 L272.38,215.86 L273.38,216.06 L274.38,216.25 L275.38,216.44 L276.38,216.63 L277.38,216.83 L278.38,217.02 L279.38,217.21 L280.22,217.37 M300.28,221.12 L301.28,221.30 L302.28,221.48 L303.28,221.66 L304.28,221.84 L305.28,222.02 L306.28,222.19 L307.28,222.37 L308.28,222.55 L309.28,222.72 L310.28,222.90 L311.28,223.07 L312.28,223.25 L313.28,223.42 L314.28,223.59 L315.28,223.77 L315.91,223.88 M335.89,227.18 L336.89,227.34 L337.89,227.49 L338.89,227.65 L339.89,227.81 L340.89,227.96 L341.89,228.12 L342.89,228.27 L343.89,228.43 L344.89,228.58 L345.89,228.73 L346.89,228.89 L347.89,229.04 L348.89,229.19 L349.89,229.34 L350.89,229.49 L351.89,229.64 L351.91,229.64 M371.69,232.45 L372.69,232.58 L373.69,232.72 L374.69,232.85 L375.69,232.98 L376.69,233.11 L377.69,233.25 L378.69,233.38 L379.69,233.51 L380.69,233.64 L381.69,233.77 L382.69,233.89 L383.69,234.02 L384.69,234.15 L385.69,234.27 L386.69,234.40 L387.51,234.50" stroke="#ffa500" stroke-width="2.0"/>
<path d="M89.40,272.76 L90.40,272.74 L91.40,272.70 L92.40,272.62 L93.40,272.52 L94.40,272.40 L95.40,272.24 L96.40,272.06 L97.40,271.85 L98.40,271.62 L99.40,271.35 L100.40,271.06 L101.40,270.74 L102.40,270.40 L103.40,270.02 L104.40,269.62 L104.79,269.46 M122.01,258.89 L123.01,258.16 L124.01,257.42 L125.01,256.68 L126.01,255.93 L127.01,255.19 L128.01,254.44 L129.01,253.70 L130.01,252.96 L131.01,252.22 L132.01,251.48 L133.01,250.75 L134.01,250.03 L135.01,249.32 L136.01,248.61 L137.01,247.91 L137.47,247.59 M154.80,237.48 L155.80,237.00 L156.80,236.53 L157.80,236.07 L158.80,235.62 L159.80,235.19 L160.80,234.76 L161.80,234.34 L162.80,233.93 L163.80,233.53 L164.80,233.14 L165.80,232.76 L166.80,232.39 L167.80,232.03 L168.80,231.68 L169.80,231.34 L170.80,231.00 L171.80,230.68 L172.80,230.36 L173.80,230.06 L174.80,229.76 L175.24,229.63 M195.19,225.40 L196.19,225.26 L197.19,225.13 L198.19,225.00 L199.19,224.88 L200.19,224.77 L201.19,224.66 L202.19,224.56 L203.19,224.46 L204.19,224.37 L205.19,224.29 L206.19,224.21 L207.19,224.13 L208.19,224.06 L209.19,224.00 L210.19,223.94 L211.19,223.88 L211.90,223.85 M232.00,223.68 L233.00,223.71 L234.00,223.74 L235.00,223.78 L236.00,223.82 L237.00,223.86 L238.00,223.90 L239.00,223.95 L240.00,224.00 L241.00,224.05 L242.00,224.10 L243.00,224.16 L244.00,224.22 L245.00,224.28 L246.00,224.34 L247.00,224.41 L247.70,224.45 M267.40,226.07 L268.40,226.16 L269.40,226.25 L270.40,226.34 L271.40,226.44 L272.40,226.53 L273.40,226.62 L274.40,226.72 L275.40,226.81 L276.40,226.91 L277.40,227.01 L278.40,227.10 L279.40,227.20 L280.40,227.30 L281.40,227.40 L282.40,227.50 L283.16,227.57 M303.19,229.68 L304.19,229.79 L305.19,229.90 L306.19,230.01 L307.19,230.13 L308.19,230.24 L309.19,230.35 L310.19,230.46 L311.19,230.58 L312.19,230.69 L313.19,230.81 L314.19,230.92 L315.19,231.04 L316.19,231.15 L317.19,231.27 L318.19,231.38 L318.81,231.46 M338.69,233.80 L339.69,233.92 L340.69,234.03 L341.69,234.15 L342.69,234.27 L343.69,234.39 L344.69,234.50 L345.69,234.62 L346.69,234.73 L347.69,234.85 L348.69,234.96 L349.69,235.08 L350.69,235.19 L351.69,235.30 L352.69,235.41 L353.69,235.52 L354.69,235.63 L354.81,235.64 M374.19,237.59 L375.19,237.70 L376.19,237.80 L377.19,237.91 L378.19,238.02 L379.19,238.13 L380.19,238.24 L381.19,238.35 L382.19,238.47 L383.19,238.58 L384.19,238.70 L385.19,238.82 L386.19,238.95 L387.19,239.08 L388.19,239.21 L389.19,239.34 L390.11,239.46" stroke="#ff0000" stroke-width="2.0"/>
<path d="M92.20,278.64 L93.20,278.67 L94.20,278.70 L95.20,278.71 L96.20,278.71 L97.20,278.70 L98.20,278.67 L99.20,278.63 L100.20,278.58 L101.20,278.52 L102.20,278.44 L103.20,278.36 L104.20,278.26 L105.20,278.15 L106.20,278.02 L107.20,277.89 L107.71,277.81 M127.34,272.74 L128.34,272.37 L129.34,271.99 L130.34,271.61 L131.34,271.21 L132.34,270.81 L133.34,270.40 L134.34,269.98 L135.34,269.56 L136.34,269.13 L137.34,268.70 L138.34,268.27 L139.34,267.83 L140.34,267.40 L141.34,266.96 L142.18,266.58 M160.52,258.69 L161.52,258.28 L162.52,257.88 L163.52,257.47 L164.52,257.07 L165.52,256.68 L166.52,256.29 L167.52,255.90 L168.52,255.51 L169.52,255.14 L170.52,254.76 L171.52,254.39 L172.52,254.02 L173.52,253.66 L174.52,253.31 L175.52,252.96 L176.52,252.61 L177.52,252.27 L177.85,252.16 M197.47,246.67 L198.47,246.45 L199.47,246.23 L200.47,246.01 L201.47,245.80 L202.47,245.59 L203.47,245.39 L204.47,245.19 L205.47,245.00 L206.47,244.81 L207.47,244.63 L208.47,244.45 L209.47,244.27 L210.47,244.10 L211.47,243.94 L212.47,243.77 L213.47,243.62 L214.47,243.46 L214.61,243.44 M234.40,241.16 L235.40,241.08 L236.40,241.00 L237.40,240.93 L238.40,240.86 L239.40,240.79 L240.40,240.72 L241.40,240.66 L242.40,240.59 L243.40,240.54 L244.40,240.48 L245.40,240.43 L246.40,240.37 L247.40,240.32 L248.40,240.28 L249.40,240.23 L250.30,240.20 M270.30,239.76 L271.30,239.76 L272.30,239.76 L273.30,239.76 L274.30,239.76 L275.30,239.76 L276.30,239.77 L277.30,239.78 L278.30,239.79 L279.30,239.80 L280.30,239.81 L281.30,239.82 L282.30,239.84 L283.30,239.85 L284.30,239.87 L285.30,239.89 L285.90,239.90 M305.90,240.58 L306.90,240.62 L307.90,240.67 L308.90,240.72 L309.90,240.77 L310.90,240.82 L311.90,240.87 L312.90,240.92 L313.90,240.97 L314.90,241.02 L315.90,241.08 L316.90,241.13 L317.90,241.18 L318.90,241.24 L319.90,241.30 L320.90,241.36 L321.70,241.40 M341.40,242.66 L342.40,242.73 L343.40,242.80 L344.40,242.87 L345.40,242.94 L346.40,243.00 L347.40,243.07 L348.40,243.14 L349.40,243.21 L350.40,243.28 L351.40,243.35 L352.40,243.42 L353.40,243.49 L354.40,243.56 L355.40,243.63 L356.40,243.71 L357.40,243.78 L357.50,243.78 M377.20,245.14 L378.20,245.20 L379.20,245.27 L380.20,245.33 L381.20,245.40 L382.20,245.46 L383.20,245.53 L384.20,245.59 L385.20,245.65 L386.20,245.71 L387.20,245.77 L388.20,245.84 L389.20,245.89 L390.20,245.95 L391.20,246.01 L392.20,246.07 L393.00,246.12" stroke="#a52a2a" stroke-width="2.0"/>
</g>
<rect x="80.1" y="44.0" width="325.90" height="238.20" fill="none" stroke="#1e1e1e" stroke-width="1.3"/>
<rect x="423.4" y="43.6" width="58.40" height="73.00" fill="#fff" stroke="#000" stroke-width="0.7"/>
<text transform="translate(426.5,56.10) scale(1,1.045)" font-size="14.1">z=5</text>
<path d="M459.65,51.10H471.85" stroke="#0000ff" stroke-width="2.5" stroke-linecap="round"/>
<text transform="translate(426.5,70.50) scale(1,1.045)" font-size="14.1">z=6</text>
<path d="M459.65,65.65H471.85" stroke="#009e00" stroke-width="2.5" stroke-linecap="round"/>
<text transform="translate(426.5,84.90) scale(1,1.045)" font-size="14.1">z=7</text>
<path d="M459.65,80.20H471.85" stroke="#ffa500" stroke-width="2.5" stroke-linecap="round"/>
<text transform="translate(426.5,99.30) scale(1,1.045)" font-size="14.1">z=8</text>
<path d="M459.65,94.75H471.85" stroke="#ff0000" stroke-width="2.5" stroke-linecap="round"/>
<text transform="translate(426.5,113.70) scale(1,1.045)" font-size="14.1">z=9</text>
<path d="M459.65,109.30H471.85" stroke="#a52a2a" stroke-width="2.5" stroke-linecap="round"/>

</g>
<g transform="translate(490.5,343.5)">
<clipPath id="cp3"><rect x="80.1" y="44.0" width="325.9" height="238.2"/></clipPath>
<text transform="translate(70.8,66.25) scale(1,1.045)" text-anchor="end">25</text>
<text transform="translate(70.8,110.41) scale(1,1.045)" text-anchor="end">25.5</text>
<text transform="translate(70.8,154.57) scale(1,1.045)" text-anchor="end">26</text>
<text transform="translate(70.8,198.73) scale(1,1.045)" text-anchor="end">26.5</text>
<text transform="translate(70.8,242.89) scale(1,1.045)" text-anchor="end">27</text>
<text transform="translate(70.8,287.05) scale(1,1.045)" text-anchor="end">27.5</text>
<text transform="translate(134.0,301.90) scale(1,1.045)" text-anchor="middle">2000</text>
<text transform="translate(202.39999999999998,301.90) scale(1,1.045)" text-anchor="middle">4000</text>
<text transform="translate(270.9,301.90) scale(1,1.045)" text-anchor="middle">6000</text>
<text transform="translate(339.4,301.90) scale(1,1.045)" text-anchor="middle">8000</text>
<path d="M80.1,61.40h5.4 M406.0,61.40h-5.4 M80.1,105.56h5.4 M406.0,105.56h-5.4 M80.1,149.72h5.4 M406.0,149.72h-5.4 M80.1,193.88h5.4 M406.0,193.88h-5.4 M80.1,238.04h5.4 M406.0,238.04h-5.4 M132.3,282.2v-5.4 M132.3,44.0v5.4 M200.7,282.2v-5.4 M200.7,44.0v5.4 M269.2,282.2v-5.4 M269.2,44.0v5.4 M337.7,282.2v-5.4 M337.7,44.0v5.4" stroke="#000" stroke-width="0.8" fill="none"/>
<text transform="translate(243.05,26.5) scale(1,1.045)" text-anchor="middle">F444W</text>
<text transform="translate(243.05,322.2) scale(1,1.045)" text-anchor="middle">t<tspan font-size="11.6" dy="4.6">obs</tspan><tspan dy="-4.6"> (days)</tspan></text>
<text transform="translate(15.1,163.10) rotate(-90) scale(1,1.045)" text-anchor="middle">Observed m<tspan font-size="11.6" dy="4.6">AB</tspan></text>
<g clip-path="url(#cp3)" fill="none" stroke-linecap="round" stroke-linejoin="round">
<path d="M80.10,92.09 L81.10,87.77 L82.10,83.80 L83.10,80.16 L84.10,76.84 L85.10,73.83 L86.10,71.10 L87.10,68.67 L88.10,66.50 L89.10,64.58 L90.10,62.91 L91.10,61.46 L92.10,60.23 L93.10,59.19 L94.10,58.32 L95.10,57.63 L96.10,57.08 L97.10,56.66 L98.10,56.36 L99.10,56.17 L100.10,56.06 L101.10,56.02 L102.10,56.05 L103.10,56.13 L104.10,56.26 L105.10,56.44 L106.10,56.66 L107.10,56.92 L108.10,57.23 L109.10,57.56 L110.10,57.93 L111.10,58.33 L112.10,58.75 L113.10,59.19 L114.10,59.65 L115.10,60.12 L116.10,60.61 L117.10,61.12 L118.10,61.64 L119.10,62.17 L120.10,62.71 L121.10,63.27 L122.10,63.83 L123.10,64.41 L124.10,64.99 L125.10,65.57 L126.10,66.17 L127.10,66.77 L128.10,67.37 L129.10,67.98 L130.10,68.59 L131.10,69.20 L132.10,69.82 L133.10,70.43 L134.10,71.04 L135.10,71.65 L136.10,72.26 L137.10,72.86 L138.10,73.46 L139.10,74.05 L140.10,74.64 L141.10,75.23 L142.10,75.81 L143.10,76.38 L144.10,76.96 L145.10,77.52 L146.10,78.09 L147.10,78.65 L148.10,79.20 L149.10,79.75 L150.10,80.29 L151.10,80.83 L152.10,81.36 L153.10,81.89 L154.10,82.42 L155.10,82.94 L156.10,83.45 L157.10,83.96 L158.10,84.46 L159.10,84.96 L160.10,85.45 L161.10,85.93 L162.10,86.41 L163.10,86.89 L164.10,87.36 L165.10,87.82 L166.10,88.28 L167.10,88.73 L168.10,89.17 L169.10,89.61 L170.10,90.05 L171.10,90.47 L172.10,90.89 L173.10,91.31 L174.10,91.71 L175.10,92.12 L176.10,92.51 L177.10,92.90 L178.10,93.28 L179.10,93.66 L180.10,94.03 L181.10,94.39 L182.10,94.75 L183.10,95.10 L184.10,95.45 L185.10,95.79 L186.10,96.12 L187.10,96.45 L188.10,96.77 L189.10,97.09 L190.10,97.40 L191.10,97.71 L192.10,98.01 L193.10,98.31 L194.10,98.60 L195.10,98.89 L196.10,99.17 L197.10,99.44 L198.10,99.72 L199.10,99.98 L200.10,100.25 L201.10,100.50 L202.10,100.76 L203.10,101.01 L204.10,101.25 L205.10,101.49 L206.10,101.73 L207.10,101.96 L208.10,102.19 L209.10,102.41 L210.10,102.63 L211.10,102.85 L212.10,103.06 L213.10,103.27 L214.10,103.48 L215.10,103.68 L216.10,103.88 L217.10,104.07 L218.10,104.26 L219.10,104.45 L220.10,104.64 L221.10,104.82 L222.10,105.00 L223.10,105.18 L224.10,105.35 L225.10,105.53 L226.10,105.70 L227.10,105.87 L228.10,106.03 L229.10,106.20 L230.10,106.36 L231.10,106.52 L232.10,106.68 L233.10,106.84 L234.10,107.00 L235.10,107.16 L236.10,107.32 L237.10,107.47 L238.10,107.63 L239.10,107.79 L240.10,107.95 L241.10,108.11 L242.10,108.26 L243.10,108.42 L244.10,108.58 L245.10,108.74 L246.10,108.90 L247.10,109.06 L248.10,109.22 L249.10,109.37 L250.10,109.53 L251.10,109.68 L252.10,109.84 L253.10,109.99 L254.10,110.14 L255.10,110.29 L256.10,110.44 L257.10,110.58 L258.10,110.72 L259.10,110.86 L260.10,111.00 L261.10,111.13 L262.10,111.27 L263.10,111.40 L264.10,111.52 L265.10,111.64 L266.10,111.76 L267.10,111.88 L268.10,111.99 L269.10,112.11 L270.10,112.22 L271.10,112.32 L272.10,112.43 L273.10,112.53 L274.10,112.63 L275.10,112.73 L276.10,112.82 L277.10,112.92 L278.10,113.01 L279.10,113.10 L280.10,113.19 L281.10,113.28 L282.10,113.36 L283.10,113.45 L284.10,113.53 L285.10,113.61 L286.10,113.70 L287.10,113.78 L288.10,113.86 L289.10,113.93 L290.10,114.01 L291.10,114.09 L292.10,114.16 L293.10,114.24 L294.10,114.31 L295.10,114.39 L296.10,114.46 L297.10,114.53 L298.10,114.60 L299.10,114.67 L300.10,114.74 L301.10,114.80 L302.10,114.87 L303.10,114.94 L304.10,115.00 L305.10,115.06 L306.10,115.13 L307.10,115.19 L308.10,115.25 L309.10,115.31 L310.10,115.37 L311.10,115.43 L312.10,115.49 L313.10,115.55 L314.10,115.60 L315.10,115.66 L316.10,115.72 L317.10,115.77 L318.10,115.82 L319.10,115.88 L320.10,115.93 L321.10,115.98 L322.10,116.03 L323.10,116.08 L324.10,116.13 L325.10,116.18 L326.10,116.23 L327.10,116.28 L328.10,116.33 L329.10,116.38 L330.10,116.42 L331.10,116.47 L332.10,116.51 L333.10,116.56 L334.10,116.60 L335.10,116.65 L336.10,116.69 L337.10,116.73 L338.10,116.78 L339.10,116.82 L340.10,116.86 L341.10,116.90 L342.10,116.94 L343.10,116.98 L344.10,117.02 L345.10,117.06 L346.10,117.10 L347.10,117.14 L348.10,117.18 L349.10,117.21 L350.10,117.25 L351.10,117.29 L352.10,117.33 L353.10,117.36 L354.10,117.40 L355.10,117.43 L356.10,117.47 L357.10,117.51 L358.10,117.54 L359.10,117.58 L360.10,117.61 L361.10,117.64 L362.10,117.68 L363.10,117.71 L364.10,117.75 L365.10,117.78 L366.10,117.81 L367.10,117.84 L368.10,117.88 L369.10,117.91 L370.10,117.94 L371.10,117.98 L372.10,118.01 L373.10,118.04 L374.10,118.07 L375.10,118.10 L376.10,118.14 L377.10,118.17 L378.10,118.20 L379.10,118.23 L380.10,118.26 L381.10,118.29 L382.10,118.33 L383.10,118.36 L384.10,118.39 L385.10,118.42 L386.10,118.45 L387.10,118.48 L388.10,118.52 L389.10,118.55 L390.10,118.58 L391.10,118.61 L392.10,118.64 L393.10,118.68 L394.10,118.71 L395.10,118.74 L396.10,118.77 L397.10,118.81 L398.10,118.84 L399.10,118.87 L400.10,118.90 L401.10,118.94 L402.10,118.97 L403.10,119.00 L404.10,119.04 L405.10,119.07 L406.00,119.10" stroke="#0000ff" stroke-width="2.5"/>
<path d="M83.46,140.26 L84.46,138.09 L85.46,135.77 L86.46,133.36 L87.46,130.89 L88.46,128.40 L89.46,125.94 L90.46,123.54 L91.46,121.23 L92.46,119.07 L93.46,117.03 L94.46,115.13 L95.46,113.35 L96.46,111.68 L97.46,110.11 L98.46,108.65 L99.46,107.28 L100.46,106.01 L101.46,104.85 L102.46,103.79 L103.46,102.84 L104.46,102.01 L105.46,101.29 L106.46,100.67 L107.46,100.14 L108.46,99.68 L109.46,99.28 L110.46,98.94 L111.46,98.64 L112.46,98.39 L113.46,98.17 L114.46,98.00 L115.46,97.86 L116.46,97.76 L117.46,97.69 L118.46,97.66 L119.46,97.66 L120.46,97.69 L121.46,97.75 L122.46,97.84 L123.46,97.96 L124.46,98.10 L125.46,98.26 L126.46,98.44 L127.46,98.64 L128.46,98.87 L129.46,99.11 L130.46,99.36 L131.46,99.63 L132.46,99.91 L133.46,100.21 L134.46,100.51 L135.46,100.82 L136.46,101.14 L137.46,101.46 L138.46,101.79 L139.46,102.13 L140.46,102.46 L141.46,102.81 L142.46,103.15 L143.46,103.51 L144.46,103.86 L145.46,104.22 L146.46,104.58 L147.46,104.94 L148.46,105.31 L149.46,105.68 L150.46,106.05 L151.46,106.43 L152.46,106.80 L153.46,107.18 L154.46,107.56 L155.46,107.94 L156.46,108.32 L157.46,108.70 L158.46,109.08 L159.46,109.46 L160.46,109.85 L161.46,110.23 L162.46,110.61 L163.46,110.99 L164.46,111.37 L165.46,111.74 L166.46,112.12 L167.46,112.49 L168.46,112.87 L169.46,113.24 L170.46,113.61 L171.46,113.97 L172.46,114.33 L173.46,114.69 L174.46,115.05 L175.46,115.40 L176.46,115.75 L177.46,116.09 L178.46,116.43 L179.46,116.77 L180.46,117.10 L181.46,117.43 L182.46,117.76 L183.46,118.08 L184.46,118.40 L185.46,118.72 L186.46,119.03 L187.46,119.34 L188.46,119.65 L189.46,119.95 L190.46,120.25 L191.46,120.55 L192.46,120.84 L193.46,121.13 L194.46,121.42 L195.46,121.70 L196.46,121.98 L197.46,122.26 L198.46,122.54 L199.46,122.81 L200.46,123.08 L201.46,123.35 L202.46,123.62 L203.46,123.88 L204.46,124.14 L205.46,124.40 L206.46,124.65 L207.46,124.90 L208.46,125.16 L209.46,125.40 L210.46,125.65 L211.46,125.89 L212.46,126.13 L213.46,126.37 L214.46,126.61 L215.46,126.85 L216.46,127.08 L217.46,127.31 L218.46,127.54 L219.46,127.77 L220.46,127.99 L221.46,128.22 L222.46,128.44 L223.46,128.66 L224.46,128.88 L225.46,129.10 L226.46,129.31 L227.46,129.53 L228.46,129.75 L229.46,129.96 L230.46,130.18 L231.46,130.39 L232.46,130.60 L233.46,130.82 L234.46,131.03 L235.46,131.25 L236.46,131.46 L237.46,131.68 L238.46,131.90 L239.46,132.12 L240.46,132.34 L241.46,132.56 L242.46,132.78 L243.46,133.00 L244.46,133.22 L245.46,133.45 L246.46,133.67 L247.46,133.89 L248.46,134.12 L249.46,134.34 L250.46,134.56 L251.46,134.78 L252.46,134.99 L253.46,135.21 L254.46,135.42 L255.46,135.63 L256.46,135.84 L257.46,136.05 L258.46,136.25 L259.46,136.45 L260.46,136.64 L261.46,136.83 L262.46,137.01 L263.46,137.20 L264.46,137.37 L265.46,137.54 L266.46,137.71 L267.46,137.88 L268.46,138.04 L269.46,138.19 L270.46,138.34 L271.46,138.49 L272.46,138.64 L273.46,138.78 L274.46,138.92 L275.46,139.06 L276.46,139.19 L277.46,139.32 L278.46,139.45 L279.46,139.58 L280.46,139.70 L281.46,139.83 L282.46,139.95 L283.46,140.07 L284.46,140.18 L285.46,140.30 L286.46,140.41 L287.46,140.53 L288.46,140.64 L289.46,140.75 L290.46,140.86 L291.46,140.97 L292.46,141.07 L293.46,141.18 L294.46,141.28 L295.46,141.39 L296.46,141.49 L297.46,141.59 L298.46,141.69 L299.46,141.79 L300.46,141.89 L301.46,141.98 L302.46,142.08 L303.46,142.17 L304.46,142.27 L305.46,142.36 L306.46,142.45 L307.46,142.54 L308.46,142.63 L309.46,142.72 L310.46,142.81 L311.46,142.89 L312.46,142.98 L313.46,143.06 L314.46,143.14 L315.46,143.23 L316.46,143.31 L317.46,143.39 L318.46,143.47 L319.46,143.55 L320.46,143.63 L321.46,143.70 L322.46,143.78 L323.46,143.85 L324.46,143.93 L325.46,144.00 L326.46,144.08 L327.46,144.15 L328.46,144.22 L329.46,144.29 L330.46,144.36 L331.46,144.43 L332.46,144.50 L333.46,144.57 L334.46,144.63 L335.46,144.70 L336.46,144.77 L337.46,144.83 L338.46,144.90 L339.46,144.96 L340.46,145.02 L341.46,145.09 L342.46,145.15 L343.46,145.21 L344.46,145.27 L345.46,145.33 L346.46,145.39 L347.46,145.45 L348.46,145.51 L349.46,145.57 L350.46,145.63 L351.46,145.69 L352.46,145.74 L353.46,145.80 L354.46,145.86 L355.46,145.91 L356.46,145.97 L357.46,146.02 L358.46,146.08 L359.46,146.13 L360.46,146.19 L361.46,146.24 L362.46,146.29 L363.46,146.35 L364.46,146.40 L365.46,146.45 L366.46,146.50 L367.46,146.56 L368.46,146.61 L369.46,146.66 L370.46,146.71 L371.46,146.76 L372.46,146.81 L373.46,146.86 L374.46,146.91 L375.46,146.96 L376.46,147.01 L377.46,147.07 L378.46,147.12 L379.46,147.17 L380.46,147.22 L381.46,147.27 L382.46,147.31 L383.46,147.36 L384.46,147.41 L385.46,147.46 L386.46,147.51 L387.46,147.56 L388.46,147.61 L389.46,147.66 L390.46,147.71 L391.46,147.76 L392.46,147.81 L393.46,147.86 L394.46,147.91 L395.46,147.96 L396.46,148.01 L397.46,148.06 L398.46,148.11 L399.46,148.17 L400.46,148.22 L401.46,148.27 L402.46,148.32 L403.46,148.37 L404.46,148.42 L405.46,148.47 L406.00,148.50" stroke="#009e00" stroke-width="2.5"/>
<path d="M86.19,223.79 L87.19,221.42 L88.19,219.06 L89.19,216.70 L90.19,214.35 L91.19,212.00 L92.19,209.66 L93.19,207.32 L94.19,204.99 L95.19,202.66 L96.19,200.34 L97.19,198.05 L98.19,195.80 L99.19,193.59 L100.19,191.45 L101.19,189.38 L102.19,187.39 L103.19,185.48 L104.19,183.66 L105.19,181.92 L106.19,180.26 L107.19,178.67 L108.19,177.17 L109.19,175.74 L110.19,174.39 L111.19,173.11 L112.19,171.90 L113.19,170.77 L114.19,169.71 L115.19,168.72 L116.19,167.79 L117.19,166.93 L118.19,166.13 L119.19,165.40 L120.19,164.72 L121.19,164.10 L122.19,163.53 L123.19,163.01 L124.19,162.55 L125.19,162.13 L126.19,161.76 L127.19,161.43 L128.19,161.14 L129.19,160.88 L130.19,160.66 L131.19,160.47 L132.19,160.30 L133.19,160.16 L134.19,160.04 L135.19,159.94 L136.19,159.86 L137.19,159.80 L138.19,159.76 L139.19,159.74 L140.19,159.74 L141.19,159.75 L142.19,159.77 L143.19,159.81 L144.19,159.87 L145.19,159.93 L146.19,160.01 L147.19,160.11 L148.19,160.22 L149.19,160.34 L150.19,160.47 L151.19,160.61 L152.19,160.76 L153.19,160.93 L154.19,161.10 L155.19,161.29 L156.19,161.49 L157.19,161.69 L158.19,161.91 L159.19,162.13 L160.19,162.36 L161.19,162.60 L162.19,162.84 L163.19,163.10 L164.19,163.36 L165.19,163.63 L166.19,163.90 L167.19,164.18 L168.19,164.46 L169.19,164.75 L170.19,165.05 L171.19,165.34 L172.19,165.65 L173.19,165.95 L174.19,166.26 L175.19,166.57 L176.19,166.89 L177.19,167.20 L178.19,167.52 L179.19,167.84 L180.19,168.17 L181.19,168.49 L182.19,168.82 L183.19,169.14 L184.19,169.47 L185.19,169.80 L186.19,170.13 L187.19,170.46 L188.19,170.80 L189.19,171.13 L190.19,171.46 L191.19,171.80 L192.19,172.13 L193.19,172.46 L194.19,172.80 L195.19,173.13 L196.19,173.46 L197.19,173.80 L198.19,174.13 L199.19,174.46 L200.19,174.79 L201.19,175.12 L202.19,175.44 L203.19,175.77 L204.19,176.09 L205.19,176.41 L206.19,176.73 L207.19,177.05 L208.19,177.37 L209.19,177.68 L210.19,177.99 L211.19,178.30 L212.19,178.61 L213.19,178.91 L214.19,179.21 L215.19,179.50 L216.19,179.80 L217.19,180.09 L218.19,180.37 L219.19,180.65 L220.19,180.93 L221.19,181.21 L222.19,181.48 L223.19,181.74 L224.19,182.01 L225.19,182.28 L226.19,182.55 L227.19,182.82 L228.19,183.09 L229.19,183.37 L230.19,183.65 L231.19,183.95 L232.19,184.25 L233.19,184.56 L234.19,184.88 L235.19,185.21 L236.19,185.54 L237.19,185.88 L238.19,186.22 L239.19,186.56 L240.19,186.91 L241.19,187.25 L242.19,187.59 L243.19,187.93 L244.19,188.26 L245.19,188.59 L246.19,188.92 L247.19,189.25 L248.19,189.58 L249.19,189.90 L250.19,190.22 L251.19,190.54 L252.19,190.86 L253.19,191.17 L254.19,191.48 L255.19,191.78 L256.19,192.09 L257.19,192.39 L258.19,192.68 L259.19,192.98 L260.19,193.26 L261.19,193.55 L262.19,193.83 L263.19,194.11 L264.19,194.38 L265.19,194.65 L266.19,194.92 L267.19,195.18 L268.19,195.44 L269.19,195.70 L270.19,195.95 L271.19,196.20 L272.19,196.45 L273.19,196.69 L274.19,196.93 L275.19,197.17 L276.19,197.40 L277.19,197.63 L278.19,197.86 L279.19,198.09 L280.19,198.31 L281.19,198.53 L282.19,198.75 L283.19,198.96 L284.19,199.17 L285.19,199.38 L286.19,199.59 L287.19,199.79 L288.19,199.99 L289.19,200.20 L290.19,200.39 L291.19,200.59 L292.19,200.78 L293.19,200.97 L294.19,201.16 L295.19,201.35 L296.19,201.54 L297.19,201.72 L298.19,201.90 L299.19,202.08 L300.19,202.26 L301.19,202.44 L302.19,202.61 L303.19,202.78 L304.19,202.95 L305.19,203.12 L306.19,203.29 L307.19,203.46 L308.19,203.62 L309.19,203.79 L310.19,203.95 L311.19,204.11 L312.19,204.27 L313.19,204.43 L314.19,204.59 L315.19,204.74 L316.19,204.90 L317.19,205.05 L318.19,205.21 L319.19,205.36 L320.19,205.51 L321.19,205.66 L322.19,205.81 L323.19,205.96 L324.19,206.10 L325.19,206.25 L326.19,206.40 L327.19,206.54 L328.19,206.69 L329.19,206.83 L330.19,206.98 L331.19,207.12 L332.19,207.26 L333.19,207.40 L334.19,207.55 L335.19,207.69 L336.19,207.83 L337.19,207.97 L338.19,208.11 L339.19,208.25 L340.19,208.39 L341.19,208.53 L342.19,208.66 L343.19,208.80 L344.19,208.94 L345.19,209.07 L346.19,209.21 L347.19,209.35 L348.19,209.48 L349.19,209.61 L350.19,209.75 L351.19,209.88 L352.19,210.01 L353.19,210.14 L354.19,210.27 L355.19,210.40 L356.19,210.53 L357.19,210.66 L358.19,210.79 L359.19,210.92 L360.19,211.04 L361.19,211.17 L362.19,211.30 L363.19,211.42 L364.19,211.54 L365.19,211.67 L366.19,211.79 L367.19,211.91 L368.19,212.03 L369.19,212.15 L370.19,212.27 L371.19,212.39 L372.19,212.51 L373.19,212.63 L374.19,212.74 L375.19,212.86 L376.19,212.98 L377.19,213.09 L378.19,213.20 L379.19,213.32 L380.19,213.43 L381.19,213.54 L382.19,213.65 L383.19,213.76 L384.19,213.87 L385.19,213.97 L386.19,214.08 L387.19,214.19 L388.19,214.29 L389.19,214.39 L390.19,214.50 L391.19,214.60 L392.19,214.70 L393.19,214.80 L394.19,214.90 L395.19,215.00 L396.19,215.10 L397.19,215.19 L398.19,215.29 L399.19,215.38 L400.19,215.48 L401.19,215.57 L402.19,215.66 L403.19,215.75 L404.19,215.84 L405.19,215.93 L406.00,216.00" stroke="#ffa500" stroke-width="2.5"/>
<path d="M89.54,222.14 L90.54,221.55 L91.54,220.89 L92.54,220.15 L93.54,219.35 L94.54,218.49 L95.54,217.58 L96.54,216.62 L97.54,215.61 L98.54,214.56 L99.54,213.47 L100.54,212.35 L101.54,211.19 L102.54,210.00 L103.54,208.79 L104.54,207.55 L105.54,206.30 L106.54,205.03 L107.54,203.75 L108.54,202.46 L109.54,201.18 L110.54,199.94 L111.54,198.73 L112.54,197.57 L113.54,196.46 L114.54,195.41 L115.54,194.41 L116.54,193.45 L117.54,192.51 L118.54,191.60 L119.54,190.71 L120.54,189.82 L121.54,188.95 L122.54,188.09 L123.54,187.25 L124.54,186.43 L125.54,185.63 L126.54,184.86 L127.54,184.11 L128.54,183.40 L129.54,182.71 L130.54,182.06 L131.54,181.44 L132.54,180.85 L133.54,180.30 L134.54,179.78 L135.54,179.29 L136.54,178.83 L137.54,178.40 L138.54,177.99 L139.54,177.61 L140.54,177.25 L141.54,176.91 L142.54,176.59 L143.54,176.30 L144.54,176.02 L145.54,175.75 L146.54,175.51 L147.54,175.28 L148.54,175.07 L149.54,174.88 L150.54,174.70 L151.54,174.54 L152.54,174.39 L153.54,174.26 L154.54,174.14 L155.54,174.04 L156.54,173.94 L157.54,173.86 L158.54,173.80 L159.54,173.74 L160.54,173.70 L161.54,173.66 L162.54,173.64 L163.54,173.62 L164.54,173.62 L165.54,173.62 L166.54,173.63 L167.54,173.65 L168.54,173.67 L169.54,173.71 L170.54,173.75 L171.54,173.80 L172.54,173.85 L173.54,173.92 L174.54,173.98 L175.54,174.06 L176.54,174.14 L177.54,174.22 L178.54,174.31 L179.54,174.40 L180.54,174.50 L181.54,174.60 L182.54,174.71 L183.54,174.82 L184.54,174.93 L185.54,175.05 L186.54,175.16 L187.54,175.28 L188.54,175.41 L189.54,175.53 L190.54,175.66 L191.54,175.80 L192.54,175.94 L193.54,176.08 L194.54,176.23 L195.54,176.38 L196.54,176.54 L197.54,176.71 L198.54,176.88 L199.54,177.07 L200.54,177.25 L201.54,177.44 L202.54,177.63 L203.54,177.83 L204.54,178.03 L205.54,178.22 L206.54,178.42 L207.54,178.61 L208.54,178.80 L209.54,178.98 L210.54,179.16 L211.54,179.33 L212.54,179.50 L213.54,179.66 L214.54,179.82 L215.54,179.98 L216.54,180.13 L217.54,180.28 L218.54,180.43 L219.54,180.58 L220.54,180.72 L221.54,180.87 L222.54,181.02 L223.54,181.16 L224.54,181.31 L225.54,181.46 L226.54,181.61 L227.54,181.76 L228.54,181.91 L229.54,182.07 L230.54,182.23 L231.54,182.40 L232.54,182.57 L233.54,182.75 L234.54,182.93 L235.54,183.11 L236.54,183.30 L237.54,183.49 L238.54,183.69 L239.54,183.89 L240.54,184.09 L241.54,184.30 L242.54,184.51 L243.54,184.72 L244.54,184.93 L245.54,185.15 L246.54,185.36 L247.54,185.58 L248.54,185.80 L249.54,186.02 L250.54,186.24 L251.54,186.46 L252.54,186.68 L253.54,186.91 L254.54,187.13 L255.54,187.35 L256.54,187.57 L257.54,187.79 L258.54,188.00 L259.54,188.22 L260.54,188.43 L261.54,188.64 L262.54,188.85 L263.54,189.06 L264.54,189.26 L265.54,189.47 L266.54,189.67 L267.54,189.86 L268.54,190.06 L269.54,190.25 L270.54,190.44 L271.54,190.63 L272.54,190.81 L273.54,190.99 L274.54,191.18 L275.54,191.35 L276.54,191.53 L277.54,191.70 L278.54,191.87 L279.54,192.04 L280.54,192.21 L281.54,192.38 L282.54,192.54 L283.54,192.70 L284.54,192.86 L285.54,193.01 L286.54,193.17 L287.54,193.32 L288.54,193.47 L289.54,193.62 L290.54,193.77 L291.54,193.91 L292.54,194.05 L293.54,194.20 L294.54,194.33 L295.54,194.47 L296.54,194.61 L297.54,194.74 L298.54,194.87 L299.54,195.00 L300.54,195.13 L301.54,195.26 L302.54,195.38 L303.54,195.50 L304.54,195.63 L305.54,195.74 L306.54,195.86 L307.54,195.98 L308.54,196.09 L309.54,196.21 L310.54,196.32 L311.54,196.43 L312.54,196.54 L313.54,196.65 L314.54,196.75 L315.54,196.86 L316.54,196.96 L317.54,197.07 L318.54,197.17 L319.54,197.27 L320.54,197.37 L321.54,197.47 L322.54,197.57 L323.54,197.67 L324.54,197.77 L325.54,197.87 L326.54,197.97 L327.54,198.07 L328.54,198.17 L329.54,198.27 L330.54,198.36 L331.54,198.46 L332.54,198.56 L333.54,198.66 L334.54,198.76 L335.54,198.86 L336.54,198.96 L337.54,199.06 L338.54,199.16 L339.54,199.26 L340.54,199.36 L341.54,199.47 L342.54,199.57 L343.54,199.68 L344.54,199.78 L345.54,199.89 L346.54,200.00 L347.54,200.11 L348.54,200.22 L349.54,200.33 L350.54,200.45 L351.54,200.56 L352.54,200.68 L353.54,200.80 L354.54,200.92 L355.54,201.04 L356.54,201.17 L357.54,201.30 L358.54,201.42 L359.54,201.56 L360.54,201.69 L361.54,201.82 L362.54,201.96 L363.54,202.10 L364.54,202.24 L365.54,202.39 L366.54,202.53 L367.54,202.68 L368.54,202.83 L369.54,202.98 L370.54,203.13 L371.54,203.27 L372.54,203.42 L373.54,203.57 L374.54,203.72 L375.54,203.86 L376.54,204.01 L377.54,204.15 L378.54,204.29 L379.54,204.43 L380.54,204.57 L381.54,204.70 L382.54,204.83 L383.54,204.96 L384.54,205.08 L385.54,205.20 L386.54,205.31 L387.54,205.42 L388.54,205.53 L389.54,205.63 L390.54,205.72 L391.54,205.81 L392.54,205.90 L393.54,205.97 L394.54,206.05 L395.54,206.11 L396.54,206.17 L397.54,206.22 L398.54,206.26 L399.54,206.29 L400.54,206.32 L401.54,206.33 L402.54,206.34 L403.54,206.34 L404.54,206.33 L405.54,206.31 L406.00,206.30" stroke="#ff0000" stroke-width="2.5"/>
<path d="M92.12,238.98 L93.12,238.73 L94.12,238.45 L95.12,238.14 L96.12,237.82 L97.12,237.46 L98.12,237.08 L99.12,236.67 L100.12,236.23 L101.12,235.77 L102.12,235.28 L103.12,234.75 L104.12,234.20 L105.12,233.61 L106.12,233.00 L107.12,232.35 L108.12,231.67 L109.12,230.96 L110.12,230.22 L111.12,229.46 L112.12,228.68 L113.12,227.88 L114.12,227.07 L115.12,226.24 L116.12,225.41 L117.12,224.57 L118.12,223.73 L119.12,222.89 L120.12,222.06 L121.12,221.22 L122.12,220.40 L123.12,219.59 L124.12,218.80 L125.12,218.01 L126.12,217.24 L127.12,216.48 L128.12,215.73 L129.12,214.99 L130.12,214.27 L131.12,213.57 L132.12,212.87 L133.12,212.19 L134.12,211.53 L135.12,210.88 L136.12,210.25 L137.12,209.64 L138.12,209.04 L139.12,208.45 L140.12,207.89 L141.12,207.34 L142.12,206.81 L143.12,206.30 L144.12,205.80 L145.12,205.33 L146.12,204.87 L147.12,204.43 L148.12,204.01 L149.12,203.61 L150.12,203.23 L151.12,202.86 L152.12,202.51 L153.12,202.18 L154.12,201.86 L155.12,201.55 L156.12,201.26 L157.12,200.98 L158.12,200.71 L159.12,200.45 L160.12,200.21 L161.12,199.97 L162.12,199.74 L163.12,199.52 L164.12,199.31 L165.12,199.11 L166.12,198.91 L167.12,198.72 L168.12,198.54 L169.12,198.36 L170.12,198.19 L171.12,198.03 L172.12,197.87 L173.12,197.72 L174.12,197.58 L175.12,197.44 L176.12,197.31 L177.12,197.18 L178.12,197.06 L179.12,196.95 L180.12,196.84 L181.12,196.74 L182.12,196.64 L183.12,196.55 L184.12,196.47 L185.12,196.39 L186.12,196.32 L187.12,196.25 L188.12,196.19 L189.12,196.13 L190.12,196.08 L191.12,196.04 L192.12,196.00 L193.12,195.96 L194.12,195.93 L195.12,195.90 L196.12,195.88 L197.12,195.87 L198.12,195.86 L199.12,195.85 L200.12,195.85 L201.12,195.86 L202.12,195.87 L203.12,195.88 L204.12,195.90 L205.12,195.92 L206.12,195.95 L207.12,195.98 L208.12,196.01 L209.12,196.05 L210.12,196.09 L211.12,196.14 L212.12,196.19 L213.12,196.25 L214.12,196.31 L215.12,196.37 L216.12,196.44 L217.12,196.51 L218.12,196.58 L219.12,196.66 L220.12,196.74 L221.12,196.83 L222.12,196.91 L223.12,197.01 L224.12,197.10 L225.12,197.20 L226.12,197.30 L227.12,197.40 L228.12,197.51 L229.12,197.62 L230.12,197.73 L231.12,197.85 L232.12,197.97 L233.12,198.09 L234.12,198.21 L235.12,198.34 L236.12,198.47 L237.12,198.60 L238.12,198.73 L239.12,198.86 L240.12,199.00 L241.12,199.14 L242.12,199.28 L243.12,199.42 L244.12,199.56 L245.12,199.70 L246.12,199.85 L247.12,199.99 L248.12,200.14 L249.12,200.28 L250.12,200.43 L251.12,200.57 L252.12,200.72 L253.12,200.87 L254.12,201.01 L255.12,201.16 L256.12,201.30 L257.12,201.45 L258.12,201.59 L259.12,201.73 L260.12,201.87 L261.12,202.01 L262.12,202.15 L263.12,202.29 L264.12,202.43 L265.12,202.56 L266.12,202.70 L267.12,202.83 L268.12,202.96 L269.12,203.09 L270.12,203.21 L271.12,203.34 L272.12,203.47 L273.12,203.59 L274.12,203.72 L275.12,203.84 L276.12,203.96 L277.12,204.08 L278.12,204.20 L279.12,204.32 L280.12,204.44 L281.12,204.55 L282.12,204.67 L283.12,204.78 L284.12,204.90 L285.12,205.01 L286.12,205.13 L287.12,205.24 L288.12,205.35 L289.12,205.46 L290.12,205.57 L291.12,205.69 L292.12,205.80 L293.12,205.91 L294.12,206.02 L295.12,206.13 L296.12,206.23 L297.12,206.34 L298.12,206.45 L299.12,206.56 L300.12,206.67 L301.12,206.78 L302.12,206.89 L303.12,207.00 L304.12,207.11 L305.12,207.22 L306.12,207.33 L307.12,207.43 L308.12,207.54 L309.12,207.65 L310.12,207.76 L311.12,207.87 L312.12,207.99 L313.12,208.10 L314.12,208.21 L315.12,208.32 L316.12,208.43 L317.12,208.54 L318.12,208.65 L319.12,208.77 L320.12,208.88 L321.12,208.99 L322.12,209.10 L323.12,209.21 L324.12,209.33 L325.12,209.44 L326.12,209.55 L327.12,209.66 L328.12,209.78 L329.12,209.89 L330.12,210.00 L331.12,210.11 L332.12,210.22 L333.12,210.34 L334.12,210.45 L335.12,210.56 L336.12,210.67 L337.12,210.78 L338.12,210.89 L339.12,211.00 L340.12,211.12 L341.12,211.23 L342.12,211.34 L343.12,211.45 L344.12,211.56 L345.12,211.67 L346.12,211.78 L347.12,211.88 L348.12,211.99 L349.12,212.10 L350.12,212.21 L351.12,212.32 L352.12,212.42 L353.12,212.53 L354.12,212.64 L355.12,212.74 L356.12,212.85 L357.12,212.95 L358.12,213.06 L359.12,213.16 L360.12,213.27 L361.12,213.37 L362.12,213.47 L363.12,213.57 L364.12,213.67 L365.12,213.78 L366.12,213.88 L367.12,213.98 L368.12,214.07 L369.12,214.17 L370.12,214.27 L371.12,214.37 L372.12,214.46 L373.12,214.56 L374.12,214.65 L375.12,214.75 L376.12,214.84 L377.12,214.93 L378.12,215.03 L379.12,215.12 L380.12,215.21 L381.12,215.30 L382.12,215.38 L383.12,215.47 L384.12,215.56 L385.12,215.64 L386.12,215.73 L387.12,215.81 L388.12,215.90 L389.12,215.98 L390.12,216.06 L391.12,216.14 L392.12,216.22 L393.12,216.30 L394.12,216.37 L395.12,216.45 L396.12,216.52 L397.12,216.60 L398.12,216.67 L399.12,216.74 L400.12,216.81 L401.12,216.88 L402.12,216.95 L403.12,217.02 L404.12,217.08 L405.12,217.15 L406.00,217.20" stroke="#a52a2a" stroke-width="2.5"/>
<path d="M80.10,140.99 L81.10,133.92 L82.10,127.89 L82.71,124.63 M87.48,104.04 L88.48,101.09 L89.48,98.65 L90.48,96.52 L91.48,94.51 L92.48,92.65 L93.48,91.00 L93.85,90.45 M112.51,90.72 L113.51,91.46 L114.51,92.22 L115.51,93.01 L116.51,93.80 L117.51,94.61 L118.51,95.44 L119.51,96.28 L120.51,97.13 L121.51,97.99 L122.51,98.86 L123.51,99.73 L124.51,100.61 L125.51,101.50 L126.51,102.38 L127.51,103.27 L128.35,104.02 M143.97,117.49 L144.97,118.32 L145.97,119.15 L146.97,119.97 L147.97,120.78 L148.97,121.60 L149.97,122.40 L150.97,123.20 L151.97,124.00 L152.97,124.79 L153.97,125.57 L154.97,126.35 L155.97,127.12 L156.97,127.89 L157.97,128.65 L158.97,129.40 L159.97,130.15 L160.97,130.89 L161.97,131.62 L162.97,132.35 L163.97,133.07 L164.97,133.78 L164.98,133.79 M182.27,144.84 L183.27,145.40 L184.27,145.95 L185.27,146.50 L186.27,147.03 L187.27,147.56 L188.27,148.07 L189.27,148.59 L190.27,149.09 L191.27,149.59 L192.27,150.08 L193.27,150.56 L194.27,151.04 L195.27,151.52 L196.27,151.99 L197.27,152.45 L198.27,152.91 L199.27,153.37 L200.27,153.82 L201.27,154.27 L202.19,154.68 M221.24,162.41 L222.24,162.76 L223.24,163.10 L224.24,163.43 L225.24,163.76 L226.24,164.08 L227.24,164.40 L228.24,164.72 L229.24,165.02 L230.24,165.33 L231.24,165.63 L232.24,165.92 L233.24,166.22 L234.24,166.51 L235.24,166.80 L236.24,167.09 L237.24,167.37 L238.24,167.65 L238.94,167.85 M258.47,173.11 L259.47,173.36 L260.47,173.60 L261.47,173.83 L262.47,174.07 L263.47,174.30 L264.47,174.53 L265.47,174.75 L266.47,174.98 L267.47,175.19 L268.47,175.41 L269.47,175.62 L270.47,175.83 L271.47,176.04 L272.47,176.25 L273.47,176.45 L274.47,176.65 L274.82,176.71 M294.69,180.14 L295.69,180.29 L296.69,180.44 L297.69,180.59 L298.69,180.73 L299.69,180.87 L300.69,181.01 L301.69,181.15 L302.69,181.29 L303.69,181.43 L304.69,181.56 L305.69,181.70 L306.69,181.83 L307.69,181.96 L308.69,182.09 L309.69,182.21 L310.69,182.34 L310.71,182.34 M330.69,184.61 L331.69,184.72 L332.69,184.82 L333.69,184.92 L334.69,185.02 L335.69,185.12 L336.69,185.21 L337.69,185.31 L338.69,185.41 L339.69,185.50 L340.69,185.60 L341.69,185.69 L342.69,185.78 L343.69,185.88 L344.69,185.97 L345.69,186.06 L346.40,186.12 M366.00,187.75 L367.00,187.83 L368.00,187.91 L369.00,187.99 L370.00,188.06 L371.00,188.14 L372.00,188.21 L373.00,188.29 L374.00,188.36 L375.00,188.44 L376.00,188.51 L377.00,188.59 L378.00,188.66 L379.00,188.74 L380.00,188.81 L381.00,188.88 L382.00,188.95 L382.20,188.97 M401.90,190.38 L402.90,190.45 L403.90,190.52 L404.90,190.59 L405.90,190.66 L406.00,190.67" stroke="#0000ff" stroke-width="2.0"/>
<path d="M83.02,194.69 L84.02,190.37 L85.02,186.13 L86.02,181.99 L86.56,179.83 M92.11,160.02 L93.11,157.07 L94.11,154.32 L95.11,151.76 L96.11,149.38 L97.11,147.17 L98.04,145.27 M111.28,130.24 L112.28,129.81 L113.28,129.45 L114.28,129.15 L115.28,128.91 L116.28,128.72 L117.28,128.58 L118.28,128.50 L119.28,128.45 L120.28,128.46 L121.28,128.50 L122.28,128.59 L123.28,128.71 L124.28,128.87 L125.28,129.06 L126.28,129.29 L127.28,129.54 L128.28,129.82 L129.28,130.13 L130.28,130.46 L131.28,130.82 L132.28,131.19 L133.28,131.60 L134.28,132.02 L134.89,132.28 M152.98,141.85 L153.98,142.39 L154.98,142.93 L155.98,143.46 L156.98,143.99 L157.98,144.52 L158.98,145.05 L159.98,145.57 L160.98,146.09 L161.98,146.62 L162.98,147.14 L163.98,147.66 L164.98,148.18 L165.98,148.70 L166.98,149.22 L167.98,149.75 L168.92,150.24 M186.90,159.63 L187.90,160.11 L188.90,160.58 L189.90,161.04 L190.90,161.50 L191.90,161.95 L192.90,162.39 L193.90,162.83 L194.90,163.27 L195.90,163.70 L196.90,164.12 L197.90,164.54 L198.90,164.96 L199.90,165.38 L200.90,165.79 L201.90,166.21 L202.90,166.62 L203.90,167.03 L204.87,167.42 M224.04,174.94 L225.04,175.29 L226.04,175.64 L227.04,175.98 L228.04,176.32 L229.04,176.66 L230.04,177.00 L231.04,177.33 L232.04,177.66 L233.04,177.98 L234.04,178.31 L235.04,178.63 L236.04,178.95 L237.04,179.27 L238.04,179.59 L239.04,179.92 L240.04,180.24 L241.04,180.56 L241.45,180.69 M260.77,186.65 L261.77,186.90 L262.77,187.15 L263.77,187.39 L264.77,187.62 L265.77,187.85 L266.77,188.07 L267.77,188.29 L268.77,188.50 L269.77,188.71 L270.77,188.92 L271.77,189.13 L272.77,189.34 L273.77,189.55 L274.77,189.75 L275.77,189.96 L276.77,190.17 L277.32,190.29 M297.18,194.58 L298.18,194.76 L299.18,194.94 L300.18,195.11 L301.18,195.28 L302.18,195.44 L303.18,195.60 L304.18,195.76 L305.18,195.92 L306.18,196.07 L307.18,196.23 L308.18,196.38 L309.18,196.54 L310.18,196.69 L311.18,196.85 L312.18,197.02 L313.18,197.18 L313.51,197.24 M332.99,200.64 L333.99,200.78 L334.99,200.92 L335.99,201.05 L336.99,201.17 L337.99,201.29 L338.99,201.41 L339.99,201.52 L340.99,201.63 L341.99,201.74 L342.99,201.85 L343.99,201.95 L344.99,202.06 L345.99,202.17 L346.99,202.27 L347.99,202.38 L348.96,202.49 M368.79,204.92 L369.79,205.03 L370.79,205.15 L371.79,205.26 L372.79,205.36 L373.79,205.47 L374.79,205.58 L375.79,205.68 L376.79,205.78 L377.79,205.88 L378.79,205.97 L379.79,206.07 L380.79,206.16 L381.79,206.26 L382.79,206.35 L383.79,206.44 L384.60,206.51 M404.60,208.09 L405.60,208.16 L406.00,208.19" stroke="#009e00" stroke-width="2.0"/>
<path d="M85.90,283.09 L86.90,279.38 L87.90,275.61 L88.90,271.79 L89.90,267.94 L90.45,265.80 M95.65,245.57 L96.65,241.76 L97.65,238.05 L98.65,234.47 L99.65,231.09 L99.70,230.92 M107.24,211.89 L108.24,209.94 L109.24,208.08 L110.24,206.30 L111.24,204.62 L112.24,203.02 L113.24,201.51 L114.24,200.08 L115.24,198.74 L115.37,198.57 M122.84,191.14 L123.84,190.46 L124.84,189.85 L125.84,189.29 L126.84,188.79 L127.84,188.35 L128.84,187.95 L129.84,187.59 L130.84,187.28 L131.84,186.99 L132.84,186.74 L133.84,186.51 L134.84,186.30 L135.84,186.11 L136.84,185.94 L137.16,185.88 M157.35,188.48 L158.35,188.82 L159.35,189.16 L160.35,189.50 L161.35,189.86 L162.35,190.22 L163.35,190.58 L164.35,190.95 L165.35,191.32 L166.35,191.70 L167.35,192.08 L168.35,192.47 L169.35,192.86 L170.35,193.26 L171.35,193.66 L172.35,194.06 L173.35,194.46 L173.37,194.47 M191.82,202.30 L192.82,202.74 L193.82,203.18 L194.82,203.62 L195.82,204.06 L196.82,204.50 L197.82,204.95 L198.82,205.39 L199.82,205.83 L200.82,206.28 L201.82,206.73 L202.82,207.17 L203.82,207.62 L204.82,208.06 L205.82,208.51 L206.82,208.96 L207.82,209.40 L208.49,209.70 M226.92,217.84 L227.92,218.27 L228.92,218.70 L229.92,219.13 L230.92,219.55 L231.92,219.98 L232.92,220.40 L233.92,220.83 L234.92,221.25 L235.92,221.67 L236.92,222.08 L237.92,222.50 L238.92,222.91 L239.92,223.33 L240.92,223.74 L241.92,224.15 L242.92,224.56 L243.92,224.97 L244.27,225.11 M263.14,232.45 L264.14,232.82 L265.14,233.19 L266.14,233.56 L267.14,233.92 L268.14,234.29 L269.14,234.65 L270.14,235.01 L271.14,235.37 L272.14,235.72 L273.14,236.07 L274.14,236.43 L275.14,236.78 L276.14,237.12 L277.14,237.47 L278.14,237.81 L279.14,238.15 L280.14,238.49 L280.25,238.53 M299.56,244.67 L300.56,244.97 L301.56,245.26 L302.56,245.56 L303.56,245.85 L304.56,246.14 L305.56,246.43 L306.56,246.72 L307.56,247.00 L308.56,247.29 L309.56,247.57 L310.56,247.85 L311.56,248.12 L312.56,248.40 L313.56,248.68 L314.56,248.95 L315.56,249.22 L316.13,249.37 M335.77,254.35 L336.77,254.59 L337.77,254.82 L338.77,255.06 L339.77,255.29 L340.77,255.53 L341.77,255.76 L342.77,255.99 L343.77,256.22 L344.77,256.45 L345.77,256.68 L346.77,256.90 L347.77,257.13 L348.77,257.36 L349.77,257.58 L350.77,257.81 L351.77,258.03 L352.22,258.13 M371.67,262.52 L372.67,262.75 L373.67,262.97 L374.67,263.20 L375.67,263.42 L376.67,263.63 L377.67,263.83 L378.67,264.03 L379.67,264.21 L380.67,264.38 L381.67,264.53 L382.67,264.67 L383.67,264.80 L384.67,264.90 L385.67,264.99 L386.67,265.05 L387.60,265.08" stroke="#ffa500" stroke-width="2.0"/>
<path d="M98.70,283.22 L99.70,280.88 L100.70,278.54 L101.70,276.20 L102.70,273.87 L103.70,271.55 L104.70,269.25 L105.70,266.97 L105.79,266.76 M114.78,248.13 L115.78,246.34 L116.78,244.63 L117.78,242.98 L118.78,241.39 L119.78,239.86 L120.78,238.39 L121.78,236.98 L122.78,235.63 L123.18,235.09 M135.61,222.75 L136.61,222.07 L137.61,221.44 L138.61,220.84 L139.61,220.28 L140.61,219.74 L141.61,219.23 L142.61,218.74 L143.61,218.27 L144.61,217.82 L145.61,217.39 L146.61,216.98 L147.61,216.60 L148.61,216.24 L149.61,215.90 L149.84,215.83 M170.00,213.98 L171.00,214.04 L172.00,214.11 L173.00,214.19 L174.00,214.27 L175.00,214.36 L176.00,214.47 L177.00,214.58 L178.00,214.69 L179.00,214.82 L180.00,214.95 L181.00,215.09 L182.00,215.24 L183.00,215.40 L184.00,215.56 L185.00,215.73 L186.00,215.90 L187.00,216.09 L187.32,216.14 M206.77,220.63 L207.77,220.89 L208.77,221.15 L209.77,221.42 L210.77,221.68 L211.77,221.95 L212.77,222.22 L213.77,222.49 L214.77,222.76 L215.77,223.04 L216.77,223.31 L217.77,223.59 L218.77,223.87 L219.77,224.15 L220.77,224.43 L221.77,224.71 L222.74,224.99 M241.76,230.58 L242.76,230.88 L243.76,231.19 L244.76,231.49 L245.76,231.80 L246.76,232.10 L247.76,232.41 L248.76,232.71 L249.76,233.02 L250.76,233.32 L251.76,233.63 L252.76,233.94 L253.76,234.25 L254.76,234.55 L255.76,234.86 L256.76,235.17 L257.76,235.48 L258.14,235.60 M277.56,241.42 L278.56,241.70 L279.56,241.97 L280.56,242.24 L281.56,242.51 L282.56,242.78 L283.56,243.05 L284.56,243.31 L285.56,243.58 L286.56,243.84 L287.56,244.10 L288.56,244.37 L289.56,244.63 L290.56,244.89 L291.56,245.15 L292.56,245.42 L293.56,245.68 L293.93,245.78 M313.57,251.07 L314.57,251.33 L315.57,251.58 L316.57,251.83 L317.57,252.08 L318.57,252.33 L319.57,252.58 L320.57,252.82 L321.57,253.06 L322.57,253.30 L323.57,253.54 L324.57,253.78 L325.57,254.01 L326.57,254.24 L327.57,254.47 L328.57,254.70 L329.52,254.92 M349.38,259.16 L350.38,259.36 L351.38,259.56 L352.38,259.77 L353.38,259.97 L354.38,260.17 L355.38,260.37 L356.38,260.57 L357.38,260.78 L358.38,260.98 L359.38,261.18 L360.38,261.38 L361.38,261.58 L362.38,261.78 L363.38,261.98 L364.38,262.18 L365.38,262.38 L365.42,262.39 M385.58,266.35 L386.58,266.54 L387.58,266.72 L388.58,266.89 L389.58,267.07 L390.58,267.24 L391.58,267.41 L392.58,267.58 L393.58,267.74 L394.58,267.90 L395.58,268.06 L396.58,268.22 L397.58,268.37 L398.58,268.52 L399.58,268.66 L400.58,268.80 L401.11,268.87" stroke="#ff0000" stroke-width="2.0"/>
<path d="M117.50,283.10 L118.50,281.66 L119.50,280.24 L120.50,278.84 L121.50,277.45 L122.50,276.08 L123.50,274.73 L124.50,273.39 L125.50,272.08 L126.50,270.78 L127.50,269.51 L128.07,268.80 M142.15,253.83 L143.15,253.00 L144.15,252.20 L145.15,251.44 L146.15,250.71 L147.15,250.02 L148.15,249.37 L149.15,248.76 L150.15,248.17 L151.15,247.62 L152.15,247.09 L153.15,246.58 L154.15,246.09 L155.15,245.62 L156.15,245.16 L157.15,244.72 L158.15,244.27 L159.15,243.84 L160.15,243.42 L161.15,243.00 L162.15,242.59 L163.15,242.20 L164.15,241.81 L165.15,241.44 L166.15,241.09 L167.15,240.75 L168.15,240.43 L169.04,240.16 M189.30,237.03 L190.30,236.97 L191.30,236.93 L192.30,236.89 L193.30,236.86 L194.30,236.84 L195.30,236.83 L196.30,236.82 L197.30,236.82 L198.30,236.82 L199.30,236.83 L200.30,236.85 L201.30,236.88 L202.30,236.91 L203.30,236.95 L204.30,236.99 L205.30,237.04 L206.10,237.09 M225.79,239.14 L226.79,239.28 L227.79,239.43 L228.79,239.58 L229.79,239.73 L230.79,239.89 L231.79,240.04 L232.79,240.20 L233.79,240.36 L234.79,240.53 L235.79,240.69 L236.79,240.86 L237.79,241.03 L238.79,241.20 L239.79,241.37 L240.79,241.54 L241.41,241.65 M261.38,245.27 L262.38,245.46 L263.38,245.65 L264.38,245.84 L265.38,246.03 L266.38,246.22 L267.38,246.41 L268.38,246.60 L269.38,246.80 L270.38,246.99 L271.38,247.18 L272.38,247.38 L273.38,247.57 L274.38,247.77 L275.38,247.96 L276.38,248.16 L277.32,248.34 M296.78,252.23 L297.78,252.43 L298.78,252.63 L299.78,252.83 L300.78,253.04 L301.78,253.24 L302.78,253.44 L303.78,253.65 L304.78,253.85 L305.78,254.05 L306.78,254.26 L307.78,254.46 L308.78,254.66 L309.78,254.87 L310.78,255.07 L311.78,255.27 L312.72,255.46 M332.53,259.48 L333.53,259.68 L334.53,259.88 L335.53,260.08 L336.53,260.28 L337.53,260.48 L338.53,260.68 L339.53,260.88 L340.53,261.08 L341.53,261.27 L342.53,261.47 L343.53,261.67 L344.53,261.86 L345.53,262.06 L346.53,262.25 L347.53,262.45 L348.47,262.63 M368.39,266.28 L369.39,266.45 L370.39,266.62 L371.39,266.79 L372.39,266.96 L373.39,267.12 L374.39,267.29 L375.39,267.45 L376.39,267.61 L377.39,267.77 L378.39,267.93 L379.39,268.08 L380.39,268.24 L381.39,268.39 L382.39,268.54 L383.39,268.69 L384.39,268.84 L384.41,268.84 M403.88,271.84 L404.88,272.04 L405.88,272.24 L406.00,272.27" stroke="#a52a2a" stroke-width="2.0"/>
</g>
<rect x="80.1" y="44.0" width="325.90" height="238.20" fill="none" stroke="#1e1e1e" stroke-width="1.3"/>
<rect x="423.4" y="43.6" width="58.40" height="73.00" fill="#fff" stroke="#000" stroke-width="0.7"/>
<text transform="translate(426.5,56.10) scale(1,1.045)" font-size="14.1">z=5</text>
<path d="M459.65,51.10H471.85" stroke="#0000ff" stroke-width="2.5" stroke-linecap="round"/>
<text transform="translate(426.5,70.50) scale(1,1.045)" font-size="14.1">z=6</text>
<path d="M459.65,65.65H471.85" stroke="#009e00" stroke-width="2.5" stroke-linecap="round"/>
<text transform="translate(426.5,84.90) scale(1,1.045)" font-size="14.1">z=7</text>
<path d="M459.65,80.20H471.85" stroke="#ffa500" stroke-width="2.5" stroke-linecap="round"/>
<text transform="translate(426.5,99.30) scale(1,1.045)" font-size="14.1">z=8</text>
<path d="M459.65,94.75H471.85" stroke="#ff0000" stroke-width="2.5" stroke-linecap="round"/>
<text transform="translate(426.5,113.70) scale(1,1.045)" font-size="14.1">z=9</text>
<path d="M459.65,109.30H471.85" stroke="#a52a2a" stroke-width="2.5" stroke-linecap="round"/>

</g>
</svg>
</body></html>
